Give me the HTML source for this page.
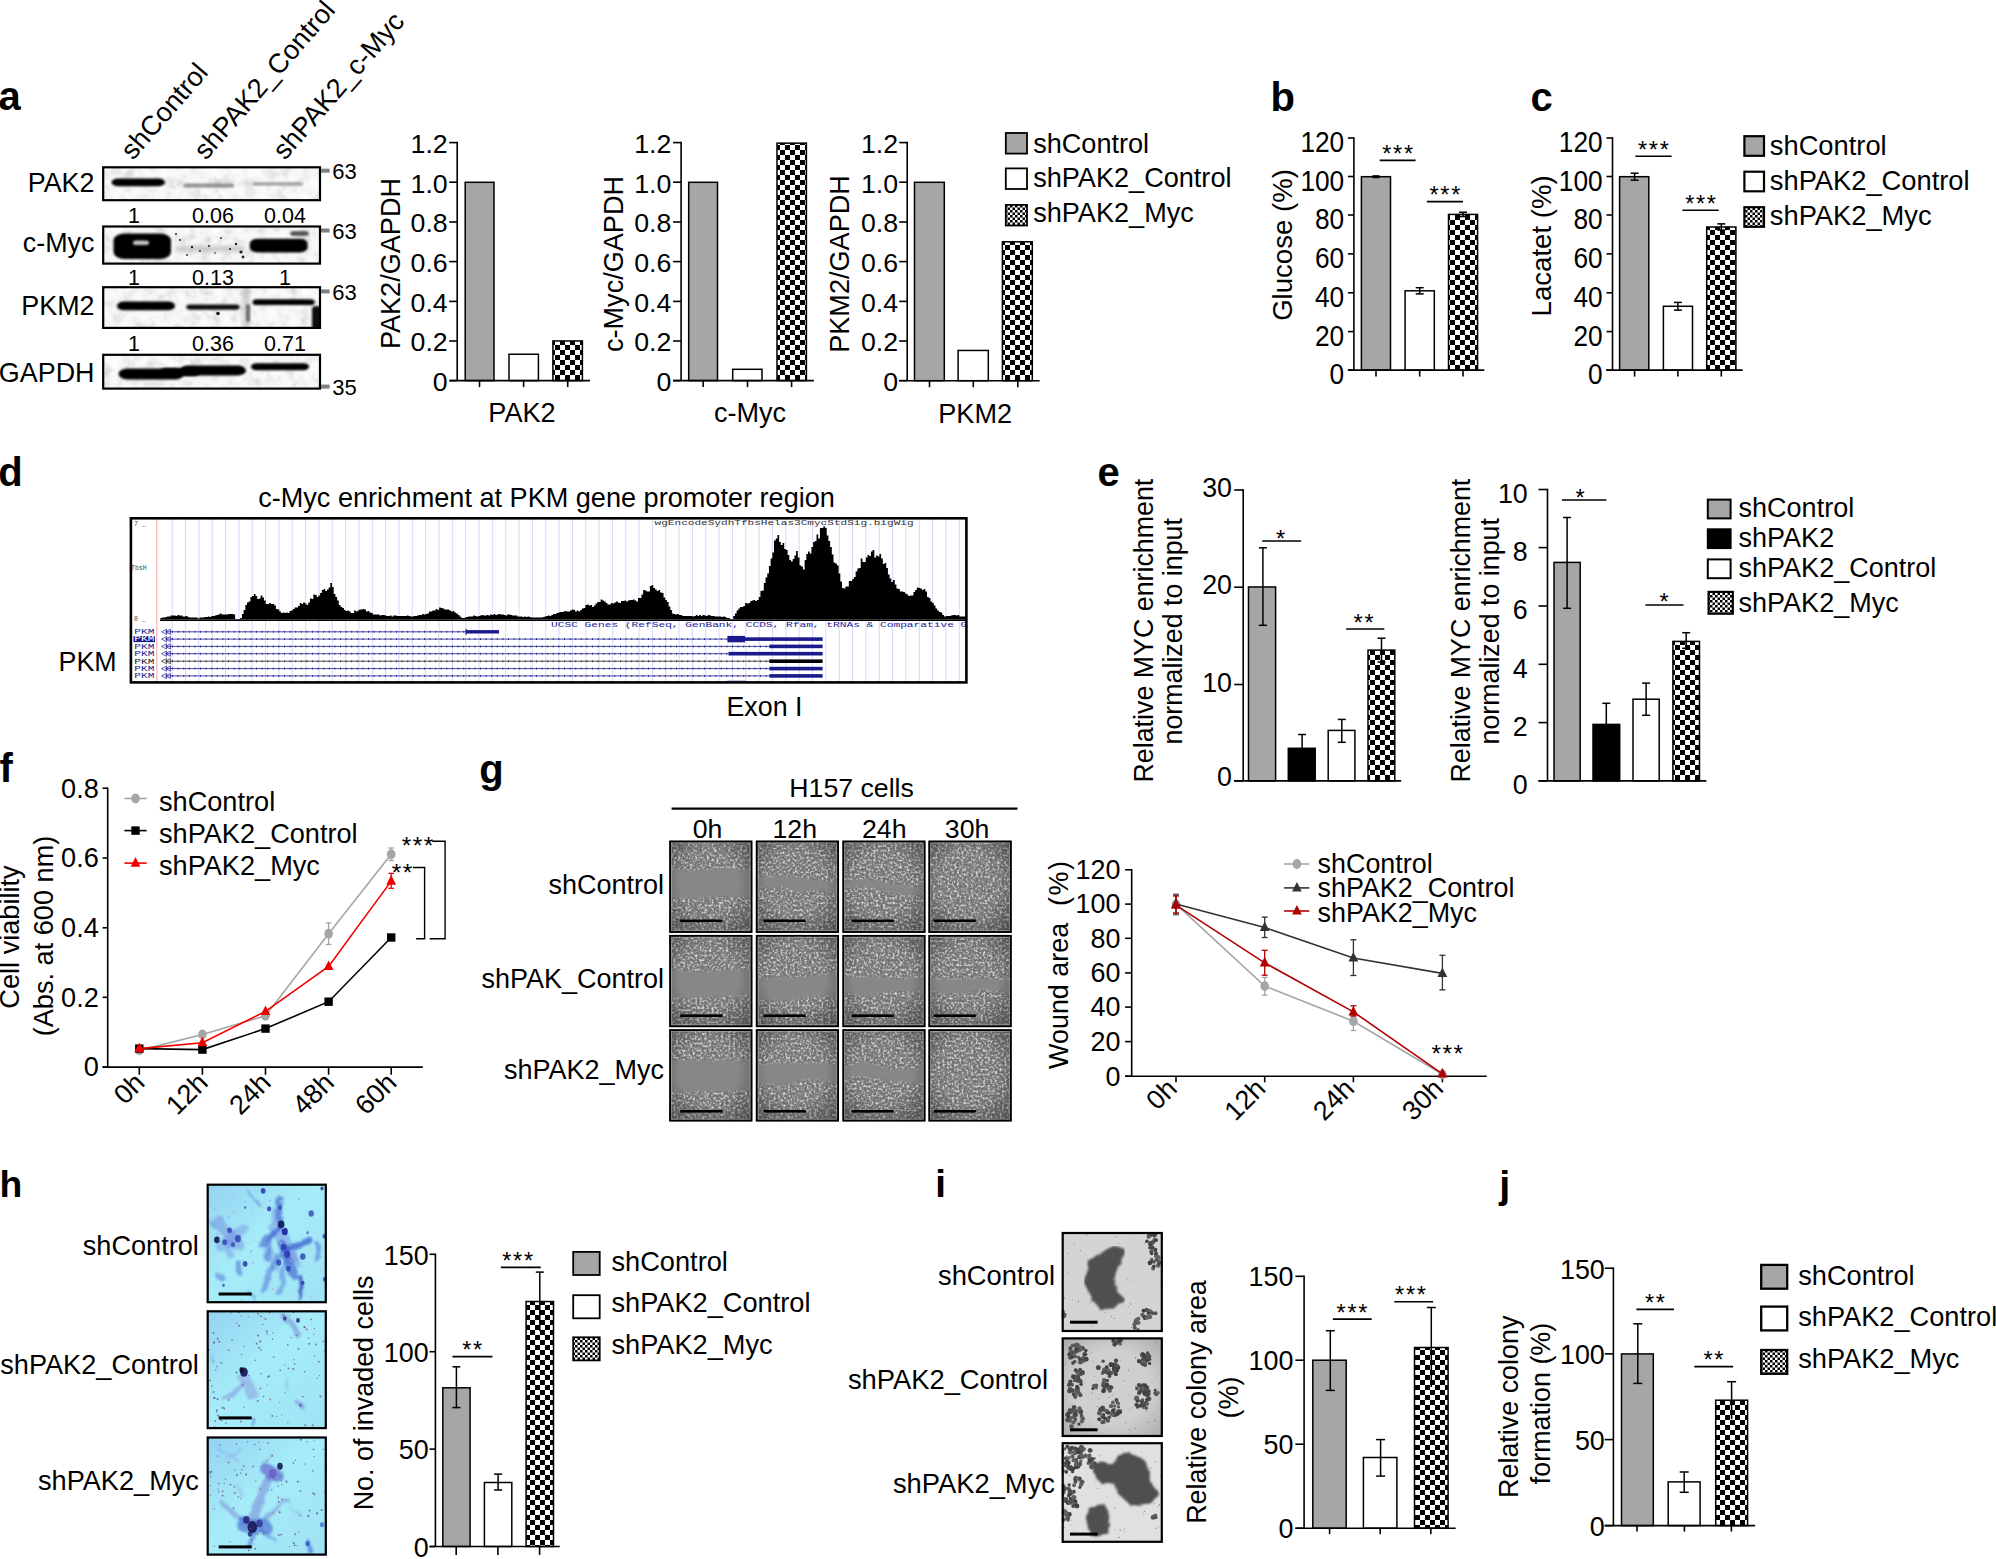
<!DOCTYPE html>
<html><head><meta charset="utf-8"><title>Figure</title>
<style>html,body{margin:0;padding:0;background:#fff}svg{display:block}text{font-family:"Liberation Sans",sans-serif}</style>
</head><body>
<svg width="1996" height="1559" viewBox="0 0 1996 1559">
<defs>
<pattern id="chk" width="10" height="10" patternUnits="userSpaceOnUse"><rect width="10" height="10" fill="#fff"/><rect width="5" height="5" fill="#000"/><rect x="5" y="5" width="5" height="5" fill="#000"/></pattern>
<pattern id="chks" width="5" height="5" patternUnits="userSpaceOnUse"><rect width="5" height="5" fill="#fff"/><rect width="2.5" height="2.5" fill="#000"/><rect x="2.5" y="2.5" width="2.5" height="2.5" fill="#000"/></pattern>
<filter id="blur1" x="-20%" y="-50%" width="140%" height="200%"><feGaussianBlur stdDeviation="1.1"/></filter>
<filter id="blur2" x="-20%" y="-50%" width="140%" height="200%"><feGaussianBlur stdDeviation="2.2"/></filter>
<filter id="blur3" x="-30%" y="-30%" width="160%" height="160%"><feGaussianBlur stdDeviation="3.5"/></filter>

<filter id="cells0" x="0" y="0" width="100%" height="100%" color-interpolation-filters="sRGB"><feTurbulence type="fractalNoise" baseFrequency="0.42" numOctaves="2" seed="3" result="n"/><feColorMatrix in="n" type="matrix" values="1 0 0 0 0  1 0 0 0 0  1 0 0 0 0  0 0 0 0 1"/><feComponentTransfer><feFuncR type="table" tableValues=".41 .43 .51 .82 .94"/><feFuncG type="table" tableValues=".41 .43 .51 .82 .94"/><feFuncB type="table" tableValues=".41 .43 .51 .82 .94"/></feComponentTransfer><feComposite in2="SourceGraphic" operator="in"/></filter>
<filter id="cells1" x="0" y="0" width="100%" height="100%" color-interpolation-filters="sRGB"><feTurbulence type="fractalNoise" baseFrequency="0.42" numOctaves="2" seed="11" result="n"/><feColorMatrix in="n" type="matrix" values="1 0 0 0 0  1 0 0 0 0  1 0 0 0 0  0 0 0 0 1"/><feComponentTransfer><feFuncR type="table" tableValues=".41 .43 .51 .82 .94"/><feFuncG type="table" tableValues=".41 .43 .51 .82 .94"/><feFuncB type="table" tableValues=".41 .43 .51 .82 .94"/></feComponentTransfer><feComposite in2="SourceGraphic" operator="in"/></filter>
<filter id="cells2" x="0" y="0" width="100%" height="100%" color-interpolation-filters="sRGB"><feTurbulence type="fractalNoise" baseFrequency="0.42" numOctaves="2" seed="23" result="n"/><feColorMatrix in="n" type="matrix" values="1 0 0 0 0  1 0 0 0 0  1 0 0 0 0  0 0 0 0 1"/><feComponentTransfer><feFuncR type="table" tableValues=".41 .43 .51 .82 .94"/><feFuncG type="table" tableValues=".41 .43 .51 .82 .94"/><feFuncB type="table" tableValues=".41 .43 .51 .82 .94"/></feComponentTransfer><feComposite in2="SourceGraphic" operator="in"/></filter>
<radialGradient id="vig" cx="48%" cy="46%" r="78%"><stop offset="0.45" stop-color="#000" stop-opacity="0"/><stop offset="1" stop-color="#000" stop-opacity=".45"/></radialGradient>

<linearGradient id="hbg" x1="0" y1="0" x2="1" y2="1"><stop offset="0" stop-color="#93d2f2"/><stop offset=".45" stop-color="#a6ecf8"/><stop offset="1" stop-color="#9fe2f6"/></linearGradient>
<radialGradient id="vig2" cx="50%" cy="50%" r="75%"><stop offset="0.5" stop-color="#000" stop-opacity="0"/><stop offset="1" stop-color="#000" stop-opacity=".3"/></radialGradient>
<filter id="blur05" x="-10%" y="-10%" width="120%" height="120%"><feGaussianBlur stdDeviation="0.6"/></filter>
<filter id="wob" x="-5%" y="-5%" width="110%" height="110%"><feTurbulence type="fractalNoise" baseFrequency="0.09" numOctaves="2" seed="5" result="t"/><feDisplacementMap in="SourceGraphic" in2="t" scale="7" xChannelSelector="R" yChannelSelector="G"/><feGaussianBlur stdDeviation="1.0"/></filter>
<filter id="blotn" x="0" y="0" width="100%" height="100%" color-interpolation-filters="sRGB"><feTurbulence type="fractalNoise" baseFrequency="0.09" numOctaves="3" seed="8" result="n"/><feColorMatrix in="n" type="matrix" values="1 0 0 0 0  1 0 0 0 0  1 0 0 0 0  0 0 0 0 1"/><feComponentTransfer><feFuncR type="table" tableValues=".80 .90 .965 .99 1"/><feFuncG type="table" tableValues=".80 .90 .965 .99 1"/><feFuncB type="table" tableValues=".80 .90 .965 .99 1"/></feComponentTransfer><feComposite in2="SourceGraphic" operator="in"/></filter>
</defs>
<rect width="1996" height="1559" fill="#fff"/>
<text x="-1.5" y="110.3" font-size="40" font-weight="bold">a</text>
<text transform="translate(133 161) rotate(-49)" font-size="27.2">shControl</text>
<text transform="translate(206 161) rotate(-49)" font-size="27.2">shPAK2_Control</text>
<text transform="translate(285 161) rotate(-49)" font-size="27.2">shPAK2_c-Myc</text>
<text x="134" y="222.9" font-size="21.5" text-anchor="middle">1</text>
<text x="213" y="222.9" font-size="21.5" text-anchor="middle">0.06</text>
<text x="285" y="222.9" font-size="21.5" text-anchor="middle">0.04</text>
<text x="134" y="284.6" font-size="21.5" text-anchor="middle">1</text>
<text x="213" y="284.6" font-size="21.5" text-anchor="middle">0.13</text>
<text x="285" y="284.6" font-size="21.5" text-anchor="middle">1</text>
<text x="134" y="351.3" font-size="21.5" text-anchor="middle">1</text>
<text x="213" y="351.3" font-size="21.5" text-anchor="middle">0.36</text>
<text x="285" y="351.3" font-size="21.5" text-anchor="middle">0.71</text>
<g filter="url(#blur1)">
<clipPath id="bc0"><rect x="102.4" y="166.5" width="218.4" height="34.5"/></clipPath>
<clipPath id="bc1"><rect x="102.4" y="225.7" width="218.4" height="38.69999999999999"/></clipPath>
<clipPath id="bc2"><rect x="102.4" y="286.4" width="218.4" height="42.30000000000001"/></clipPath>
<clipPath id="bc3"><rect x="102.4" y="354" width="218.4" height="35.39999999999998"/></clipPath>
</g>
<rect x="102.4" y="166.5" width="218.4" height="34.5" fill="#f4f4f4" filter="url(#blotn)"/>
<rect x="102.4" y="225.7" width="218.4" height="38.7" fill="#f4f4f4" filter="url(#blotn)"/>
<rect x="102.4" y="286.4" width="218.4" height="42.3" fill="#f4f4f4" filter="url(#blotn)"/>
<rect x="102.4" y="354" width="218.4" height="35.4" fill="#f4f4f4" filter="url(#blotn)"/>
<rect clip-path="url(#bc0)" x="111.5" y="178.5" width="53.5" height="7.7" rx="6.16" ry="3.85" fill="#000" opacity="1" filter="url(#blur1)"/>
<rect clip-path="url(#bc0)" x="183.4" y="183.6" width="50.8" height="3.8" rx="3.04" ry="1.9" fill="#777" opacity="0.8" filter="url(#blur1)"/>
<rect clip-path="url(#bc0)" x="252.5" y="182.2" width="50.8" height="3.2" rx="2.56" ry="1.6" fill="#888" opacity="0.8" filter="url(#blur1)"/>
<rect clip-path="url(#bc1)" x="113.5" y="233.5" width="57.5" height="25.5" rx="11.2" ry="7" fill="#000" opacity="1" filter="url(#blur1)"/>
<rect clip-path="url(#bc1)" x="249.7" y="238.8" width="57.9" height="13.7" rx="8" ry="5" fill="#000" opacity="1" filter="url(#blur1)"/>
<rect clip-path="url(#bc1)" x="133" y="240.5" width="16" height="4.5" rx="3.2" ry="2" fill="#ddd" opacity="0.9" filter="url(#blur1)"/>
<rect clip-path="url(#bc1)" x="290" y="231" width="19" height="5" rx="4" ry="2.5" fill="#333" opacity="0.8" filter="url(#blur1)"/>
<rect clip-path="url(#bc1)" x="175" y="246" width="70" height="6" rx="4.8" ry="3" fill="#999" opacity="0.5" filter="url(#blur2)"/>
<circle cx="180" cy="240" r="1" fill="#222"/>
<circle cx="192" cy="247" r="1.2" fill="#222"/>
<circle cx="200" cy="251" r="0.9" fill="#222"/>
<circle cx="209" cy="246" r="1" fill="#222"/>
<circle cx="221" cy="238" r="0.9" fill="#222"/>
<circle cx="230" cy="249" r="1.1" fill="#222"/>
<circle cx="236" cy="244" r="1.2" fill="#222"/>
<circle cx="241" cy="252" r="1.6" fill="#222"/>
<circle cx="243" cy="257" r="1.4" fill="#222"/>
<circle cx="187" cy="255" r="0.9" fill="#222"/>
<circle cx="215" cy="253" r="0.8" fill="#222"/>
<circle cx="176" cy="234" r="1" fill="#222"/>
<rect clip-path="url(#bc2)" x="117" y="301.6" width="58" height="8.6" rx="6.88" ry="4.3" fill="#000" opacity="1" filter="url(#blur1)"/>
<rect clip-path="url(#bc2)" x="186.2" y="304.4" width="53.6" height="5.4" rx="4.32" ry="2.7" fill="#111" opacity="1" filter="url(#blur1)"/>
<rect clip-path="url(#bc2)" x="252.5" y="299.3" width="62.1" height="5.8" rx="4.64" ry="2.9" fill="#000" opacity="1" filter="url(#blur1)"/>
<rect clip-path="url(#bc2)" x="312" y="306" width="10" height="24" rx="4.8" ry="3" fill="#111" opacity="1" filter="url(#blur1)"/>
<rect clip-path="url(#bc2)" x="242" y="286" width="8" height="44" rx="4" ry="3" fill="#aaa" opacity="0.5" filter="url(#blur2)"/>
<rect clip-path="url(#bc2)" x="246" y="304" width="4" height="18" rx="2" ry="2" fill="#444" opacity="0.7" filter="url(#blur1)"/>
<circle cx="218" cy="313.5" r="1.8" fill="#111"/>
<rect clip-path="url(#bc3)" x="118.5" y="368.4" width="65.5" height="11.1" rx="8.88" ry="5.55" fill="#000" opacity="1" filter="url(#blur1)"/>
<rect clip-path="url(#bc3)" x="180" y="365.4" width="66" height="10.1" rx="8.08" ry="5.05" fill="#000" opacity="1" filter="url(#blur1)"/>
<rect clip-path="url(#bc3)" x="251" y="363.3" width="58" height="6.9" rx="5.52" ry="3.45" fill="#000" opacity="1" filter="url(#blur1)"/>
<rect clip-path="url(#bc3)" x="160" y="368" width="40" height="8" rx="6.4" ry="4" fill="#000" opacity="1" filter="url(#blur1)"/>
<rect x="103.2" y="167.3" width="216.8" height="32.9" fill="none" stroke="#000" stroke-width="2.2"/>
<rect x="103.2" y="226.5" width="216.8" height="37.1" fill="none" stroke="#000" stroke-width="2.2"/>
<rect x="103.2" y="287.2" width="216.8" height="40.7" fill="none" stroke="#000" stroke-width="2.2"/>
<rect x="103.2" y="354.8" width="216.8" height="33.8" fill="none" stroke="#000" stroke-width="2.2"/>
<rect x="321" y="168.7" width="8.6" height="4" fill="#7f7f7f"/>
<text x="332.3" y="178.6" font-size="22">63</text>
<rect x="321" y="228.5" width="8.6" height="4" fill="#7f7f7f"/>
<text x="332.3" y="238.7" font-size="22">63</text>
<rect x="321" y="289.4" width="8.6" height="4" fill="#7f7f7f"/>
<text x="332.3" y="300" font-size="22">63</text>
<rect x="321" y="384.6" width="8.6" height="4" fill="#7f7f7f"/>
<text x="332.3" y="394.8" font-size="22">35</text>
<text x="94.5" y="192" font-size="26.9" text-anchor="end">PAK2</text>
<text x="94.5" y="251.5" font-size="26.9" text-anchor="end">c-Myc</text>
<text x="94.5" y="314.8" font-size="26.9" text-anchor="end">PKM2</text>
<text x="94.5" y="382.4" font-size="26.9" text-anchor="end">GAPDH</text>
<rect x="465.2" y="182.3" width="28.8" height="198.3" fill="#a6a6a6" stroke="#000" stroke-width="1.5"/>
<rect x="509" y="354.23" width="29.4" height="26.37" fill="#fff" stroke="#000" stroke-width="1.5"/>
<rect x="552.9" y="340.94" width="29.5" height="39.66" fill="url(#chk)" stroke="#000" stroke-width="1.5"/>
<line x1="457.2" y1="141.8" x2="457.2" y2="380.6" stroke="#000" stroke-width="1.6"/>
<line x1="449.7" y1="380.6" x2="590" y2="380.6" stroke="#000" stroke-width="1.6"/>
<line x1="449.2" y1="142.6" x2="457.2" y2="142.6" stroke="#000" stroke-width="1.6"/>
<text x="447.7" y="152.9" font-size="26.7" text-anchor="end">1.2</text>
<line x1="449.2" y1="182.2" x2="457.2" y2="182.2" stroke="#000" stroke-width="1.6"/>
<text x="447.7" y="192.5" font-size="26.7" text-anchor="end">1.0</text>
<line x1="449.2" y1="222" x2="457.2" y2="222" stroke="#000" stroke-width="1.6"/>
<text x="447.7" y="232.3" font-size="26.7" text-anchor="end">0.8</text>
<line x1="449.2" y1="261.6" x2="457.2" y2="261.6" stroke="#000" stroke-width="1.6"/>
<text x="447.7" y="271.9" font-size="26.7" text-anchor="end">0.6</text>
<line x1="449.2" y1="301.4" x2="457.2" y2="301.4" stroke="#000" stroke-width="1.6"/>
<text x="447.7" y="311.7" font-size="26.7" text-anchor="end">0.4</text>
<line x1="449.2" y1="341" x2="457.2" y2="341" stroke="#000" stroke-width="1.6"/>
<text x="447.7" y="351.3" font-size="26.7" text-anchor="end">0.2</text>
<line x1="449.2" y1="380.6" x2="457.2" y2="380.6" stroke="#000" stroke-width="1.6"/>
<text x="447.7" y="390.9" font-size="26.7" text-anchor="end">0</text>
<line x1="479.5" y1="380.6" x2="479.5" y2="387.1" stroke="#000" stroke-width="1.6"/>
<line x1="523.6" y1="380.6" x2="523.6" y2="387.1" stroke="#000" stroke-width="1.6"/>
<line x1="567.7" y1="380.6" x2="567.7" y2="387.1" stroke="#000" stroke-width="1.6"/>
<text transform="translate(400 263.5) rotate(-90)" font-size="27.1" text-anchor="middle">PAK2/GAPDH</text>
<text x="522" y="421.9" font-size="27.1" text-anchor="middle">PAK2</text>
<rect x="688.7" y="182.3" width="28.8" height="198.3" fill="#a6a6a6" stroke="#000" stroke-width="1.5"/>
<rect x="732.7" y="369.3" width="29.3" height="11.3" fill="#fff" stroke="#000" stroke-width="1.5"/>
<rect x="777" y="143.14" width="29.4" height="237.46" fill="url(#chk)" stroke="#000" stroke-width="1.5"/>
<line x1="681.1" y1="141.8" x2="681.1" y2="380.6" stroke="#000" stroke-width="1.6"/>
<line x1="673" y1="380.6" x2="813.9" y2="380.6" stroke="#000" stroke-width="1.6"/>
<line x1="673.1" y1="142.6" x2="681.1" y2="142.6" stroke="#000" stroke-width="1.6"/>
<text x="671.4" y="152.9" font-size="26.7" text-anchor="end">1.2</text>
<line x1="673.1" y1="182.2" x2="681.1" y2="182.2" stroke="#000" stroke-width="1.6"/>
<text x="671.4" y="192.5" font-size="26.7" text-anchor="end">1.0</text>
<line x1="673.1" y1="222" x2="681.1" y2="222" stroke="#000" stroke-width="1.6"/>
<text x="671.4" y="232.3" font-size="26.7" text-anchor="end">0.8</text>
<line x1="673.1" y1="261.6" x2="681.1" y2="261.6" stroke="#000" stroke-width="1.6"/>
<text x="671.4" y="271.9" font-size="26.7" text-anchor="end">0.6</text>
<line x1="673.1" y1="301.4" x2="681.1" y2="301.4" stroke="#000" stroke-width="1.6"/>
<text x="671.4" y="311.7" font-size="26.7" text-anchor="end">0.4</text>
<line x1="673.1" y1="341" x2="681.1" y2="341" stroke="#000" stroke-width="1.6"/>
<text x="671.4" y="351.3" font-size="26.7" text-anchor="end">0.2</text>
<line x1="673.1" y1="380.6" x2="681.1" y2="380.6" stroke="#000" stroke-width="1.6"/>
<text x="671.4" y="390.9" font-size="26.7" text-anchor="end">0</text>
<line x1="703.2" y1="380.6" x2="703.2" y2="387.1" stroke="#000" stroke-width="1.6"/>
<line x1="747.5" y1="380.6" x2="747.5" y2="387.1" stroke="#000" stroke-width="1.6"/>
<line x1="791.6" y1="380.6" x2="791.6" y2="387.1" stroke="#000" stroke-width="1.6"/>
<text transform="translate(623 264) rotate(-90)" font-size="27.1" text-anchor="middle">c-Myc/GAPDH</text>
<text x="750" y="421.9" font-size="27.1" text-anchor="middle">c-Myc</text>
<rect x="914.5" y="182.3" width="29.8" height="198.4" fill="#a6a6a6" stroke="#000" stroke-width="1.5"/>
<rect x="958.1" y="350.46" width="30.2" height="30.24" fill="#fff" stroke="#000" stroke-width="1.5"/>
<rect x="1002.4" y="241.79" width="29.9" height="138.91" fill="url(#chk)" stroke="#000" stroke-width="1.5"/>
<line x1="907.2" y1="141.8" x2="907.2" y2="380.7" stroke="#000" stroke-width="1.6"/>
<line x1="899.1" y1="380.7" x2="1039.7" y2="380.7" stroke="#000" stroke-width="1.6"/>
<line x1="899.2" y1="142.6" x2="907.2" y2="142.6" stroke="#000" stroke-width="1.6"/>
<text x="898" y="152.9" font-size="26.7" text-anchor="end">1.2</text>
<line x1="899.2" y1="182.2" x2="907.2" y2="182.2" stroke="#000" stroke-width="1.6"/>
<text x="898" y="192.5" font-size="26.7" text-anchor="end">1.0</text>
<line x1="899.2" y1="222" x2="907.2" y2="222" stroke="#000" stroke-width="1.6"/>
<text x="898" y="232.3" font-size="26.7" text-anchor="end">0.8</text>
<line x1="899.2" y1="261.6" x2="907.2" y2="261.6" stroke="#000" stroke-width="1.6"/>
<text x="898" y="271.9" font-size="26.7" text-anchor="end">0.6</text>
<line x1="899.2" y1="301.4" x2="907.2" y2="301.4" stroke="#000" stroke-width="1.6"/>
<text x="898" y="311.7" font-size="26.7" text-anchor="end">0.4</text>
<line x1="899.2" y1="341" x2="907.2" y2="341" stroke="#000" stroke-width="1.6"/>
<text x="898" y="351.3" font-size="26.7" text-anchor="end">0.2</text>
<line x1="899.2" y1="380.6" x2="907.2" y2="380.6" stroke="#000" stroke-width="1.6"/>
<text x="898" y="390.9" font-size="26.7" text-anchor="end">0</text>
<line x1="929.5" y1="380.7" x2="929.5" y2="387.2" stroke="#000" stroke-width="1.6"/>
<line x1="973.3" y1="380.7" x2="973.3" y2="387.2" stroke="#000" stroke-width="1.6"/>
<line x1="1017.8" y1="380.7" x2="1017.8" y2="387.2" stroke="#000" stroke-width="1.6"/>
<text transform="translate(848.9 264) rotate(-90)" font-size="27.1" text-anchor="middle">PKM2/GAPDH</text>
<text x="975.2" y="422.6" font-size="27.1" text-anchor="middle">PKM2</text>
<rect x="1005.8" y="133" width="21.2" height="20.6" fill="#a6a6a6" stroke="#000" stroke-width="1.8"/>
<rect x="1005.8" y="168.4" width="21.2" height="20.6" fill="#fff" stroke="#000" stroke-width="1.8"/>
<rect x="1005.8" y="204.9" width="21.2" height="20.6" fill="url(#chks)" stroke="#000" stroke-width="1.8"/>
<text x="1033.2" y="153" font-size="27.1">shControl</text>
<text x="1033.2" y="187.1" font-size="27.1">shPAK2_Control</text>
<text x="1033.2" y="221.5" font-size="27.1">shPAK2_Myc</text>
<text x="1270.6" y="110.6" font-size="40" font-weight="bold">b</text>
<text x="1530.5" y="110.6" font-size="40" font-weight="bold">c</text>
<rect x="1361.4" y="176.68" width="29.1" height="193.42" fill="#a6a6a6" stroke="#000" stroke-width="1.5"/>
<rect x="1405.1" y="290.8" width="29.2" height="79.3" fill="#fff" stroke="#000" stroke-width="1.5"/>
<rect x="1448.5" y="214.4" width="29.1" height="155.7" fill="url(#chk)" stroke="#000" stroke-width="1.5"/>
<line x1="1353.9" y1="137.2" x2="1353.9" y2="370.1" stroke="#000" stroke-width="1.6"/>
<line x1="1347.9" y1="370.1" x2="1484.3" y2="370.1" stroke="#000" stroke-width="1.6"/>
<line x1="1347.9" y1="138" x2="1353.9" y2="138" stroke="#000" stroke-width="1.6"/>
<text transform="translate(1344.2 152.2) scale(0.915 1)" font-size="28.7" text-anchor="end">120</text>
<line x1="1347.9" y1="176.5" x2="1353.9" y2="176.5" stroke="#000" stroke-width="1.6"/>
<text transform="translate(1344.2 190.7) scale(0.915 1)" font-size="28.7" text-anchor="end">100</text>
<line x1="1347.9" y1="215" x2="1353.9" y2="215" stroke="#000" stroke-width="1.6"/>
<text transform="translate(1344.2 229.2) scale(0.915 1)" font-size="28.7" text-anchor="end">80</text>
<line x1="1347.9" y1="253.9" x2="1353.9" y2="253.9" stroke="#000" stroke-width="1.6"/>
<text transform="translate(1344.2 268.1) scale(0.915 1)" font-size="28.7" text-anchor="end">60</text>
<line x1="1347.9" y1="292.8" x2="1353.9" y2="292.8" stroke="#000" stroke-width="1.6"/>
<text transform="translate(1344.2 307) scale(0.915 1)" font-size="28.7" text-anchor="end">40</text>
<line x1="1347.9" y1="331.6" x2="1353.9" y2="331.6" stroke="#000" stroke-width="1.6"/>
<text transform="translate(1344.2 345.8) scale(0.915 1)" font-size="28.7" text-anchor="end">20</text>
<line x1="1347.9" y1="370.1" x2="1353.9" y2="370.1" stroke="#000" stroke-width="1.6"/>
<text transform="translate(1344.2 384.3) scale(0.915 1)" font-size="28.7" text-anchor="end">0</text>
<line x1="1376" y1="370.1" x2="1376" y2="376.6" stroke="#000" stroke-width="1.6"/>
<line x1="1419.7" y1="370.1" x2="1419.7" y2="376.6" stroke="#000" stroke-width="1.6"/>
<line x1="1463" y1="370.1" x2="1463" y2="376.6" stroke="#000" stroke-width="1.6"/>
<line x1="1376" y1="175.91" x2="1376" y2="177.45" stroke="#000" stroke-width="1.5"/>
<line x1="1372.5" y1="175.91" x2="1379.5" y2="175.91" stroke="#000" stroke-width="1.5"/>
<line x1="1372.5" y1="177.45" x2="1379.5" y2="177.45" stroke="#000" stroke-width="1.5"/>
<line x1="1419.7" y1="287.7" x2="1419.7" y2="293.89" stroke="#000" stroke-width="1.5"/>
<line x1="1415.7" y1="287.7" x2="1423.7" y2="287.7" stroke="#000" stroke-width="1.5"/>
<line x1="1415.7" y1="293.89" x2="1423.7" y2="293.89" stroke="#000" stroke-width="1.5"/>
<line x1="1463" y1="212.27" x2="1463" y2="216.52" stroke="#000" stroke-width="1.5"/>
<line x1="1459" y1="212.27" x2="1467" y2="212.27" stroke="#000" stroke-width="1.5"/>
<line x1="1459" y1="216.52" x2="1467" y2="216.52" stroke="#000" stroke-width="1.5"/>
<line x1="1379.7" y1="160.4" x2="1415.6" y2="160.4" stroke="#000" stroke-width="1.6"/>
<text x="1398.5" y="162" font-size="23.5" text-anchor="middle" letter-spacing="1.7">***</text>
<line x1="1426.8" y1="201.6" x2="1463" y2="201.6" stroke="#000" stroke-width="1.6"/>
<text x="1445.75" y="203.2" font-size="23.5" text-anchor="middle" letter-spacing="1.7">***</text>
<text transform="translate(1292.3 245) rotate(-90) scale(0.985 1)" font-size="28" text-anchor="middle">Glucose (%)</text>
<rect x="1619.6" y="176.68" width="29.2" height="193.42" fill="#a6a6a6" stroke="#000" stroke-width="1.5"/>
<rect x="1663.4" y="306.27" width="29.1" height="63.83" fill="#fff" stroke="#000" stroke-width="1.5"/>
<rect x="1706.7" y="226.97" width="29.2" height="143.13" fill="url(#chk)" stroke="#000" stroke-width="1.5"/>
<line x1="1612.5" y1="137.2" x2="1612.5" y2="370.1" stroke="#000" stroke-width="1.6"/>
<line x1="1606.2" y1="370.1" x2="1742.6" y2="370.1" stroke="#000" stroke-width="1.6"/>
<line x1="1606.5" y1="138" x2="1612.5" y2="138" stroke="#000" stroke-width="1.6"/>
<text transform="translate(1602.6 152.2) scale(0.915 1)" font-size="28.7" text-anchor="end">120</text>
<line x1="1606.5" y1="176.5" x2="1612.5" y2="176.5" stroke="#000" stroke-width="1.6"/>
<text transform="translate(1602.6 190.7) scale(0.915 1)" font-size="28.7" text-anchor="end">100</text>
<line x1="1606.5" y1="215" x2="1612.5" y2="215" stroke="#000" stroke-width="1.6"/>
<text transform="translate(1602.6 229.2) scale(0.915 1)" font-size="28.7" text-anchor="end">80</text>
<line x1="1606.5" y1="253.9" x2="1612.5" y2="253.9" stroke="#000" stroke-width="1.6"/>
<text transform="translate(1602.6 268.1) scale(0.915 1)" font-size="28.7" text-anchor="end">60</text>
<line x1="1606.5" y1="292.8" x2="1612.5" y2="292.8" stroke="#000" stroke-width="1.6"/>
<text transform="translate(1602.6 307) scale(0.915 1)" font-size="28.7" text-anchor="end">40</text>
<line x1="1606.5" y1="331.6" x2="1612.5" y2="331.6" stroke="#000" stroke-width="1.6"/>
<text transform="translate(1602.6 345.8) scale(0.915 1)" font-size="28.7" text-anchor="end">20</text>
<line x1="1606.5" y1="370.1" x2="1612.5" y2="370.1" stroke="#000" stroke-width="1.6"/>
<text transform="translate(1602.6 384.3) scale(0.915 1)" font-size="28.7" text-anchor="end">0</text>
<line x1="1634.6" y1="370.1" x2="1634.6" y2="376.6" stroke="#000" stroke-width="1.6"/>
<line x1="1677.9" y1="370.1" x2="1677.9" y2="376.6" stroke="#000" stroke-width="1.6"/>
<line x1="1721.3" y1="370.1" x2="1721.3" y2="376.6" stroke="#000" stroke-width="1.6"/>
<line x1="1634.6" y1="173.2" x2="1634.6" y2="180.16" stroke="#000" stroke-width="1.5"/>
<line x1="1630.6" y1="173.2" x2="1638.6" y2="173.2" stroke="#000" stroke-width="1.5"/>
<line x1="1630.6" y1="180.16" x2="1638.6" y2="180.16" stroke="#000" stroke-width="1.5"/>
<line x1="1677.9" y1="302.4" x2="1677.9" y2="310.14" stroke="#000" stroke-width="1.5"/>
<line x1="1673.9" y1="302.4" x2="1681.9" y2="302.4" stroke="#000" stroke-width="1.5"/>
<line x1="1673.9" y1="310.14" x2="1681.9" y2="310.14" stroke="#000" stroke-width="1.5"/>
<line x1="1721.3" y1="223.87" x2="1721.3" y2="230.06" stroke="#000" stroke-width="1.5"/>
<line x1="1717.3" y1="223.87" x2="1725.3" y2="223.87" stroke="#000" stroke-width="1.5"/>
<line x1="1717.3" y1="230.06" x2="1725.3" y2="230.06" stroke="#000" stroke-width="1.5"/>
<line x1="1635.3" y1="156.3" x2="1671.6" y2="156.3" stroke="#000" stroke-width="1.6"/>
<text x="1654.3" y="157.9" font-size="23.5" text-anchor="middle" letter-spacing="1.7">***</text>
<line x1="1682.4" y1="210.2" x2="1718.7" y2="210.2" stroke="#000" stroke-width="1.6"/>
<text x="1701.4" y="211.8" font-size="23.5" text-anchor="middle" letter-spacing="1.7">***</text>
<text transform="translate(1550.5 245.9) rotate(-90) scale(0.985 1)" font-size="28" text-anchor="middle">Lacatet (%)</text>
<rect x="1744.4" y="136.2" width="19.6" height="19.6" fill="#a6a6a6" stroke="#000" stroke-width="2.2"/>
<rect x="1744.4" y="171.7" width="19.6" height="19.6" fill="#fff" stroke="#000" stroke-width="2.2"/>
<rect x="1744.4" y="207.2" width="19.6" height="19.6" fill="url(#chks)" stroke="#000" stroke-width="2.2"/>
<text x="1769.8" y="155.2" font-size="27.3">shControl</text>
<text x="1769.8" y="190.3" font-size="27.3">shPAK2_Control</text>
<text x="1769.8" y="225.1" font-size="27.3">shPAK2_Myc</text>
<text x="-1.8" y="486.3" font-size="40" font-weight="bold">d</text>
<text x="546.5" y="506.6" font-size="27.1" text-anchor="middle">c-Myc enrichment at PKM gene promoter region</text>
<text x="58.6" y="670.5" font-size="26.8">PKM</text>
<text x="726.5" y="715.5" font-size="26.8">Exon I</text>
<clipPath id="dclip"><rect x="130.3" y="517.7" width="836.7" height="165.29999999999995"/></clipPath>
<g clip-path="url(#dclip)">
<rect x="130.3" y="517.7" width="836.7" height="165.3" fill="#fff"/>
<line x1="172.2" y1="517.7" x2="172.2" y2="683" stroke="#d9d9ff" stroke-width="1.1"/>
<line x1="185.54" y1="517.7" x2="185.54" y2="683" stroke="#d9d9ff" stroke-width="1.1"/>
<line x1="198.88" y1="517.7" x2="198.88" y2="683" stroke="#d9d9ff" stroke-width="1.1"/>
<line x1="212.22" y1="517.7" x2="212.22" y2="683" stroke="#d9d9ff" stroke-width="1.1"/>
<line x1="225.56" y1="517.7" x2="225.56" y2="683" stroke="#d9d9ff" stroke-width="1.1"/>
<line x1="238.9" y1="517.7" x2="238.9" y2="683" stroke="#d9d9ff" stroke-width="1.1"/>
<line x1="252.24" y1="517.7" x2="252.24" y2="683" stroke="#d9d9ff" stroke-width="1.1"/>
<line x1="265.58" y1="517.7" x2="265.58" y2="683" stroke="#d9d9ff" stroke-width="1.1"/>
<line x1="278.92" y1="517.7" x2="278.92" y2="683" stroke="#d9d9ff" stroke-width="1.1"/>
<line x1="292.26" y1="517.7" x2="292.26" y2="683" stroke="#d9d9ff" stroke-width="1.1"/>
<line x1="305.6" y1="517.7" x2="305.6" y2="683" stroke="#d9d9ff" stroke-width="1.1"/>
<line x1="318.94" y1="517.7" x2="318.94" y2="683" stroke="#d9d9ff" stroke-width="1.1"/>
<line x1="332.28" y1="517.7" x2="332.28" y2="683" stroke="#d9d9ff" stroke-width="1.1"/>
<line x1="345.62" y1="517.7" x2="345.62" y2="683" stroke="#d9d9ff" stroke-width="1.1"/>
<line x1="358.96" y1="517.7" x2="358.96" y2="683" stroke="#d9d9ff" stroke-width="1.1"/>
<line x1="372.3" y1="517.7" x2="372.3" y2="683" stroke="#d9d9ff" stroke-width="1.1"/>
<line x1="385.64" y1="517.7" x2="385.64" y2="683" stroke="#d9d9ff" stroke-width="1.1"/>
<line x1="398.98" y1="517.7" x2="398.98" y2="683" stroke="#d9d9ff" stroke-width="1.1"/>
<line x1="412.32" y1="517.7" x2="412.32" y2="683" stroke="#d9d9ff" stroke-width="1.1"/>
<line x1="425.66" y1="517.7" x2="425.66" y2="683" stroke="#d9d9ff" stroke-width="1.1"/>
<line x1="439" y1="517.7" x2="439" y2="683" stroke="#d9d9ff" stroke-width="1.1"/>
<line x1="452.34" y1="517.7" x2="452.34" y2="683" stroke="#d9d9ff" stroke-width="1.1"/>
<line x1="465.68" y1="517.7" x2="465.68" y2="683" stroke="#d9d9ff" stroke-width="1.1"/>
<line x1="479.02" y1="517.7" x2="479.02" y2="683" stroke="#d9d9ff" stroke-width="1.1"/>
<line x1="492.36" y1="517.7" x2="492.36" y2="683" stroke="#d9d9ff" stroke-width="1.1"/>
<line x1="505.7" y1="517.7" x2="505.7" y2="683" stroke="#d9d9ff" stroke-width="1.1"/>
<line x1="519.04" y1="517.7" x2="519.04" y2="683" stroke="#d9d9ff" stroke-width="1.1"/>
<line x1="532.38" y1="517.7" x2="532.38" y2="683" stroke="#d9d9ff" stroke-width="1.1"/>
<line x1="545.72" y1="517.7" x2="545.72" y2="683" stroke="#d9d9ff" stroke-width="1.1"/>
<line x1="559.06" y1="517.7" x2="559.06" y2="683" stroke="#d9d9ff" stroke-width="1.1"/>
<line x1="572.4" y1="517.7" x2="572.4" y2="683" stroke="#d9d9ff" stroke-width="1.1"/>
<line x1="585.74" y1="517.7" x2="585.74" y2="683" stroke="#d9d9ff" stroke-width="1.1"/>
<line x1="599.08" y1="517.7" x2="599.08" y2="683" stroke="#d9d9ff" stroke-width="1.1"/>
<line x1="612.42" y1="517.7" x2="612.42" y2="683" stroke="#d9d9ff" stroke-width="1.1"/>
<line x1="625.76" y1="517.7" x2="625.76" y2="683" stroke="#d9d9ff" stroke-width="1.1"/>
<line x1="639.1" y1="517.7" x2="639.1" y2="683" stroke="#d9d9ff" stroke-width="1.1"/>
<line x1="652.44" y1="517.7" x2="652.44" y2="683" stroke="#d9d9ff" stroke-width="1.1"/>
<line x1="665.78" y1="517.7" x2="665.78" y2="683" stroke="#d9d9ff" stroke-width="1.1"/>
<line x1="679.12" y1="517.7" x2="679.12" y2="683" stroke="#d9d9ff" stroke-width="1.1"/>
<line x1="692.46" y1="517.7" x2="692.46" y2="683" stroke="#d9d9ff" stroke-width="1.1"/>
<line x1="705.8" y1="517.7" x2="705.8" y2="683" stroke="#d9d9ff" stroke-width="1.1"/>
<line x1="719.14" y1="517.7" x2="719.14" y2="683" stroke="#d9d9ff" stroke-width="1.1"/>
<line x1="732.48" y1="517.7" x2="732.48" y2="683" stroke="#d9d9ff" stroke-width="1.1"/>
<line x1="745.82" y1="517.7" x2="745.82" y2="683" stroke="#d9d9ff" stroke-width="1.1"/>
<line x1="759.16" y1="517.7" x2="759.16" y2="683" stroke="#d9d9ff" stroke-width="1.1"/>
<line x1="772.5" y1="517.7" x2="772.5" y2="683" stroke="#d9d9ff" stroke-width="1.1"/>
<line x1="785.84" y1="517.7" x2="785.84" y2="683" stroke="#d9d9ff" stroke-width="1.1"/>
<line x1="799.18" y1="517.7" x2="799.18" y2="683" stroke="#d9d9ff" stroke-width="1.1"/>
<line x1="812.52" y1="517.7" x2="812.52" y2="683" stroke="#d9d9ff" stroke-width="1.1"/>
<line x1="825.86" y1="517.7" x2="825.86" y2="683" stroke="#d9d9ff" stroke-width="1.1"/>
<line x1="839.2" y1="517.7" x2="839.2" y2="683" stroke="#d9d9ff" stroke-width="1.1"/>
<line x1="852.54" y1="517.7" x2="852.54" y2="683" stroke="#d9d9ff" stroke-width="1.1"/>
<line x1="865.88" y1="517.7" x2="865.88" y2="683" stroke="#d9d9ff" stroke-width="1.1"/>
<line x1="879.22" y1="517.7" x2="879.22" y2="683" stroke="#d9d9ff" stroke-width="1.1"/>
<line x1="892.56" y1="517.7" x2="892.56" y2="683" stroke="#d9d9ff" stroke-width="1.1"/>
<line x1="905.9" y1="517.7" x2="905.9" y2="683" stroke="#d9d9ff" stroke-width="1.1"/>
<line x1="919.24" y1="517.7" x2="919.24" y2="683" stroke="#d9d9ff" stroke-width="1.1"/>
<line x1="932.58" y1="517.7" x2="932.58" y2="683" stroke="#d9d9ff" stroke-width="1.1"/>
<line x1="945.92" y1="517.7" x2="945.92" y2="683" stroke="#d9d9ff" stroke-width="1.1"/>
<line x1="959.26" y1="517.7" x2="959.26" y2="683" stroke="#d9d9ff" stroke-width="1.1"/>
<line x1="156.8" y1="517.7" x2="156.8" y2="683" stroke="#ffa8a8" stroke-width="1.1"/>
<path d="M160.32 619.6 H160.32 V618 H162.02 V617.5 H163.72 V617.5 H165.42 V617 H167.12 V616.5 H168.82 V616.5 H170.52 V615.5 H172.22 V615.5 H173.92 V615.5 H175.62 V616 H177.32 V615 H179.02 V615.5 H180.72 V615.5 H182.42 V616.5 H184.12 V616.5 H185.82 V616 H187.52 V617 H189.22 V617.5 H190.92 V617.5 H192.62 V617.5 H194.32 V617.5 H196.02 V617.5 H197.72 V618.5 H199.42 V617.5 H201.12 V617.5 H202.82 V617.5 H204.52 V617 H206.22 V617 H207.92 V616.5 H209.62 V617 H211.32 V616 H213.02 V616 H214.72 V615.5 H216.42 V615 H218.12 V614.5 H219.82 V613.5 H221.52 V614.5 H223.22 V614.5 H224.92 V614.5 H226.62 V614.5 H228.32 V614 H230.02 V614 H231.72 V614 H233.42 V614.5 H235.12 V619 H236.82 V619 H238.52 V619 H240.22 V618 H241.92 V614 H243.62 V610 H245.32 V605 H247.02 V602.5 H248.72 V601.5 H250.42 V597 H252.12 V596 H253.82 V594 H255.52 V596 H257.22 V599 H258.92 V598.5 H260.62 V595.5 H262.32 V597.5 H264.02 V600.5 H265.72 V604 H267.42 V604 H269.12 V603 H270.82 V604 H272.52 V604 H274.22 V605.5 H275.92 V609 H277.62 V609.5 H279.32 V611.5 H281.02 V613 H282.72 V612.5 H284.42 V613 H286.12 V612.5 H287.82 V613 H289.52 V611 H291.22 V610.5 H292.92 V609 H294.62 V607.5 H296.32 V607.5 H298.02 V606 H299.72 V603 H301.42 V604 H303.12 V602.5 H304.82 V603.5 H306.52 V605 H308.22 V602.5 H309.92 V598.5 H311.62 V599 H313.32 V594.5 H315.02 V595 H316.72 V597 H318.42 V595.5 H320.12 V593 H321.82 V590 H323.52 V589 H325.22 V591 H326.92 V589.5 H328.62 V587.5 H330.32 V583 H332.02 V587 H333.72 V594 H335.42 V597 H337.12 V600.5 H338.82 V605 H340.52 V607 H342.22 V608 H343.92 V610 H345.62 V611 H347.32 V610.5 H349.02 V611.5 H350.72 V613 H352.42 V613 H354.12 V610.5 H355.82 V611.5 H357.52 V610.5 H359.22 V609.5 H360.92 V609.5 H362.62 V609 H364.32 V609.5 H366.02 V611.5 H367.72 V611 H369.42 V612.5 H371.12 V613 H372.82 V614.5 H374.52 V614.5 H376.22 V614.5 H377.92 V614.5 H379.62 V615.5 H381.32 V615 H383.02 V615 H384.72 V615.5 H386.42 V616 H388.12 V616 H389.82 V615.5 H391.52 V616.5 H393.22 V615.5 H394.92 V615.5 H396.62 V616 H398.32 V616 H400.02 V616 H401.72 V616 H403.42 V616 H405.12 V616 H406.82 V615.5 H408.52 V616 H410.22 V616.5 H411.92 V616.5 H413.62 V616 H415.32 V616 H417.02 V615.5 H418.72 V615 H420.42 V615 H422.12 V614 H423.82 V614.5 H425.52 V614 H427.22 V613.5 H428.92 V611.5 H430.62 V611.5 H432.32 V610.5 H434.02 V610.5 H435.72 V609 H437.42 V610 H439.12 V607.5 H440.82 V608 H442.52 V608.5 H444.22 V609.5 H445.92 V609.5 H447.62 V609.5 H449.32 V610.5 H451.02 V611.5 H452.72 V611 H454.42 V612.5 H456.12 V613.5 H457.82 V615 H459.52 V616.5 H461.22 V618 H462.92 V618 H464.62 V617.5 H466.32 V617 H468.02 V616.5 H469.72 V616.5 H471.42 V616.5 H473.12 V615.5 H474.82 V616 H476.52 V616.5 H478.22 V616 H479.92 V615.5 H481.62 V615 H483.32 V615.5 H485.02 V615.5 H486.72 V615 H488.42 V615.5 H490.12 V614.5 H491.82 V615 H493.52 V614 H495.22 V615 H496.92 V614.5 H498.62 V614 H500.32 V614.5 H502.02 V614.5 H503.72 V615 H505.42 V615.5 H507.12 V614.5 H508.82 V614.5 H510.52 V615 H512.22 V615.5 H513.92 V615.5 H515.62 V615.5 H517.32 V616.5 H519.02 V616.5 H520.72 V616.5 H522.42 V617 H524.12 V616.5 H525.82 V617 H527.52 V616.5 H529.22 V617 H530.92 V617.5 H532.62 V617.5 H534.32 V617.5 H536.02 V617.5 H537.72 V617.5 H539.42 V617.5 H541.12 V617.5 H542.82 V617 H544.52 V616.5 H546.22 V616 H547.92 V615.5 H549.62 V616 H551.32 V615 H553.02 V614 H554.72 V614 H556.42 V613 H558.12 V612.5 H559.82 V612 H561.52 V612 H563.22 V611.5 H564.92 V611 H566.62 V611.5 H568.32 V611.5 H570.02 V610.5 H571.72 V609.5 H573.42 V610 H575.12 V611.5 H576.82 V610.5 H578.52 V611.5 H580.22 V610 H581.92 V608.5 H583.62 V608 H585.32 V605 H587.02 V604.5 H588.72 V605.5 H590.42 V605 H592.12 V607 H593.82 V605.5 H595.52 V603.5 H597.22 V602 H598.92 V602 H600.62 V599.5 H602.32 V600.5 H604.02 V601.5 H605.72 V603 H607.42 V604.5 H609.12 V604.5 H610.82 V603 H612.52 V603.5 H614.22 V602.5 H615.92 V601.5 H617.62 V602.5 H619.32 V603 H621.02 V601 H622.72 V601 H624.42 V600.5 H626.12 V601.5 H627.82 V600.5 H629.52 V600 H631.22 V600 H632.92 V599.5 H634.62 V600.5 H636.32 V601.5 H638.02 V598 H639.72 V598 H641.42 V594.5 H643.12 V590 H644.82 V590.5 H646.52 V591.5 H648.22 V591.5 H649.92 V586 H651.62 V585 H653.32 V588 H655.02 V589.5 H656.72 V591 H658.42 V590 H660.12 V592.5 H661.82 V593 H663.52 V597.5 H665.22 V600 H666.92 V602 H668.62 V606.5 H670.32 V610 H672.02 V613.5 H673.72 V614 H675.42 V614.5 H677.12 V614 H678.82 V615 H680.52 V615 H682.22 V616 H683.92 V616 H685.62 V616 H687.32 V616 H689.02 V616 H690.72 V616 H692.42 V616.5 H694.12 V616 H695.82 V615 H697.52 V616 H699.22 V615 H700.92 V616 H702.62 V615 H704.32 V615.5 H706.02 V616 H707.72 V615 H709.42 V615.5 H711.12 V616 H712.82 V616 H714.52 V616.5 H716.22 V616.5 H717.92 V616.5 H719.62 V616.5 H721.32 V617 H723.02 V616.5 H724.72 V617 H726.42 V618 H728.12 V618 H729.82 V619 H731.52 V619 H733.22 V616 H734.92 V613.5 H736.62 V610.5 H738.32 V608.5 H740.02 V607 H741.72 V607 H743.42 V606 H745.12 V603 H746.82 V603.5 H748.52 V603 H750.22 V601 H751.92 V600.5 H753.62 V600 H755.32 V601 H757.02 V600 H758.72 V597 H760.42 V591 H762.12 V590.5 H763.82 V583 H765.52 V577.5 H767.22 V573.5 H768.92 V566 H770.62 V558.5 H772.32 V552.5 H774.02 V540.5 H775.72 V538.5 H777.42 V535 H779.12 V542 H780.82 V545 H782.52 V543 H784.22 V549 H785.92 V550 H787.62 V555 H789.32 V560 H791.02 V561.5 H792.72 V559 H794.42 V555.5 H796.12 V551 H797.82 V557.5 H799.52 V565.5 H801.22 V566.5 H802.92 V569.5 H804.62 V560 H806.32 V554 H808.02 V551.5 H809.72 V553.5 H811.42 V547 H813.12 V542 H814.82 V541 H816.52 V534.5 H818.22 V538.5 H819.92 V528 H821.62 V528 H823.32 V526.5 H825.02 V528 H826.72 V535.5 H828.42 V541 H830.12 V547 H831.82 V554.5 H833.52 V562.5 H835.22 V563.5 H836.92 V565.5 H838.62 V573.5 H840.32 V581.5 H842.02 V588 H843.72 V588.5 H845.42 V586.5 H847.12 V586.5 H848.82 V581 H850.52 V581 H852.22 V579 H853.92 V577 H855.62 V571.5 H857.32 V568.5 H859.02 V568 H860.72 V558.5 H862.42 V562 H864.12 V562 H865.82 V557.5 H867.52 V555 H869.22 V556 H870.92 V551.5 H872.62 V550 H874.32 V557.5 H876.02 V555.5 H877.72 V556.5 H879.42 V554 H881.12 V558.5 H882.82 V564 H884.52 V563 H886.22 V568 H887.92 V574.5 H889.62 V578.5 H891.32 V582 H893.02 V580 H894.72 V584.5 H896.42 V588.5 H898.12 V589 H899.82 V591.5 H901.52 V591.5 H903.22 V592 H904.92 V593.5 H906.62 V594.5 H908.32 V596 H910.02 V595.5 H911.72 V595.5 H913.42 V592 H915.12 V590 H916.82 V587.5 H918.52 V588 H920.22 V588.5 H921.92 V590 H923.62 V589 H925.32 V591.5 H927.02 V597 H928.72 V598 H930.42 V601.5 H932.12 V603 H933.82 V605.5 H935.52 V608.5 H937.22 V610.5 H938.92 V612 H940.62 V612.5 H942.32 V615 H944.02 V616.5 H945.72 V616 H947.42 V616 H949.12 V616 H950.82 V615.5 H952.52 V615 H954.22 V615 H955.92 V615.5 H957.62 V615 H959.32 V616.5 H961.02 V616.5 H962.72 V616.5 H964.42 V616.5 H966.12 V616.5 H968 V619.6 Z" fill="#000"/>
<line x1="160" y1="620.2" x2="967" y2="620.2" stroke="#000" stroke-width="1.4"/>
<text x="134" y="525.5" font-size="6.5" fill="#444" style="font-family:Liberation Mono,monospace">7 _</text>
<text x="134" y="620.5" font-size="6.5" fill="#444" style="font-family:Liberation Mono,monospace">0 _</text>
<text x="131" y="570" font-size="6.5" fill="#444" style="font-family:Liberation Mono,monospace">TbsH</text>
<text x="654.6" y="524.8" font-size="6.6" fill="#333" style="font-family:Liberation Mono,monospace" textLength="259" lengthAdjust="spacingAndGlyphs">wgEncodeSydhTfbsHelas3CmycStdSig.bigWig</text>
<text x="551" y="627.2" font-size="6.6" fill="#1c1c9c" style="font-family:Liberation Mono,monospace" textLength="470" lengthAdjust="spacingAndGlyphs">UCSC Genes (RefSeq, GenBank, CCDS, Rfam, tRNAs &amp; Comparative Genomics)</text>
<text x="134.3" y="634.1" font-size="6.5" fill="#1a1a8c" style="font-family:Liberation Mono,monospace" textLength="20" lengthAdjust="spacingAndGlyphs">PKM</text>
<line x1="166" y1="631.8" x2="466" y2="631.8" stroke="#1a1a8c" stroke-width="0.8"/>
<path d="M166.5 629.2 L161.5 631.8 L166.5 634.4 Z M170.5 629.2 L165.5 631.8 L170.5 634.4 Z" fill="none" stroke="#1a1a8c" stroke-width=".7"/>
<line x1="172" y1="631.8" x2="466" y2="631.8" stroke="#1a1a8c" stroke-width="2" stroke-dasharray="1 4.6" opacity=".8"/>
<rect x="133.5" y="636.1" width="21.5" height="6" fill="#1a1a8c"/>
<text x="134.3" y="641.4" font-size="6.5" fill="#fff" style="font-family:Liberation Mono,monospace" textLength="20" lengthAdjust="spacingAndGlyphs">PKM</text>
<line x1="166" y1="639.1" x2="727.4" y2="639.1" stroke="#1a1a8c" stroke-width="0.8"/>
<path d="M166.5 636.5 L161.5 639.1 L166.5 641.7 Z M170.5 636.5 L165.5 639.1 L170.5 641.7 Z" fill="none" stroke="#1a1a8c" stroke-width=".7"/>
<line x1="172" y1="639.1" x2="727.4" y2="639.1" stroke="#1a1a8c" stroke-width="2" stroke-dasharray="1 4.6" opacity=".8"/>
<text x="134.3" y="648.7" font-size="6.5" fill="#1a1a8c" style="font-family:Liberation Mono,monospace" textLength="20" lengthAdjust="spacingAndGlyphs">PKM</text>
<line x1="166" y1="646.4" x2="769.3" y2="646.4" stroke="#1a1a8c" stroke-width="0.8"/>
<path d="M166.5 643.8 L161.5 646.4 L166.5 649 Z M170.5 643.8 L165.5 646.4 L170.5 649 Z" fill="none" stroke="#1a1a8c" stroke-width=".7"/>
<line x1="172" y1="646.4" x2="769.3" y2="646.4" stroke="#1a1a8c" stroke-width="2" stroke-dasharray="1 4.6" opacity=".8"/>
<text x="134.3" y="656" font-size="6.5" fill="#1a1a8c" style="font-family:Liberation Mono,monospace" textLength="20" lengthAdjust="spacingAndGlyphs">PKM</text>
<line x1="166" y1="653.7" x2="728.5" y2="653.7" stroke="#1a1a8c" stroke-width="0.8"/>
<path d="M166.5 651.1 L161.5 653.7 L166.5 656.3 Z M170.5 651.1 L165.5 653.7 L170.5 656.3 Z" fill="none" stroke="#1a1a8c" stroke-width=".7"/>
<line x1="172" y1="653.7" x2="728.5" y2="653.7" stroke="#1a1a8c" stroke-width="2" stroke-dasharray="1 4.6" opacity=".8"/>
<text x="134.3" y="663.5" font-size="6.5" fill="#222" style="font-family:Liberation Mono,monospace" textLength="20" lengthAdjust="spacingAndGlyphs">PKM</text>
<line x1="166" y1="661.2" x2="769.3" y2="661.2" stroke="#222" stroke-width="0.8"/>
<path d="M166.5 658.6 L161.5 661.2 L166.5 663.8 Z M170.5 658.6 L165.5 661.2 L170.5 663.8 Z" fill="none" stroke="#222" stroke-width=".7"/>
<line x1="172" y1="661.2" x2="769.3" y2="661.2" stroke="#222" stroke-width="2" stroke-dasharray="1 4.6" opacity=".8"/>
<text x="134.3" y="670.9" font-size="6.5" fill="#1a1a8c" style="font-family:Liberation Mono,monospace" textLength="20" lengthAdjust="spacingAndGlyphs">PKM</text>
<line x1="166" y1="668.6" x2="769.3" y2="668.6" stroke="#1a1a8c" stroke-width="0.8"/>
<path d="M166.5 666 L161.5 668.6 L166.5 671.2 Z M170.5 666 L165.5 668.6 L170.5 671.2 Z" fill="none" stroke="#1a1a8c" stroke-width=".7"/>
<line x1="172" y1="668.6" x2="769.3" y2="668.6" stroke="#1a1a8c" stroke-width="2" stroke-dasharray="1 4.6" opacity=".8"/>
<text x="134.3" y="678.2" font-size="6.5" fill="#1a1a8c" style="font-family:Liberation Mono,monospace" textLength="20" lengthAdjust="spacingAndGlyphs">PKM</text>
<line x1="166" y1="675.9" x2="769.3" y2="675.9" stroke="#1a1a8c" stroke-width="0.8"/>
<path d="M166.5 673.3 L161.5 675.9 L166.5 678.5 Z M170.5 673.3 L165.5 675.9 L170.5 678.5 Z" fill="none" stroke="#1a1a8c" stroke-width=".7"/>
<line x1="172" y1="675.9" x2="769.3" y2="675.9" stroke="#1a1a8c" stroke-width="2" stroke-dasharray="1 4.6" opacity=".8"/>
<rect x="466" y="630.1" width="33" height="3.4" fill="#1a1a8c"/>
<rect x="465.5" y="628.8" width="1.2" height="6" fill="#1a1a8c"/>
<rect x="727.4" y="635.9" width="17.6" height="6.4" fill="#1a1a8c"/>
<rect x="745" y="637.3" width="77.6" height="3.6" fill="#1a1a8c"/>
<rect x="769.3" y="644.6" width="53.3" height="3.6" fill="#1a1a8c"/>
<rect x="728.5" y="651.9" width="94.1" height="3.6" fill="#1a1a8c"/>
<rect x="769.3" y="659.4" width="53.3" height="3.6" fill="#000"/>
<rect x="769.3" y="666.8" width="53.3" height="3.6" fill="#1a1a8c"/>
<rect x="769.3" y="674.1" width="53.3" height="3.6" fill="#1a1a8c"/>
<rect x="727.4" y="680.5" width="18" height="1" fill="#8a8acc"/>
</g>
<rect x="130.9" y="518.3" width="835.5" height="164.1" fill="none" stroke="#000" stroke-width="2.6"/>
<text x="1097.4" y="486.3" font-size="40" font-weight="bold">e</text>
<rect x="1248.5" y="586.96" width="27.1" height="193.94" fill="#a6a6a6" stroke="#000" stroke-width="1.5"/>
<rect x="1288.3" y="748.3" width="26.9" height="32.6" fill="#000" stroke="#000" stroke-width="1.5"/>
<rect x="1328.2" y="730.4" width="26.7" height="50.5" fill="#fff" stroke="#000" stroke-width="1.5"/>
<rect x="1368" y="650.1" width="26.8" height="130.8" fill="url(#chk)" stroke="#000" stroke-width="1.5"/>
<line x1="1243.2" y1="489.2" x2="1243.2" y2="780.9" stroke="#000" stroke-width="1.6"/>
<line x1="1234.2" y1="780.9" x2="1401.2" y2="780.9" stroke="#000" stroke-width="1.6"/>
<line x1="1234.2" y1="490" x2="1243.2" y2="490" stroke="#000" stroke-width="1.6"/>
<text x="1232" y="497.2" font-size="26.8" text-anchor="end">30</text>
<line x1="1234.2" y1="587.2" x2="1243.2" y2="587.2" stroke="#000" stroke-width="1.6"/>
<text x="1232" y="594.4" font-size="26.8" text-anchor="end">20</text>
<line x1="1234.2" y1="684.5" x2="1243.2" y2="684.5" stroke="#000" stroke-width="1.6"/>
<text x="1232" y="691.7" font-size="26.8" text-anchor="end">10</text>
<line x1="1234.2" y1="780.9" x2="1243.2" y2="780.9" stroke="#000" stroke-width="1.6"/>
<text x="1232" y="785.9" font-size="26.8" text-anchor="end">0</text>
<line x1="1262.9" y1="547.8" x2="1262.9" y2="625.3" stroke="#000" stroke-width="1.5"/>
<line x1="1258.9" y1="547.8" x2="1266.9" y2="547.8" stroke="#000" stroke-width="1.5"/>
<line x1="1258.9" y1="625.3" x2="1266.9" y2="625.3" stroke="#000" stroke-width="1.5"/>
<line x1="1302.1" y1="734.5" x2="1302.1" y2="748.3" stroke="#000" stroke-width="1.5"/>
<line x1="1298.1" y1="734.5" x2="1306.1" y2="734.5" stroke="#000" stroke-width="1.5"/>
<line x1="1341.8" y1="719.4" x2="1341.8" y2="742.3" stroke="#000" stroke-width="1.5"/>
<line x1="1337.8" y1="719.4" x2="1345.8" y2="719.4" stroke="#000" stroke-width="1.5"/>
<line x1="1337.8" y1="742.3" x2="1345.8" y2="742.3" stroke="#000" stroke-width="1.5"/>
<line x1="1381.5" y1="638.2" x2="1381.5" y2="662" stroke="#000" stroke-width="1.5"/>
<line x1="1377.5" y1="638.2" x2="1385.5" y2="638.2" stroke="#000" stroke-width="1.5"/>
<line x1="1377.5" y1="662" x2="1385.5" y2="662" stroke="#000" stroke-width="1.5"/>
<line x1="1262.2" y1="541" x2="1301.2" y2="541" stroke="#000" stroke-width="1.6"/>
<text x="1281.35" y="546.5" font-size="23.5" text-anchor="middle" letter-spacing="1.7">*</text>
<line x1="1346.2" y1="629" x2="1384.3" y2="629" stroke="#000" stroke-width="1.6"/>
<text x="1364.45" y="630.6" font-size="23.5" text-anchor="middle" letter-spacing="1.7">**</text>
<text transform="translate(1153.4 630.6) rotate(-90)" font-size="26.8" text-anchor="middle">Relative MYC enrichment</text>
<text transform="translate(1181.9 631.3) rotate(-90)" font-size="26.8" text-anchor="middle">normalized to input</text>
<rect x="1554" y="562.4" width="26.2" height="218.5" fill="#a6a6a6" stroke="#000" stroke-width="1.5"/>
<rect x="1593" y="724.4" width="26.7" height="56.5" fill="#000" stroke="#000" stroke-width="1.5"/>
<rect x="1633" y="699.2" width="26.2" height="81.7" fill="#fff" stroke="#000" stroke-width="1.5"/>
<rect x="1672.9" y="641.4" width="26.6" height="139.5" fill="url(#chk)" stroke="#000" stroke-width="1.5"/>
<line x1="1547.5" y1="488.7" x2="1547.5" y2="780.9" stroke="#000" stroke-width="1.6"/>
<line x1="1538.5" y1="780.9" x2="1706.4" y2="780.9" stroke="#000" stroke-width="1.6"/>
<line x1="1538.5" y1="489.5" x2="1547.5" y2="489.5" stroke="#000" stroke-width="1.6"/>
<text x="1527.7" y="502.7" font-size="26.8" text-anchor="end">10</text>
<line x1="1538.5" y1="547.6" x2="1547.5" y2="547.6" stroke="#000" stroke-width="1.6"/>
<text x="1527.7" y="560.8" font-size="26.8" text-anchor="end">8</text>
<line x1="1538.5" y1="606" x2="1547.5" y2="606" stroke="#000" stroke-width="1.6"/>
<text x="1527.7" y="619.2" font-size="26.8" text-anchor="end">6</text>
<line x1="1538.5" y1="664.3" x2="1547.5" y2="664.3" stroke="#000" stroke-width="1.6"/>
<text x="1527.7" y="677.5" font-size="26.8" text-anchor="end">4</text>
<line x1="1538.5" y1="722.6" x2="1547.5" y2="722.6" stroke="#000" stroke-width="1.6"/>
<text x="1527.7" y="735.8" font-size="26.8" text-anchor="end">2</text>
<line x1="1538.5" y1="780.9" x2="1547.5" y2="780.9" stroke="#000" stroke-width="1.6"/>
<text x="1527.7" y="794.1" font-size="26.8" text-anchor="end">0</text>
<line x1="1567.1" y1="517.5" x2="1567.1" y2="608.3" stroke="#000" stroke-width="1.5"/>
<line x1="1563.1" y1="517.5" x2="1571.1" y2="517.5" stroke="#000" stroke-width="1.5"/>
<line x1="1563.1" y1="608.3" x2="1571.1" y2="608.3" stroke="#000" stroke-width="1.5"/>
<line x1="1606.3" y1="703.3" x2="1606.3" y2="724.4" stroke="#000" stroke-width="1.5"/>
<line x1="1602.3" y1="703.3" x2="1610.3" y2="703.3" stroke="#000" stroke-width="1.5"/>
<line x1="1646.1" y1="683.1" x2="1646.1" y2="715.3" stroke="#000" stroke-width="1.5"/>
<line x1="1642.1" y1="683.1" x2="1650.1" y2="683.1" stroke="#000" stroke-width="1.5"/>
<line x1="1642.1" y1="715.3" x2="1650.1" y2="715.3" stroke="#000" stroke-width="1.5"/>
<line x1="1686.2" y1="632.7" x2="1686.2" y2="648.3" stroke="#000" stroke-width="1.5"/>
<line x1="1682.2" y1="632.7" x2="1690.2" y2="632.7" stroke="#000" stroke-width="1.5"/>
<line x1="1682.2" y1="648.3" x2="1690.2" y2="648.3" stroke="#000" stroke-width="1.5"/>
<line x1="1561.9" y1="500" x2="1606.4" y2="500" stroke="#000" stroke-width="1.6"/>
<text x="1581.05" y="505.8" font-size="23.5" text-anchor="middle" letter-spacing="1.7">*</text>
<line x1="1645.4" y1="605" x2="1683.5" y2="605" stroke="#000" stroke-width="1.6"/>
<text x="1665.05" y="610" font-size="23.5" text-anchor="middle" letter-spacing="1.7">*</text>
<text transform="translate(1470 630.6) rotate(-90)" font-size="26.8" text-anchor="middle">Relative MYC enrichment</text>
<text transform="translate(1498.5 631.3) rotate(-90)" font-size="26.8" text-anchor="middle">normalized to input</text>
<rect x="1707.8" y="499.6" width="22.8" height="18.8" fill="#a6a6a6" stroke="#000" stroke-width="2"/>
<rect x="1707.8" y="529.3" width="22.8" height="18.8" fill="#000" stroke="#000" stroke-width="2"/>
<rect x="1707.8" y="559.4" width="22.8" height="18.8" fill="#fff" stroke="#000" stroke-width="2"/>
<rect x="1708.6" y="591.9" width="24.2" height="21.8" fill="url(#chks)" stroke="#000" stroke-width="2.2"/>
<text x="1738.6" y="516.5" font-size="27">shControl</text>
<text x="1738.6" y="547.3" font-size="27">shPAK2</text>
<text x="1738.6" y="576.7" font-size="27">shPAK2_Control</text>
<text x="1738.6" y="611.5" font-size="27">shPAK2_Myc</text>
<text x="-0.5" y="782" font-size="40" font-weight="bold">f</text>
<line x1="107.7" y1="787.4" x2="107.7" y2="1067.1" stroke="#000" stroke-width="1.6"/>
<line x1="102.6" y1="1067.1" x2="422.8" y2="1067.1" stroke="#000" stroke-width="1.6"/>
<line x1="102.6" y1="788.2" x2="107.7" y2="788.2" stroke="#000" stroke-width="1.6"/>
<text x="98.8" y="797.5" font-size="27.15" text-anchor="end">0.8</text>
<line x1="102.6" y1="858" x2="107.7" y2="858" stroke="#000" stroke-width="1.6"/>
<text x="98.8" y="867.3" font-size="27.15" text-anchor="end">0.6</text>
<line x1="102.6" y1="927.8" x2="107.7" y2="927.8" stroke="#000" stroke-width="1.6"/>
<text x="98.8" y="937.1" font-size="27.15" text-anchor="end">0.4</text>
<line x1="102.6" y1="997.3" x2="107.7" y2="997.3" stroke="#000" stroke-width="1.6"/>
<text x="98.8" y="1006.6" font-size="27.15" text-anchor="end">0.2</text>
<line x1="102.6" y1="1067.1" x2="107.7" y2="1067.1" stroke="#000" stroke-width="1.6"/>
<text x="98.8" y="1076.4" font-size="27.15" text-anchor="end">0</text>
<line x1="139.3" y1="1067.1" x2="139.3" y2="1074.8" stroke="#000" stroke-width="1.6"/>
<line x1="202.4" y1="1067.1" x2="202.4" y2="1074.8" stroke="#000" stroke-width="1.6"/>
<line x1="265.5" y1="1067.1" x2="265.5" y2="1074.8" stroke="#000" stroke-width="1.6"/>
<line x1="328.6" y1="1067.1" x2="328.6" y2="1074.8" stroke="#000" stroke-width="1.6"/>
<line x1="391.2" y1="1067.1" x2="391.2" y2="1074.8" stroke="#000" stroke-width="1.6"/>
<text transform="translate(146.3 1084.3) rotate(-45)" font-size="27.15" text-anchor="end">0h</text>
<text transform="translate(209.4 1084.3) rotate(-45)" font-size="27.15" text-anchor="end">12h</text>
<text transform="translate(272.5 1084.3) rotate(-45)" font-size="27.15" text-anchor="end">24h</text>
<text transform="translate(335.6 1084.3) rotate(-45)" font-size="27.15" text-anchor="end">48h</text>
<text transform="translate(398.2 1084.3) rotate(-45)" font-size="27.15" text-anchor="end">60h</text>
<text transform="translate(19.2 937) rotate(-90)" font-size="27.15" text-anchor="middle">Cell viability</text>
<text transform="translate(52.6 936) rotate(-90)" font-size="27.15" text-anchor="middle">(Abs. at 600 nm)</text>
<path d="M139.3 1050.4 L202.4 1034.5 L265.5 1015.8 L328.6 933.7 L391.2 854.2" fill="none" stroke="#a6a6a6" stroke-width="1.6"/>
<line x1="328.6" y1="922.9" x2="328.6" y2="944.5" stroke="#a6a6a6" stroke-width="1.3"/>
<line x1="325.8" y1="922.9" x2="331.4" y2="922.9" stroke="#a6a6a6" stroke-width="1.3"/>
<line x1="325.8" y1="944.5" x2="331.4" y2="944.5" stroke="#a6a6a6" stroke-width="1.3"/>
<line x1="391.2" y1="848" x2="391.2" y2="860.5" stroke="#a6a6a6" stroke-width="1.3"/>
<line x1="388.4" y1="848" x2="394" y2="848" stroke="#a6a6a6" stroke-width="1.3"/>
<line x1="388.4" y1="860.5" x2="394" y2="860.5" stroke="#a6a6a6" stroke-width="1.3"/>
<ellipse cx="139.3" cy="1050.4" rx="4.3" ry="4.9" fill="#a6a6a6"/>
<ellipse cx="202.4" cy="1034.5" rx="4.3" ry="4.9" fill="#a6a6a6"/>
<ellipse cx="265.5" cy="1015.8" rx="4.3" ry="4.9" fill="#a6a6a6"/>
<ellipse cx="328.6" cy="933.7" rx="4.3" ry="4.9" fill="#a6a6a6"/>
<ellipse cx="391.2" cy="854.2" rx="4.3" ry="4.9" fill="#a6a6a6"/>
<path d="M139.3 1048.6 L202.4 1049.6 L265.5 1028.6 L328.6 1001.7 L391.2 937.5" fill="none" stroke="#000" stroke-width="1.6"/>
<rect x="135.1" y="1044.4" width="8.4" height="8.4" fill="#000"/>
<rect x="198.2" y="1045.4" width="8.4" height="8.4" fill="#000"/>
<rect x="261.3" y="1024.4" width="8.4" height="8.4" fill="#000"/>
<rect x="324.4" y="997.5" width="8.4" height="8.4" fill="#000"/>
<rect x="387" y="933.3" width="8.4" height="8.4" fill="#000"/>
<path d="M139.3 1048.6 L202.4 1042.7 L265.5 1011.4 L328.6 966.5 L391.2 881.1" fill="none" stroke="#f00000" stroke-width="1.6"/>
<line x1="391.2" y1="873.4" x2="391.2" y2="888.3" stroke="#f00000" stroke-width="1.3"/>
<line x1="388.4" y1="873.4" x2="394" y2="873.4" stroke="#f00000" stroke-width="1.3"/>
<line x1="388.4" y1="888.3" x2="394" y2="888.3" stroke="#f00000" stroke-width="1.3"/>
<path d="M139.3 1042.6 L144.2 1052.2 L134.4 1052.2 Z" fill="#f00000"/>
<path d="M202.4 1036.7 L207.3 1046.3 L197.5 1046.3 Z" fill="#f00000"/>
<path d="M265.5 1005.4 L270.4 1015 L260.6 1015 Z" fill="#f00000"/>
<path d="M328.6 960.5 L333.5 970.1 L323.7 970.1 Z" fill="#f00000"/>
<path d="M391.2 875.1 L396.1 884.7 L386.3 884.7 Z" fill="#f00000"/>
<line x1="124.4" y1="798.5" x2="146.7" y2="798.5" stroke="#a6a6a6" stroke-width="1.6"/>
<ellipse cx="135.5" cy="798.5" rx="4.3" ry="4.9" fill="#a6a6a6"/>
<line x1="124.4" y1="830.6" x2="146.7" y2="830.6" stroke="#000" stroke-width="1.6"/>
<rect x="131.3" y="826.4" width="8.4" height="8.4" fill="#000"/>
<line x1="124.4" y1="863.1" x2="146.7" y2="863.1" stroke="#f00000" stroke-width="1.6"/>
<path d="M135.5 857.1 L140.4 866.7 L130.6 866.7 Z" fill="#f00000"/>
<text x="159" y="810.5" font-size="27.15">shControl</text>
<text x="159" y="842.6" font-size="27.15">shPAK2_Control</text>
<text x="159" y="874.7" font-size="27.15">shPAK2_Myc</text>
<text x="418.2" y="853.5" font-size="24.5" text-anchor="middle" letter-spacing="1.4">***</text>
<text x="402.7" y="880.5" font-size="24.5" text-anchor="middle" letter-spacing="1.4">**</text>
<path d="M432.3 841.3 H445.1 V938.8 H429.7" fill="none" stroke="#000" stroke-width="1.4"/>
<path d="M413 867.5 H424.6 V938.8 H416.1" fill="none" stroke="#000" stroke-width="1.4"/>
<line x1="1131.7" y1="869" x2="1131.7" y2="1076.2" stroke="#000" stroke-width="1.6"/>
<line x1="1125.1" y1="1076.2" x2="1486.7" y2="1076.2" stroke="#000" stroke-width="1.6"/>
<line x1="1125.1" y1="869.8" x2="1131.7" y2="869.8" stroke="#000" stroke-width="1.6"/>
<text x="1120.4" y="879.1" font-size="26.9" text-anchor="end">120</text>
<line x1="1125.1" y1="904.1" x2="1131.7" y2="904.1" stroke="#000" stroke-width="1.6"/>
<text x="1120.4" y="913.4" font-size="26.9" text-anchor="end">100</text>
<line x1="1125.1" y1="938.3" x2="1131.7" y2="938.3" stroke="#000" stroke-width="1.6"/>
<text x="1120.4" y="947.6" font-size="26.9" text-anchor="end">80</text>
<line x1="1125.1" y1="972.9" x2="1131.7" y2="972.9" stroke="#000" stroke-width="1.6"/>
<text x="1120.4" y="982.2" font-size="26.9" text-anchor="end">60</text>
<line x1="1125.1" y1="1007.1" x2="1131.7" y2="1007.1" stroke="#000" stroke-width="1.6"/>
<text x="1120.4" y="1016.4" font-size="26.9" text-anchor="end">40</text>
<line x1="1125.1" y1="1041.6" x2="1131.7" y2="1041.6" stroke="#000" stroke-width="1.6"/>
<text x="1120.4" y="1050.9" font-size="26.9" text-anchor="end">20</text>
<line x1="1125.1" y1="1076.2" x2="1131.7" y2="1076.2" stroke="#000" stroke-width="1.6"/>
<text x="1120.4" y="1085.5" font-size="26.9" text-anchor="end">0</text>
<line x1="1176" y1="1076.2" x2="1176" y2="1082.3" stroke="#000" stroke-width="1.6"/>
<line x1="1264.7" y1="1076.2" x2="1264.7" y2="1082.3" stroke="#000" stroke-width="1.6"/>
<line x1="1353.4" y1="1076.2" x2="1353.4" y2="1082.3" stroke="#000" stroke-width="1.6"/>
<line x1="1442.4" y1="1076.2" x2="1442.4" y2="1082.3" stroke="#000" stroke-width="1.6"/>
<text transform="translate(1178.5 1090.2) rotate(-45)" font-size="26.9" text-anchor="end">0h</text>
<text transform="translate(1267.2 1090.2) rotate(-45)" font-size="26.9" text-anchor="end">12h</text>
<text transform="translate(1355.9 1090.2) rotate(-45)" font-size="26.9" text-anchor="end">24h</text>
<text transform="translate(1444.9 1090.2) rotate(-45)" font-size="26.9" text-anchor="end">30h</text>
<text transform="translate(1067.7 1068.9) rotate(-90)" font-size="26.9">Wound area</text>
<text transform="translate(1067.7 906) rotate(-90)" font-size="26.9" letter-spacing="1.6">(%)</text>
<path d="M1176 904.1 L1264.7 986.1 L1353.4 1021.2 L1442.4 1074.3" fill="none" stroke="#a6a6a6" stroke-width="1.6"/>
<line x1="1176" y1="893.7" x2="1176" y2="915" stroke="#a6a6a6" stroke-width="1.3"/>
<line x1="1173.2" y1="893.7" x2="1178.8" y2="893.7" stroke="#a6a6a6" stroke-width="1.3"/>
<line x1="1173.2" y1="915" x2="1178.8" y2="915" stroke="#a6a6a6" stroke-width="1.3"/>
<line x1="1264.7" y1="977.4" x2="1264.7" y2="995.2" stroke="#a6a6a6" stroke-width="1.3"/>
<line x1="1261.9" y1="977.4" x2="1267.5" y2="977.4" stroke="#a6a6a6" stroke-width="1.3"/>
<line x1="1261.9" y1="995.2" x2="1267.5" y2="995.2" stroke="#a6a6a6" stroke-width="1.3"/>
<line x1="1353.4" y1="1015.9" x2="1353.4" y2="1030.5" stroke="#a6a6a6" stroke-width="1.3"/>
<line x1="1350.6" y1="1015.9" x2="1356.2" y2="1015.9" stroke="#a6a6a6" stroke-width="1.3"/>
<line x1="1350.6" y1="1030.5" x2="1356.2" y2="1030.5" stroke="#a6a6a6" stroke-width="1.3"/>
<ellipse cx="1176" cy="904.1" rx="4.3" ry="4.9" fill="#a6a6a6"/>
<ellipse cx="1264.7" cy="986.1" rx="4.3" ry="4.9" fill="#a6a6a6"/>
<ellipse cx="1353.4" cy="1021.2" rx="4.3" ry="4.9" fill="#a6a6a6"/>
<ellipse cx="1442.4" cy="1074.3" rx="4.3" ry="4.9" fill="#a6a6a6"/>
<path d="M1176 904.1 L1264.7 927.5 L1353.4 958 L1442.4 973.4" fill="none" stroke="#333" stroke-width="1.6"/>
<line x1="1176" y1="895" x2="1176" y2="914" stroke="#333" stroke-width="1.3"/>
<line x1="1173" y1="895" x2="1179" y2="895" stroke="#333" stroke-width="1.3"/>
<line x1="1173" y1="914" x2="1179" y2="914" stroke="#333" stroke-width="1.3"/>
<line x1="1264.7" y1="917.1" x2="1264.7" y2="937.5" stroke="#333" stroke-width="1.3"/>
<line x1="1261.7" y1="917.1" x2="1267.7" y2="917.1" stroke="#333" stroke-width="1.3"/>
<line x1="1261.7" y1="937.5" x2="1267.7" y2="937.5" stroke="#333" stroke-width="1.3"/>
<line x1="1353.4" y1="939.7" x2="1353.4" y2="975.5" stroke="#333" stroke-width="1.3"/>
<line x1="1350.4" y1="939.7" x2="1356.4" y2="939.7" stroke="#333" stroke-width="1.3"/>
<line x1="1350.4" y1="975.5" x2="1356.4" y2="975.5" stroke="#333" stroke-width="1.3"/>
<line x1="1442.4" y1="955.3" x2="1442.4" y2="989.9" stroke="#333" stroke-width="1.3"/>
<line x1="1439.4" y1="955.3" x2="1445.4" y2="955.3" stroke="#333" stroke-width="1.3"/>
<line x1="1439.4" y1="989.9" x2="1445.4" y2="989.9" stroke="#333" stroke-width="1.3"/>
<path d="M1176 898.1 L1180.9 907.7 L1171.1 907.7 Z" fill="#333"/>
<path d="M1264.7 921.5 L1269.6 931.1 L1259.8 931.1 Z" fill="#333"/>
<path d="M1353.4 952 L1358.3 961.6 L1348.5 961.6 Z" fill="#333"/>
<path d="M1442.4 967.4 L1447.3 977 L1437.5 977 Z" fill="#333"/>
<path d="M1176 905.1 L1264.7 962.8 L1353.4 1011.9 L1442.4 1073.8" fill="none" stroke="#b00000" stroke-width="1.6"/>
<line x1="1176" y1="896" x2="1176" y2="913" stroke="#b00000" stroke-width="1.3"/>
<line x1="1173" y1="896" x2="1179" y2="896" stroke="#b00000" stroke-width="1.3"/>
<line x1="1173" y1="913" x2="1179" y2="913" stroke="#b00000" stroke-width="1.3"/>
<line x1="1264.7" y1="950.3" x2="1264.7" y2="975.2" stroke="#b00000" stroke-width="1.3"/>
<line x1="1261.7" y1="950.3" x2="1267.7" y2="950.3" stroke="#b00000" stroke-width="1.3"/>
<line x1="1261.7" y1="975.2" x2="1267.7" y2="975.2" stroke="#b00000" stroke-width="1.3"/>
<line x1="1353.4" y1="1005.8" x2="1353.4" y2="1016" stroke="#b00000" stroke-width="1.3"/>
<line x1="1350.4" y1="1005.8" x2="1356.4" y2="1005.8" stroke="#b00000" stroke-width="1.3"/>
<line x1="1350.4" y1="1016" x2="1356.4" y2="1016" stroke="#b00000" stroke-width="1.3"/>
<path d="M1176 899.1 L1180.9 908.7 L1171.1 908.7 Z" fill="#b00000"/>
<path d="M1264.7 956.8 L1269.6 966.4 L1259.8 966.4 Z" fill="#b00000"/>
<path d="M1353.4 1005.9 L1358.3 1015.5 L1348.5 1015.5 Z" fill="#b00000"/>
<path d="M1442.4 1067.8 L1447.3 1077.4 L1437.5 1077.4 Z" fill="#b00000"/>
<line x1="1284.1" y1="864" x2="1309.3" y2="864" stroke="#a6a6a6" stroke-width="1.6"/>
<ellipse cx="1296.9" cy="864" rx="4.3" ry="4.9" fill="#a6a6a6"/>
<line x1="1284.1" y1="887.9" x2="1309.3" y2="887.9" stroke="#333" stroke-width="1.6"/>
<path d="M1296.9 881.9 L1301.8 891.5 L1292 891.5 Z" fill="#333"/>
<line x1="1284.1" y1="911" x2="1309.3" y2="911" stroke="#b00000" stroke-width="1.6"/>
<path d="M1296.9 905 L1301.8 914.6 L1292 914.6 Z" fill="#b00000"/>
<text x="1317.6" y="873.3" font-size="26.9">shControl</text>
<text x="1317.6" y="896.9" font-size="26.9">shPAK2_Control</text>
<text x="1317.6" y="921.6" font-size="26.9">shPAK2_Myc</text>
<text x="1448" y="1061.5" font-size="24.5" text-anchor="middle" letter-spacing="1.4">***</text>
<text x="479.3" y="782.8" font-size="40" font-weight="bold">g</text>
<text x="851.6" y="796.5" font-size="26.7" text-anchor="middle">H157 cells</text>
<line x1="671.6" y1="808.7" x2="1017.4" y2="808.7" stroke="#000" stroke-width="2.3"/>
<text x="707.6" y="837.8" font-size="26.7" text-anchor="middle">0h</text>
<text x="794.8" y="837.8" font-size="26.7" text-anchor="middle">12h</text>
<text x="884.3" y="837.8" font-size="26.7" text-anchor="middle">24h</text>
<text x="967.1" y="837.8" font-size="26.7" text-anchor="middle">30h</text>
<text x="664" y="894.4" font-size="27" text-anchor="end">shControl</text>
<text x="664" y="988.3" font-size="27" text-anchor="end">shPAK_Control</text>
<text x="664" y="1079" font-size="27" text-anchor="end">shPAK2_Myc</text>
<clipPath id="gc00"><rect x="669.2" y="840.6" width="83.2" height="92.3"/></clipPath>
<g clip-path="url(#gc00)">
<rect x="669.2" y="840.6" width="83.2" height="92.3" fill="#8a8a8a"/>
<rect x="669.2" y="840.6" width="83.2" height="92.3" filter="url(#cells0)" fill="#fff"/>
<path d="M669.2 869.21 L694.16 871.06 L719.12 868.29 L752.4 870.14 L752.4 897.83 L719.12 895.98 L694.16 898.75 L669.2 897.83 Z" fill="#878787" filter="url(#blur1)"/>
<rect x="669.2" y="840.6" width="83.2" height="92.3" fill="url(#vig)"/>
</g>
<rect x="670.1" y="841.5" width="81.4" height="90.5" fill="none" stroke="#000" stroke-width="1.8"/>
<rect x="671.6" y="843" width="78.4" height="87.5" fill="none" stroke="#b0b0b0" stroke-width="0.5"/>
<clipPath id="gc01"><rect x="755.8" y="840.6" width="83.2" height="92.3"/></clipPath>
<g clip-path="url(#gc01)">
<rect x="755.8" y="840.6" width="83.2" height="92.3" fill="#8a8a8a"/>
<rect x="755.8" y="840.6" width="83.2" height="92.3" filter="url(#cells1)" fill="#fff"/>
<path d="M755.8 877.52 L780.76 875.67 L801.56 877.52 L822.36 881.21 L839 883.06 L839 895.98 L822.36 888.6 L801.56 892.29 L780.76 886.75 L755.8 888.6 Z" fill="#878787" filter="url(#blur1)"/>
<rect x="755.8" y="840.6" width="83.2" height="92.3" fill="url(#vig)"/>
</g>
<rect x="756.7" y="841.5" width="81.4" height="90.5" fill="none" stroke="#000" stroke-width="1.8"/>
<rect x="758.2" y="843" width="78.4" height="87.5" fill="none" stroke="#b0b0b0" stroke-width="0.5"/>
<clipPath id="gc02"><rect x="842.4" y="840.6" width="83.1" height="92.3"/></clipPath>
<g clip-path="url(#gc02)">
<rect x="842.4" y="840.6" width="83.1" height="92.3" fill="#8a8a8a"/>
<rect x="842.4" y="840.6" width="83.1" height="92.3" filter="url(#cells2)" fill="#fff"/>
<path d="M842.4 881.21 L867.33 879.37 L892.26 883.98 L913.03 886.75 L925.5 888.6 L925.5 892.29 L913.03 895.98 L892.26 893.21 L867.33 886.75 L842.4 886.75 Z" fill="#878787" filter="url(#blur1)"/>
<rect x="842.4" y="840.6" width="83.1" height="92.3" fill="url(#vig)"/>
</g>
<rect x="843.3" y="841.5" width="81.3" height="90.5" fill="none" stroke="#000" stroke-width="1.8"/>
<rect x="844.8" y="843" width="78.3" height="87.5" fill="none" stroke="#b0b0b0" stroke-width="0.5"/>
<clipPath id="gc03"><rect x="928.4" y="840.6" width="83.3" height="92.3"/></clipPath>
<g clip-path="url(#gc03)">
<rect x="928.4" y="840.6" width="83.3" height="92.3" fill="#8a8a8a"/>
<rect x="928.4" y="840.6" width="83.3" height="92.3" filter="url(#cells0)" fill="#fff"/>
<rect x="928.4" y="840.6" width="83.3" height="92.3" fill="url(#vig)"/>
</g>
<rect x="929.3" y="841.5" width="81.5" height="90.5" fill="none" stroke="#000" stroke-width="1.8"/>
<rect x="930.8" y="843" width="78.5" height="87.5" fill="none" stroke="#b0b0b0" stroke-width="0.5"/>
<clipPath id="gc10"><rect x="669.2" y="934.9" width="83.2" height="92.3"/></clipPath>
<g clip-path="url(#gc10)">
<rect x="669.2" y="934.9" width="83.2" height="92.3" fill="#8a8a8a"/>
<rect x="669.2" y="934.9" width="83.2" height="92.3" filter="url(#cells1)" fill="#fff"/>
<path d="M669.2 969.97 L702.48 971.82 L735.76 969.97 L752.4 969.05 L752.4 992.13 L735.76 995.82 L702.48 997.66 L669.2 997.66 Z" fill="#878787" filter="url(#blur1)"/>
<rect x="669.2" y="934.9" width="83.2" height="92.3" fill="url(#vig)"/>
</g>
<rect x="670.1" y="935.8" width="81.4" height="90.5" fill="none" stroke="#000" stroke-width="1.8"/>
<rect x="671.6" y="937.3" width="78.4" height="87.5" fill="none" stroke="#b0b0b0" stroke-width="0.5"/>
<clipPath id="gc11"><rect x="755.8" y="934.9" width="83.2" height="92.3"/></clipPath>
<g clip-path="url(#gc11)">
<rect x="755.8" y="934.9" width="83.2" height="92.3" fill="#8a8a8a"/>
<rect x="755.8" y="934.9" width="83.2" height="92.3" filter="url(#cells2)" fill="#fff"/>
<path d="M755.8 978.28 L789.08 977.36 L814.04 976.44 L839 971.82 L839 997.66 L814.04 995.82 L789.08 1001.36 L755.8 999.51 Z" fill="#878787" filter="url(#blur1)"/>
<rect x="755.8" y="934.9" width="83.2" height="92.3" fill="url(#vig)"/>
</g>
<rect x="756.7" y="935.8" width="81.4" height="90.5" fill="none" stroke="#000" stroke-width="1.8"/>
<rect x="758.2" y="937.3" width="78.4" height="87.5" fill="none" stroke="#b0b0b0" stroke-width="0.5"/>
<clipPath id="gc12"><rect x="842.4" y="934.9" width="83.1" height="92.3"/></clipPath>
<g clip-path="url(#gc12)">
<rect x="842.4" y="934.9" width="83.1" height="92.3" fill="#8a8a8a"/>
<rect x="842.4" y="934.9" width="83.1" height="92.3" filter="url(#cells0)" fill="#fff"/>
<path d="M842.4 977.36 L867.33 976.44 L892.26 978.28 L925.5 979.2 L925.5 992.13 L892.26 990.28 L867.33 995.82 L842.4 992.13 Z" fill="#878787" filter="url(#blur1)"/>
<rect x="842.4" y="934.9" width="83.1" height="92.3" fill="url(#vig)"/>
</g>
<rect x="843.3" y="935.8" width="81.3" height="90.5" fill="none" stroke="#000" stroke-width="1.8"/>
<rect x="844.8" y="937.3" width="78.3" height="87.5" fill="none" stroke="#b0b0b0" stroke-width="0.5"/>
<clipPath id="gc13"><rect x="928.4" y="934.9" width="83.3" height="92.3"/></clipPath>
<g clip-path="url(#gc13)">
<rect x="928.4" y="934.9" width="83.3" height="92.3" fill="#8a8a8a"/>
<rect x="928.4" y="934.9" width="83.3" height="92.3" filter="url(#cells1)" fill="#fff"/>
<path d="M928.4 978.28 L961.72 979.2 L986.71 978.28 L1011.7 980.13 L1011.7 993.97 L986.71 988.43 L961.72 993.97 L928.4 992.13 Z" fill="#878787" filter="url(#blur1)"/>
<rect x="928.4" y="934.9" width="83.3" height="92.3" fill="url(#vig)"/>
</g>
<rect x="929.3" y="935.8" width="81.5" height="90.5" fill="none" stroke="#000" stroke-width="1.8"/>
<rect x="930.8" y="937.3" width="78.5" height="87.5" fill="none" stroke="#b0b0b0" stroke-width="0.5"/>
<clipPath id="gc20"><rect x="669.2" y="1029.2" width="83.2" height="92.3"/></clipPath>
<g clip-path="url(#gc20)">
<rect x="669.2" y="1029.2" width="83.2" height="92.3" fill="#8a8a8a"/>
<rect x="669.2" y="1029.2" width="83.2" height="92.3" filter="url(#cells2)" fill="#fff"/>
<path d="M669.2 1059.66 L710.8 1060.58 L752.4 1059.66 L752.4 1090.12 L710.8 1091.96 L669.2 1091.04 Z" fill="#878787" filter="url(#blur1)"/>
<rect x="669.2" y="1029.2" width="83.2" height="92.3" fill="url(#vig)"/>
</g>
<rect x="670.1" y="1030.1" width="81.4" height="90.5" fill="none" stroke="#000" stroke-width="1.8"/>
<rect x="671.6" y="1031.6" width="78.4" height="87.5" fill="none" stroke="#b0b0b0" stroke-width="0.5"/>
<clipPath id="gc21"><rect x="755.8" y="1029.2" width="83.2" height="92.3"/></clipPath>
<g clip-path="url(#gc21)">
<rect x="755.8" y="1029.2" width="83.2" height="92.3" fill="#8a8a8a"/>
<rect x="755.8" y="1029.2" width="83.2" height="92.3" filter="url(#cells0)" fill="#fff"/>
<path d="M755.8 1064.27 L780.76 1063.35 L805.72 1062.43 L839 1064.27 L839 1082.73 L805.72 1079.04 L780.76 1086.43 L755.8 1082.73 Z" fill="#878787" filter="url(#blur1)"/>
<rect x="755.8" y="1029.2" width="83.2" height="92.3" fill="url(#vig)"/>
</g>
<rect x="756.7" y="1030.1" width="81.4" height="90.5" fill="none" stroke="#000" stroke-width="1.8"/>
<rect x="758.2" y="1031.6" width="78.4" height="87.5" fill="none" stroke="#b0b0b0" stroke-width="0.5"/>
<clipPath id="gc22"><rect x="842.4" y="1029.2" width="83.1" height="92.3"/></clipPath>
<g clip-path="url(#gc22)">
<rect x="842.4" y="1029.2" width="83.1" height="92.3" fill="#8a8a8a"/>
<rect x="842.4" y="1029.2" width="83.1" height="92.3" filter="url(#cells1)" fill="#fff"/>
<path d="M842.4 1067.97 L863.17 1060.58 L892.26 1069.81 L925.5 1067.97 L925.5 1084.58 L892.26 1080.89 L863.17 1077.2 L842.4 1075.35 Z" fill="#878787" filter="url(#blur1)"/>
<rect x="842.4" y="1029.2" width="83.1" height="92.3" fill="url(#vig)"/>
</g>
<rect x="843.3" y="1030.1" width="81.3" height="90.5" fill="none" stroke="#000" stroke-width="1.8"/>
<rect x="844.8" y="1031.6" width="78.3" height="87.5" fill="none" stroke="#b0b0b0" stroke-width="0.5"/>
<clipPath id="gc23"><rect x="928.4" y="1029.2" width="83.3" height="92.3"/></clipPath>
<g clip-path="url(#gc23)">
<rect x="928.4" y="1029.2" width="83.3" height="92.3" fill="#8a8a8a"/>
<rect x="928.4" y="1029.2" width="83.3" height="92.3" filter="url(#cells2)" fill="#fff"/>
<rect x="928.4" y="1029.2" width="83.3" height="92.3" fill="url(#vig)"/>
</g>
<rect x="929.3" y="1030.1" width="81.5" height="90.5" fill="none" stroke="#000" stroke-width="1.8"/>
<rect x="930.8" y="1031.6" width="78.5" height="87.5" fill="none" stroke="#b0b0b0" stroke-width="0.5"/>
<rect x="680.2" y="919.5" width="42.3" height="2.6" fill="#000"/>
<rect x="763.5" y="919.5" width="42.3" height="2.6" fill="#000"/>
<rect x="851.5" y="919.5" width="42.3" height="2.6" fill="#000"/>
<rect x="933.6" y="919.5" width="42.3" height="2.6" fill="#000"/>
<rect x="680.2" y="1014.4" width="42.3" height="2.6" fill="#000"/>
<rect x="763.5" y="1014.4" width="42.3" height="2.6" fill="#000"/>
<rect x="851.5" y="1014.4" width="42.3" height="2.6" fill="#000"/>
<rect x="933.6" y="1014.4" width="42.3" height="2.6" fill="#000"/>
<rect x="680.2" y="1110" width="42.3" height="2.6" fill="#000"/>
<rect x="763.5" y="1110" width="42.3" height="2.6" fill="#000"/>
<rect x="851.5" y="1110" width="42.3" height="2.6" fill="#000"/>
<rect x="933.6" y="1110" width="42.3" height="2.6" fill="#000"/>
<text x="-0.5" y="1196.5" font-size="37.3" font-weight="bold">h</text>
<text x="198.9" y="1255.2" font-size="27.15" text-anchor="end">shControl</text>
<text x="198.9" y="1374.4" font-size="27.15" text-anchor="end">shPAK2_Control</text>
<text x="198.9" y="1490" font-size="27.15" text-anchor="end">shPAK2_Myc</text>
<clipPath id="hc0"><rect x="206.7" y="1183.7" width="120.1" height="119.5"/></clipPath>
<g clip-path="url(#hc0)">
<rect x="206.7" y="1183.7" width="120.1" height="119.5" fill="url(#hbg)"/>
<g filter="url(#wob)">
<path d="M278.76 1199.24 L279.96 1213.58 L279.96 1226.72" fill="none" stroke="#3f5fd0" stroke-width="7.21" stroke-linecap="round" stroke-linejoin="round" opacity="0.65"/>
<path d="M273.96 1226.72 L285.97 1241.06 L290.77 1257.79" fill="none" stroke="#6f86dc" stroke-width="12.01" stroke-linecap="round" stroke-linejoin="round" opacity="0.45"/>
<path d="M266.75 1249.42 L276.36 1267.35" fill="none" stroke="#6f86dc" stroke-width="9.61" stroke-linecap="round" stroke-linejoin="round" opacity="0.35"/>
<path d="M281.16 1225.53 L269.15 1237.48 L261.95 1245.84" fill="none" stroke="#3f5fd0" stroke-width="6.61" stroke-linecap="round" stroke-linejoin="round" opacity="0.6"/>
<path d="M272.75 1231.5 L269.15 1245.84 L266.75 1257.79" fill="none" stroke="#3f5fd0" stroke-width="4.8" stroke-linecap="round" stroke-linejoin="round" opacity="0.45"/>
<path d="M283.56 1249.42 L297.98 1245.84 L309.99 1239.87" fill="none" stroke="#3f5fd0" stroke-width="6.61" stroke-linecap="round" stroke-linejoin="round" opacity="0.75"/>
<path d="M281.16 1243.45 L285.97 1255.4 L290.77 1267.35 L294.37 1276.91" fill="none" stroke="#3f5fd0" stroke-width="7.81" stroke-linecap="round" stroke-linejoin="round" opacity="0.65"/>
<path d="M278.76 1255.4 L269.15 1272.13 L264.35 1288.86" fill="none" stroke="#3f5fd0" stroke-width="6.01" stroke-linecap="round" stroke-linejoin="round" opacity="0.45"/>
<path d="M284.76 1262.57 L282.36 1279.3 L279.96 1293.64" fill="none" stroke="#3f5fd0" stroke-width="4.8" stroke-linecap="round" stroke-linejoin="round" opacity="0.4"/>
<path d="M300.38 1276.91 L301.58 1286.47 L300.38 1298.42" fill="none" stroke="#2b3fb4" stroke-width="3.6" stroke-linecap="round" stroke-linejoin="round" opacity="0.8"/>
<path d="M317.19 1241.06 L318.39 1250.62 L315.99 1260.18" fill="none" stroke="#3f5fd0" stroke-width="4.2" stroke-linecap="round" stroke-linejoin="round" opacity="0.5"/>
<path d="M218.71 1223.13 L228.32 1233.89 L237.93 1243.45" fill="none" stroke="#6f86dc" stroke-width="12.01" stroke-linecap="round" stroke-linejoin="round" opacity="0.45"/>
<path d="M221.11 1245.84 L230.72 1238.67 L242.73 1229.11" fill="none" stroke="#6f86dc" stroke-width="10.81" stroke-linecap="round" stroke-linejoin="round" opacity="0.4"/>
<path d="M228.32 1243.45 L230.72 1255.4" fill="none" stroke="#6f86dc" stroke-width="7.21" stroke-linecap="round" stroke-linejoin="round" opacity="0.4"/>
<path d="M248.73 1192.07 L254.74 1199.24 L259.54 1204.02" fill="none" stroke="#3f5fd0" stroke-width="1.44" stroke-linecap="round" stroke-linejoin="round" opacity="0.6"/>
<path d="M209.1 1219.55 L215.11 1229.11" fill="none" stroke="#3f5fd0" stroke-width="1.44" stroke-linecap="round" stroke-linejoin="round" opacity="0.5"/>
<path d="M237.93 1264.96 L240.33 1272.13" fill="none" stroke="#3f5fd0" stroke-width="6.01" stroke-linecap="round" stroke-linejoin="round" opacity="0.5"/>
<path d="M217.51 1274.52 L223.51 1278.11" fill="none" stroke="#3f5fd0" stroke-width="4.8" stroke-linecap="round" stroke-linejoin="round" opacity="0.45"/>
<path d="M276.36 1209.99 L273.96 1219.55" fill="none" stroke="#6f86dc" stroke-width="6.01" stroke-linecap="round" stroke-linejoin="round" opacity="0.4"/>
<path d="M293.17 1255.4 L297.98 1264.96" fill="none" stroke="#6f86dc" stroke-width="6.01" stroke-linecap="round" stroke-linejoin="round" opacity="0.4"/>
<path d="M254.74 1298.42 L247.53 1291.25" fill="none" stroke="#3f5fd0" stroke-width="2.4" stroke-linecap="round" stroke-linejoin="round" opacity="0.4"/>
</g><g filter="url(#blur05)">
<ellipse cx="263.15" cy="1190.87" rx="2.38" ry="2.89" fill="#2b3fb4" opacity="0.9"/>
<ellipse cx="269.15" cy="1208.8" rx="2.16" ry="2.63" fill="#2b3fb4" opacity="0.85"/>
<ellipse cx="311.19" cy="1213.58" rx="2.7" ry="3.29" fill="#2b3fb4" opacity="0.75"/>
<ellipse cx="302.78" cy="1256.6" rx="2.7" ry="3.29" fill="#2b3fb4" opacity="0.8"/>
<ellipse cx="245.13" cy="1263.77" rx="2.38" ry="2.89" fill="#2b3fb4" opacity="0.9"/>
<ellipse cx="325" cy="1279.3" rx="2.16" ry="2.63" fill="#2b3fb4" opacity="0.8"/>
<ellipse cx="324.4" cy="1236.28" rx="1.95" ry="2.37" fill="#2b3fb4" opacity="0.8"/>
<ellipse cx="245.13" cy="1207.6" rx="1.08" ry="1.31" fill="#2b3fb4" opacity="0.7"/>
<ellipse cx="281.16" cy="1224.33" rx="3.24" ry="3.94" fill="#141a58" opacity="0.95"/>
<ellipse cx="284.76" cy="1231.5" rx="3.03" ry="3.68" fill="#1c28a0" opacity="0.95"/>
<ellipse cx="216.91" cy="1239.87" rx="2.81" ry="3.42" fill="#141a58" opacity="0.95"/>
<ellipse cx="229.52" cy="1230.31" rx="2.38" ry="2.89" fill="#2b3fb4" opacity="0.8"/>
<ellipse cx="224.72" cy="1242.26" rx="2.38" ry="2.89" fill="#2b3fb4" opacity="0.8"/>
<ellipse cx="237.93" cy="1238.67" rx="3.03" ry="3.68" fill="#2b3fb4" opacity="0.8"/>
<ellipse cx="233.12" cy="1244.64" rx="2.16" ry="2.63" fill="#2b3fb4" opacity="0.7"/>
<ellipse cx="283.56" cy="1247.04" rx="2.7" ry="3.29" fill="#2b3fb4" opacity="0.85"/>
<ellipse cx="287.17" cy="1254.2" rx="3.03" ry="3.68" fill="#2b3fb4" opacity="0.9"/>
<ellipse cx="278.76" cy="1262.57" rx="2.59" ry="3.15" fill="#2b3fb4" opacity="0.8"/>
<ellipse cx="288.37" cy="1268.55" rx="2.38" ry="2.89" fill="#2b3fb4" opacity="0.8"/>
<ellipse cx="279.96" cy="1207.6" rx="1.95" ry="2.37" fill="#2b3fb4" opacity="0.7"/>
<ellipse cx="223.51" cy="1285.28" rx="1.3" ry="1.58" fill="#2b3fb4" opacity="0.8"/>
<ellipse cx="322" cy="1188.48" rx="1.62" ry="1.97" fill="#141a58" opacity="0.7"/>
<ellipse cx="307.58" cy="1232.69" rx="1.3" ry="1.58" fill="#2b3fb4" opacity="0.6"/>
<ellipse cx="302.78" cy="1282.88" rx="1.73" ry="2.1" fill="#2b3fb4" opacity="0.85"/>
</g>
<circle cx="245.59" cy="1201.73" r="0.65" fill="#8fb8ea" opacity="0.7"/>
<circle cx="271.06" cy="1227.4" r="1.24" fill="#8fb8ea" opacity="0.7"/>
<circle cx="232.49" cy="1193.97" r="0.65" fill="#c8a8c0" opacity="0.7"/>
<circle cx="217.59" cy="1234.43" r="1.26" fill="#8fb8ea" opacity="0.7"/>
<circle cx="282.44" cy="1253.37" r="1" fill="#8fb8ea" opacity="0.7"/>
<circle cx="254.34" cy="1300.36" r="0.99" fill="#8fb8ea" opacity="0.7"/>
<circle cx="222.69" cy="1233.79" r="1" fill="#8fb8ea" opacity="0.7"/>
<circle cx="273.99" cy="1265.2" r="1.01" fill="#8fb8ea" opacity="0.7"/>
<circle cx="283.43" cy="1228.2" r="1" fill="#8fb8ea" opacity="0.7"/>
<circle cx="281.04" cy="1243.02" r="1.14" fill="#c8a8c0" opacity="0.7"/>
<circle cx="262.62" cy="1294.05" r="0.81" fill="#9ac8f0" opacity="0.7"/>
<circle cx="302.1" cy="1267.23" r="0.66" fill="#7fa0e0" opacity="0.7"/>
<circle cx="242.76" cy="1242.87" r="1.11" fill="#9ac8f0" opacity="0.7"/>
<circle cx="241.28" cy="1300.83" r="0.96" fill="#8fb8ea" opacity="0.7"/>
<circle cx="226.51" cy="1224.58" r="0.9" fill="#c8a8c0" opacity="0.7"/>
<circle cx="322.24" cy="1192.98" r="0.84" fill="#9ac8f0" opacity="0.7"/>
<circle cx="248.76" cy="1243.05" r="0.65" fill="#c8a8c0" opacity="0.7"/>
<circle cx="217.94" cy="1215.96" r="0.64" fill="#8fb8ea" opacity="0.7"/>
<circle cx="290.95" cy="1261.03" r="0.8" fill="#c8a8c0" opacity="0.7"/>
<circle cx="253.03" cy="1263.6" r="1.26" fill="#8fb8ea" opacity="0.7"/>
<circle cx="249.39" cy="1256.7" r="0.64" fill="#c8a8c0" opacity="0.7"/>
<circle cx="298.96" cy="1199.16" r="0.88" fill="#7fa0e0" opacity="0.7"/>
<circle cx="316.81" cy="1243.03" r="0.91" fill="#7fa0e0" opacity="0.7"/>
<circle cx="272.69" cy="1289.26" r="1.2" fill="#c8a8c0" opacity="0.7"/>
<circle cx="240.14" cy="1233.33" r="1.08" fill="#9ac8f0" opacity="0.7"/>
<circle cx="252.39" cy="1211.27" r="0.72" fill="#8fb8ea" opacity="0.7"/>
<circle cx="234.56" cy="1211.58" r="1.18" fill="#c8a8c0" opacity="0.7"/>
<circle cx="228.6" cy="1217.39" r="0.89" fill="#7fa0e0" opacity="0.7"/>
<circle cx="251.05" cy="1251.38" r="1.08" fill="#7fa0e0" opacity="0.7"/>
<circle cx="268.61" cy="1257.5" r="0.92" fill="#8fb8ea" opacity="0.7"/>
<circle cx="311.3" cy="1297.45" r="0.88" fill="#c8a8c0" opacity="0.7"/>
<circle cx="254.03" cy="1241.24" r="0.64" fill="#c8a8c0" opacity="0.7"/>
<circle cx="214.79" cy="1208.65" r="0.68" fill="#7fa0e0" opacity="0.7"/>
<circle cx="278.85" cy="1195.93" r="0.98" fill="#7fa0e0" opacity="0.7"/>
<circle cx="320.67" cy="1257.04" r="1.21" fill="#8fb8ea" opacity="0.7"/>
<circle cx="280.45" cy="1201.45" r="1.27" fill="#9ac8f0" opacity="0.7"/>
<circle cx="279.03" cy="1240.36" r="1.19" fill="#8fb8ea" opacity="0.7"/>
<circle cx="325.97" cy="1239.39" r="0.82" fill="#c8a8c0" opacity="0.7"/>
<circle cx="224.01" cy="1273.29" r="0.94" fill="#9ac8f0" opacity="0.7"/>
<circle cx="289.82" cy="1245.4" r="1.27" fill="#7fa0e0" opacity="0.7"/>
<circle cx="270.14" cy="1201.22" r="1.13" fill="#8fb8ea" opacity="0.7"/>
<circle cx="242.5" cy="1260.53" r="1.09" fill="#8fb8ea" opacity="0.7"/>
<circle cx="238.06" cy="1227.52" r="0.85" fill="#7fa0e0" opacity="0.7"/>
<circle cx="233.46" cy="1248.42" r="1.05" fill="#9ac8f0" opacity="0.7"/>
<circle cx="280.35" cy="1277.91" r="1.16" fill="#7fa0e0" opacity="0.7"/>
<circle cx="304.98" cy="1272.11" r="0.74" fill="#7fa0e0" opacity="0.7"/>
<circle cx="265.88" cy="1271.05" r="1.15" fill="#8fb8ea" opacity="0.7"/>
<circle cx="263.42" cy="1206.84" r="0.91" fill="#9ac8f0" opacity="0.7"/>
<circle cx="319.24" cy="1301.77" r="0.66" fill="#9ac8f0" opacity="0.7"/>
<circle cx="218.97" cy="1239.87" r="0.74" fill="#9ac8f0" opacity="0.7"/>
<circle cx="281.65" cy="1291.29" r="0.94" fill="#8fb8ea" opacity="0.7"/>
<circle cx="285.12" cy="1279.26" r="1.18" fill="#8fb8ea" opacity="0.7"/>
<circle cx="221.1" cy="1230.13" r="0.93" fill="#7fa0e0" opacity="0.7"/>
<circle cx="228.14" cy="1278" r="0.66" fill="#9ac8f0" opacity="0.7"/>
<circle cx="320.33" cy="1269.96" r="0.88" fill="#c8a8c0" opacity="0.7"/>
</g>
<rect x="207.7" y="1184.7" width="118.1" height="117.5" fill="none" stroke="#000" stroke-width="2.2"/>
<clipPath id="hc1"><rect x="206.7" y="1310.3" width="120.1" height="118.8"/></clipPath>
<g clip-path="url(#hc1)">
<rect x="206.7" y="1310.3" width="120.1" height="118.8" fill="url(#hbg)"/>
<g filter="url(#wob)">
<path d="M242.73 1376.83 L248.73 1385.14 L252.34 1393.46" fill="none" stroke="#8c96dc" stroke-width="10.81" stroke-linecap="round" stroke-linejoin="round" opacity="0.5"/>
<path d="M242.73 1383.96 L233.12 1393.46 L223.51 1398.21" fill="none" stroke="#8090d8" stroke-width="4.8" stroke-linecap="round" stroke-linejoin="round" opacity="0.55"/>
<path d="M283.56 1317.43 L293.17 1324.56 L297.98 1335.25" fill="none" stroke="#6f80d0" stroke-width="6.01" stroke-linecap="round" stroke-linejoin="round" opacity="0.5"/>
<path d="M285.97 1381.58 L287.17 1388.71" fill="none" stroke="#8aa0e0" stroke-width="3.6" stroke-linecap="round" stroke-linejoin="round" opacity="0.45"/>
<path d="M254.74 1419.6 L252.34 1426.72" fill="none" stroke="#3f5fd0" stroke-width="1.8" stroke-linecap="round" stroke-linejoin="round" opacity="0.5"/>
<path d="M212.7 1355.44 L212.1 1360.2 L213.91 1362.57" fill="none" stroke="#3f5fd0" stroke-width="1.44" stroke-linecap="round" stroke-linejoin="round" opacity="0.5"/>
<path d="M297.98 1402.96 L302.78 1406.53" fill="none" stroke="#7a80d0" stroke-width="4.8" stroke-linecap="round" stroke-linejoin="round" opacity="0.6"/>
</g><g filter="url(#blur05)">
<ellipse cx="243.93" cy="1372.08" rx="3.89" ry="4.7" fill="#141a58" opacity="0.95"/>
<ellipse cx="241.53" cy="1369.7" rx="2.16" ry="2.61" fill="#101030" opacity="0.9"/>
<ellipse cx="284.76" cy="1318.62" rx="1.73" ry="2.09" fill="#20287a" opacity="0.85"/>
<ellipse cx="297.98" cy="1320.4" rx="1.95" ry="2.35" fill="#20287a" opacity="0.85"/>
<ellipse cx="300.38" cy="1405.34" rx="1.3" ry="1.57" fill="#4a50b0" opacity="0.7"/>
</g>
<circle cx="320.41" cy="1396.41" r="1.05" fill="#7a6aa0" opacity="0.85"/>
<circle cx="210.01" cy="1380.49" r="0.96" fill="#8a6a80" opacity="0.85"/>
<circle cx="224.26" cy="1408.49" r="0.9" fill="#8a6a80" opacity="0.85"/>
<circle cx="248.78" cy="1375.48" r="0.61" fill="#7a6aa0" opacity="0.85"/>
<circle cx="302.7" cy="1396.59" r="0.84" fill="#6a5888" opacity="0.85"/>
<circle cx="318.83" cy="1361.84" r="0.97" fill="#7a6aa0" opacity="0.85"/>
<circle cx="232.05" cy="1340.22" r="0.83" fill="#5a5a98" opacity="0.85"/>
<circle cx="298.42" cy="1349.03" r="0.98" fill="#8a6a80" opacity="0.85"/>
<circle cx="214.01" cy="1398.2" r="0.9" fill="#8a6a80" opacity="0.85"/>
<circle cx="304.59" cy="1371.69" r="0.84" fill="#7a6aa0" opacity="0.85"/>
<circle cx="269.57" cy="1312.52" r="0.95" fill="#8a6a80" opacity="0.85"/>
<circle cx="279.79" cy="1402.49" r="0.68" fill="#7a6aa0" opacity="0.85"/>
<circle cx="263.57" cy="1396.45" r="0.75" fill="#6a5888" opacity="0.85"/>
<circle cx="268.95" cy="1376.29" r="1" fill="#6a5888" opacity="0.85"/>
<circle cx="213.52" cy="1333.03" r="0.95" fill="#6a5888" opacity="0.85"/>
<circle cx="267.68" cy="1377.03" r="0.8" fill="#6a5888" opacity="0.85"/>
<circle cx="280.26" cy="1370.36" r="0.91" fill="#7a6aa0" opacity="0.85"/>
<circle cx="261.03" cy="1373.65" r="0.83" fill="#8a6a80" opacity="0.85"/>
<circle cx="236.44" cy="1372.46" r="1.02" fill="#5a5a98" opacity="0.85"/>
<circle cx="313.92" cy="1334.37" r="0.66" fill="#8a6a80" opacity="0.85"/>
<circle cx="221.31" cy="1362.82" r="0.9" fill="#6a5888" opacity="0.85"/>
<circle cx="258.14" cy="1335.57" r="0.95" fill="#5a5a98" opacity="0.85"/>
<circle cx="314.43" cy="1328.65" r="0.66" fill="#5a5a98" opacity="0.85"/>
<circle cx="312.73" cy="1425.24" r="0.94" fill="#7a6aa0" opacity="0.85"/>
<circle cx="218" cy="1415.43" r="1.05" fill="#7a6aa0" opacity="0.85"/>
<circle cx="306.68" cy="1329.48" r="1.05" fill="#8a6a80" opacity="0.85"/>
<circle cx="255.2" cy="1360.35" r="0.74" fill="#5a5a98" opacity="0.85"/>
<circle cx="293.43" cy="1312.61" r="0.8" fill="#8a6a80" opacity="0.85"/>
<circle cx="208.87" cy="1349.68" r="0.83" fill="#5a5a98" opacity="0.85"/>
<circle cx="214.42" cy="1427.33" r="1.04" fill="#7a6aa0" opacity="0.85"/>
<circle cx="219.28" cy="1341.85" r="1.01" fill="#6a5888" opacity="0.85"/>
<circle cx="228.5" cy="1400.09" r="0.98" fill="#8a6a80" opacity="0.85"/>
<circle cx="287.88" cy="1422.68" r="0.67" fill="#8a6a80" opacity="0.85"/>
<circle cx="317.09" cy="1378.09" r="0.64" fill="#5a5a98" opacity="0.85"/>
<circle cx="213.61" cy="1392.06" r="1" fill="#8a6a80" opacity="0.85"/>
<circle cx="239" cy="1312.3" r="0.96" fill="#6a5888" opacity="0.85"/>
<circle cx="216.76" cy="1412.02" r="0.72" fill="#6a5888" opacity="0.85"/>
<circle cx="221.31" cy="1311.67" r="1.02" fill="#8a6a80" opacity="0.85"/>
<circle cx="238.87" cy="1325.65" r="1.02" fill="#7a6aa0" opacity="0.85"/>
<circle cx="323.1" cy="1341.41" r="0.69" fill="#7a6aa0" opacity="0.85"/>
<circle cx="244.17" cy="1346.53" r="0.73" fill="#7a6aa0" opacity="0.85"/>
<circle cx="266.76" cy="1331.43" r="0.96" fill="#5a5a98" opacity="0.85"/>
<circle cx="326.14" cy="1314.69" r="0.93" fill="#6a5888" opacity="0.85"/>
<circle cx="272.88" cy="1332.81" r="0.71" fill="#8a6a80" opacity="0.85"/>
<circle cx="260.39" cy="1388.51" r="0.9" fill="#8a6a80" opacity="0.85"/>
<circle cx="272.26" cy="1415.88" r="0.91" fill="#5a5a98" opacity="0.85"/>
<circle cx="324.69" cy="1351.01" r="0.78" fill="#7a6aa0" opacity="0.85"/>
<circle cx="248.44" cy="1316.76" r="0.61" fill="#7a6aa0" opacity="0.85"/>
<circle cx="281.82" cy="1414.83" r="0.67" fill="#8a6a80" opacity="0.85"/>
<circle cx="216.85" cy="1410.24" r="0.87" fill="#5a5a98" opacity="0.85"/>
<circle cx="289.89" cy="1315.67" r="0.67" fill="#7a6aa0" opacity="0.85"/>
<circle cx="260.24" cy="1341.57" r="1.04" fill="#5a5a98" opacity="0.85"/>
<circle cx="272.4" cy="1339.34" r="0.7" fill="#5a5a98" opacity="0.85"/>
<circle cx="228.67" cy="1350.14" r="0.81" fill="#6a5888" opacity="0.85"/>
<circle cx="267.08" cy="1334.18" r="0.64" fill="#6a5888" opacity="0.85"/>
<circle cx="304.83" cy="1327.39" r="0.78" fill="#6a5888" opacity="0.85"/>
<circle cx="242.69" cy="1385.1" r="0.86" fill="#6a5888" opacity="0.85"/>
<circle cx="270.26" cy="1399.46" r="0.94" fill="#8a6a80" opacity="0.85"/>
<circle cx="293.25" cy="1369.01" r="0.93" fill="#5a5a98" opacity="0.85"/>
<circle cx="283.95" cy="1315.5" r="0.93" fill="#8a6a80" opacity="0.85"/>
<circle cx="304.25" cy="1326.85" r="0.97" fill="#6a5888" opacity="0.85"/>
<circle cx="276.85" cy="1416.37" r="0.64" fill="#7a6aa0" opacity="0.85"/>
<circle cx="211.73" cy="1385.99" r="0.77" fill="#6a5888" opacity="0.85"/>
<circle cx="260.91" cy="1316.33" r="0.88" fill="#6a5888" opacity="0.85"/>
<circle cx="288.45" cy="1368.43" r="0.81" fill="#6a5888" opacity="0.85"/>
<circle cx="215.12" cy="1421.08" r="0.9" fill="#6a5888" opacity="0.85"/>
<circle cx="214.63" cy="1397.83" r="0.96" fill="#5a5a98" opacity="0.85"/>
<circle cx="308.32" cy="1338.19" r="0.7" fill="#7a6aa0" opacity="0.85"/>
<circle cx="284.76" cy="1364.99" r="0.63" fill="#8a6a80" opacity="0.85"/>
<circle cx="316.05" cy="1344.43" r="0.88" fill="#6a5888" opacity="0.85"/>
<circle cx="283.9" cy="1319.5" r="0.75" fill="#7a6aa0" opacity="0.85"/>
<circle cx="284.95" cy="1392.61" r="0.61" fill="#7a6aa0" opacity="0.85"/>
<circle cx="213.99" cy="1342.23" r="0.91" fill="#6a5888" opacity="0.85"/>
<circle cx="287.85" cy="1344.85" r="0.81" fill="#5a5a98" opacity="0.85"/>
<circle cx="262.71" cy="1324.38" r="0.74" fill="#7a6aa0" opacity="0.85"/>
<circle cx="217.01" cy="1366.49" r="0.81" fill="#5a5a98" opacity="0.85"/>
<circle cx="305.17" cy="1425.31" r="1.05" fill="#8a6a80" opacity="0.85"/>
<circle cx="253.16" cy="1419.19" r="0.63" fill="#7a6aa0" opacity="0.85"/>
<circle cx="217.55" cy="1399.1" r="1.03" fill="#5a5a98" opacity="0.85"/>
<circle cx="222.63" cy="1407.74" r="1" fill="#5a5a98" opacity="0.85"/>
<circle cx="291.17" cy="1337.79" r="0.78" fill="#8a6a80" opacity="0.85"/>
<circle cx="225.8" cy="1423.16" r="0.78" fill="#8a6a80" opacity="0.85"/>
<circle cx="294.03" cy="1359.74" r="0.74" fill="#8a6a80" opacity="0.85"/>
<circle cx="307.61" cy="1310.51" r="0.98" fill="#5a5a98" opacity="0.85"/>
<circle cx="221.12" cy="1420.36" r="1.01" fill="#6a5888" opacity="0.85"/>
<circle cx="241.51" cy="1354.52" r="0.78" fill="#8a6a80" opacity="0.85"/>
<circle cx="311.18" cy="1319.38" r="0.94" fill="#8a6a80" opacity="0.85"/>
<circle cx="309.3" cy="1343.64" r="0.98" fill="#6a5888" opacity="0.85"/>
<circle cx="241" cy="1421.45" r="1.04" fill="#7a6aa0" opacity="0.85"/>
<circle cx="259.09" cy="1347.79" r="0.95" fill="#5a5a98" opacity="0.85"/>
<circle cx="258.07" cy="1313.75" r="1.01" fill="#8a6a80" opacity="0.85"/>
<circle cx="319.68" cy="1375.55" r="0.62" fill="#6a5888" opacity="0.85"/>
<circle cx="294.66" cy="1363.86" r="0.89" fill="#7a6aa0" opacity="0.85"/>
<circle cx="241.07" cy="1316.12" r="0.68" fill="#7a6aa0" opacity="0.85"/>
<circle cx="256.53" cy="1343.77" r="0.93" fill="#5a5a98" opacity="0.85"/>
<circle cx="323.95" cy="1341.21" r="0.74" fill="#7a6aa0" opacity="0.85"/>
<circle cx="273.63" cy="1357.15" r="0.89" fill="#7a6aa0" opacity="0.85"/>
<circle cx="215.73" cy="1369.77" r="0.85" fill="#8a6a80" opacity="0.85"/>
<circle cx="261.1" cy="1349.84" r="0.79" fill="#8a6a80" opacity="0.85"/>
<circle cx="272.49" cy="1339.3" r="0.75" fill="#7a6aa0" opacity="0.85"/>
<circle cx="217.64" cy="1338.71" r="0.96" fill="#5a5a98" opacity="0.85"/>
<circle cx="230.98" cy="1312.69" r="0.77" fill="#8a6a80" opacity="0.85"/>
<circle cx="296.28" cy="1335.25" r="0.75" fill="#5a5a98" opacity="0.85"/>
<circle cx="214.15" cy="1343.27" r="0.66" fill="#5a5a98" opacity="0.85"/>
<circle cx="267.16" cy="1385.1" r="0.64" fill="#7a6aa0" opacity="0.85"/>
<circle cx="314.4" cy="1355.99" r="0.79" fill="#8a6a80" opacity="0.85"/>
<circle cx="244.17" cy="1407.04" r="0.66" fill="#6a5888" opacity="0.85"/>
<circle cx="257.77" cy="1401.03" r="1.04" fill="#8a6a80" opacity="0.85"/>
<circle cx="265.53" cy="1318.99" r="1.04" fill="#8a6a80" opacity="0.85"/>
<circle cx="236.54" cy="1323.25" r="0.67" fill="#7a6aa0" opacity="0.85"/>
</g>
<rect x="207.7" y="1311.3" width="118.1" height="116.8" fill="none" stroke="#000" stroke-width="2.2"/>
<clipPath id="hc2"><rect x="206.7" y="1436.5" width="120.1" height="119.1"/></clipPath>
<g clip-path="url(#hc2)">
<rect x="206.7" y="1436.5" width="120.1" height="119.1" fill="url(#hbg)"/>
<g filter="url(#wob)">
<path d="M252.34 1522.25 L257.14 1505.58 L261.95 1492.48 L269.15 1479.38" fill="none" stroke="#7a86d8" stroke-width="8.41" stroke-linecap="round" stroke-linejoin="round" opacity="0.55"/>
<path d="M242.73 1522.25 L230.72 1510.34 L221.11 1502" fill="none" stroke="#7a86d8" stroke-width="4.8" stroke-linecap="round" stroke-linejoin="round" opacity="0.5"/>
<path d="M264.35 1519.87 L276.36 1507.96 L288.37 1500.81" fill="none" stroke="#7a86d8" stroke-width="4.2" stroke-linecap="round" stroke-linejoin="round" opacity="0.5"/>
<path d="M254.74 1531.78 L249.94 1546.07" fill="none" stroke="#3f5fd0" stroke-width="4.8" stroke-linecap="round" stroke-linejoin="round" opacity="0.5"/>
<path d="M261.95 1531.78 L272.75 1541.31" fill="none" stroke="#3f5fd0" stroke-width="3.6" stroke-linecap="round" stroke-linejoin="round" opacity="0.45"/>
<path d="M242.73 1524.63 L266.75 1527.02" fill="none" stroke="#3f5fd0" stroke-width="14.41" stroke-linecap="round" stroke-linejoin="round" opacity="0.6"/>
<path d="M266.75 1469.85 L276.36 1475.8" fill="none" stroke="#5a5ccc" stroke-width="13.21" stroke-linecap="round" stroke-linejoin="round" opacity="0.65"/>
<path d="M218.71 1448.41 L236.72 1460.32" fill="none" stroke="#8aa0e0" stroke-width="2.4" stroke-linecap="round" stroke-linejoin="round" opacity="0.45"/>
<path d="M224.72 1460.32 L242.73 1448.41" fill="none" stroke="#8aa0e0" stroke-width="2.4" stroke-linecap="round" stroke-linejoin="round" opacity="0.4"/>
<path d="M264.35 1462.7 L271.55 1455.56" fill="none" stroke="#8aa0e0" stroke-width="2.4" stroke-linecap="round" stroke-linejoin="round" opacity="0.5"/>
<path d="M307.58 1542.5 L309.99 1550.84" fill="none" stroke="#3f5fd0" stroke-width="4.8" stroke-linecap="round" stroke-linejoin="round" opacity="0.55"/>
<path d="M235.52 1484.14 L242.73 1496.05" fill="none" stroke="#8aa0e0" stroke-width="2.4" stroke-linecap="round" stroke-linejoin="round" opacity="0.4"/>
<path d="M290.77 1507.96 L302.78 1515.11" fill="none" stroke="#8aa0e0" stroke-width="1.8" stroke-linecap="round" stroke-linejoin="round" opacity="0.4"/>
</g><g filter="url(#blur05)">
<ellipse cx="252.34" cy="1527.02" rx="4.86" ry="5.9" fill="#141a58" opacity="0.9"/>
<ellipse cx="246.33" cy="1519.87" rx="3.24" ry="3.93" fill="#1c2270" opacity="0.85"/>
<ellipse cx="259.54" cy="1523.44" rx="3.24" ry="3.93" fill="#2a3090" opacity="0.8"/>
<ellipse cx="279.96" cy="1466.28" rx="2.81" ry="3.41" fill="#141a58" opacity="0.9"/>
<ellipse cx="272.75" cy="1473.42" rx="3.78" ry="4.59" fill="#6a48c0" opacity="0.6"/>
<ellipse cx="322" cy="1524.63" rx="2.16" ry="2.62" fill="#3f5fd0" opacity="0.7"/>
<ellipse cx="307.58" cy="1543.69" rx="2.16" ry="2.62" fill="#2b3fb4" opacity="0.7"/>
<ellipse cx="210.3" cy="1472.23" rx="1.3" ry="1.57" fill="#3f5fd0" opacity="0.6"/>
<ellipse cx="249.94" cy="1534.16" rx="2.16" ry="2.62" fill="#1c2270" opacity="0.8"/>
</g>
<circle cx="323.42" cy="1449.47" r="0.64" fill="#8a6a80" opacity="0.85"/>
<circle cx="300" cy="1436.66" r="0.7" fill="#7a6aa0" opacity="0.85"/>
<circle cx="317.18" cy="1513.38" r="1.03" fill="#5a5a98" opacity="0.85"/>
<circle cx="281.94" cy="1499.41" r="0.91" fill="#8a6a80" opacity="0.85"/>
<circle cx="220.17" cy="1444.88" r="0.77" fill="#7a6aa0" opacity="0.85"/>
<circle cx="233.55" cy="1508.09" r="0.84" fill="#6a5888" opacity="0.85"/>
<circle cx="326.36" cy="1469.68" r="0.89" fill="#5a5a98" opacity="0.85"/>
<circle cx="312.84" cy="1493.11" r="0.85" fill="#7a6aa0" opacity="0.85"/>
<circle cx="210.22" cy="1485.55" r="0.62" fill="#5a5a98" opacity="0.85"/>
<circle cx="230.01" cy="1541.89" r="0.64" fill="#8a6a80" opacity="0.85"/>
<circle cx="234.06" cy="1487.04" r="0.7" fill="#5a5a98" opacity="0.85"/>
<circle cx="210.8" cy="1476.76" r="0.76" fill="#8a6a80" opacity="0.85"/>
<circle cx="254.3" cy="1437.3" r="0.93" fill="#5a5a98" opacity="0.85"/>
<circle cx="267.34" cy="1460.94" r="0.74" fill="#7a6aa0" opacity="0.85"/>
<circle cx="305.18" cy="1463.99" r="0.72" fill="#7a6aa0" opacity="0.85"/>
<circle cx="313.51" cy="1449.48" r="0.87" fill="#8a6a80" opacity="0.85"/>
<circle cx="314.37" cy="1494.27" r="1.03" fill="#6a5888" opacity="0.85"/>
<circle cx="224.28" cy="1483.36" r="0.61" fill="#7a6aa0" opacity="0.85"/>
<circle cx="278.29" cy="1485.97" r="0.68" fill="#6a5888" opacity="0.85"/>
<circle cx="260.7" cy="1521.3" r="0.93" fill="#5a5a98" opacity="0.85"/>
<circle cx="326.5" cy="1547.45" r="0.69" fill="#5a5a98" opacity="0.85"/>
<circle cx="285.06" cy="1499" r="0.61" fill="#8a6a80" opacity="0.85"/>
<circle cx="286.5" cy="1481.59" r="1.04" fill="#5a5a98" opacity="0.85"/>
<circle cx="259.84" cy="1449.48" r="0.73" fill="#6a5888" opacity="0.85"/>
<circle cx="248.91" cy="1550.3" r="0.85" fill="#6a5888" opacity="0.85"/>
<circle cx="297.83" cy="1481.77" r="0.97" fill="#5a5a98" opacity="0.85"/>
<circle cx="258.64" cy="1442.37" r="0.69" fill="#8a6a80" opacity="0.85"/>
<circle cx="271.74" cy="1489.66" r="0.76" fill="#5a5a98" opacity="0.85"/>
<circle cx="314.43" cy="1440.11" r="0.71" fill="#8a6a80" opacity="0.85"/>
<circle cx="281.81" cy="1484.71" r="0.62" fill="#8a6a80" opacity="0.85"/>
<circle cx="214.22" cy="1546.08" r="0.69" fill="#5a5a98" opacity="0.85"/>
<circle cx="214.25" cy="1508.63" r="0.72" fill="#5a5a98" opacity="0.85"/>
<circle cx="321.72" cy="1509.98" r="0.94" fill="#5a5a98" opacity="0.85"/>
<circle cx="289.52" cy="1546.58" r="0.6" fill="#5a5a98" opacity="0.85"/>
<circle cx="297.45" cy="1545.65" r="0.61" fill="#6a5888" opacity="0.85"/>
<circle cx="234.79" cy="1493.1" r="1.03" fill="#8a6a80" opacity="0.85"/>
<circle cx="253.12" cy="1466.4" r="0.97" fill="#8a6a80" opacity="0.85"/>
<circle cx="222.64" cy="1495.64" r="0.96" fill="#6a5888" opacity="0.85"/>
<circle cx="295.39" cy="1534.49" r="0.87" fill="#7a6aa0" opacity="0.85"/>
<circle cx="246.07" cy="1474.56" r="0.95" fill="#5a5a98" opacity="0.85"/>
<circle cx="278.25" cy="1497.47" r="0.94" fill="#8a6a80" opacity="0.85"/>
<circle cx="236.4" cy="1444.21" r="0.82" fill="#6a5888" opacity="0.85"/>
<circle cx="272.11" cy="1455.64" r="1" fill="#8a6a80" opacity="0.85"/>
<circle cx="325.34" cy="1468.05" r="0.69" fill="#6a5888" opacity="0.85"/>
<circle cx="257.27" cy="1554.22" r="0.68" fill="#8a6a80" opacity="0.85"/>
<circle cx="222.67" cy="1491.4" r="0.94" fill="#7a6aa0" opacity="0.85"/>
<circle cx="308.42" cy="1515.63" r="0.95" fill="#6a5888" opacity="0.85"/>
<circle cx="242" cy="1469.78" r="0.77" fill="#5a5a98" opacity="0.85"/>
<circle cx="295.34" cy="1460.22" r="0.68" fill="#7a6aa0" opacity="0.85"/>
<circle cx="234.98" cy="1470.01" r="0.75" fill="#7a6aa0" opacity="0.85"/>
<circle cx="254.27" cy="1554.7" r="0.89" fill="#7a6aa0" opacity="0.85"/>
<circle cx="218.78" cy="1491.75" r="0.65" fill="#6a5888" opacity="0.85"/>
<circle cx="263.72" cy="1534.06" r="1.01" fill="#8a6a80" opacity="0.85"/>
<circle cx="211.55" cy="1471.48" r="0.62" fill="#6a5888" opacity="0.85"/>
<circle cx="278.82" cy="1535.11" r="1.02" fill="#7a6aa0" opacity="0.85"/>
<circle cx="251.41" cy="1539.66" r="0.87" fill="#8a6a80" opacity="0.85"/>
<circle cx="299.78" cy="1515.67" r="0.65" fill="#6a5888" opacity="0.85"/>
<circle cx="278.3" cy="1510.34" r="0.62" fill="#7a6aa0" opacity="0.85"/>
<circle cx="247.54" cy="1441.76" r="0.62" fill="#5a5a98" opacity="0.85"/>
<circle cx="294.64" cy="1545.35" r="0.97" fill="#6a5888" opacity="0.85"/>
<circle cx="255.82" cy="1480.78" r="0.64" fill="#5a5a98" opacity="0.85"/>
<circle cx="210.48" cy="1495.53" r="0.63" fill="#8a6a80" opacity="0.85"/>
<circle cx="218.88" cy="1483.58" r="0.89" fill="#7a6aa0" opacity="0.85"/>
<circle cx="217.65" cy="1456" r="0.78" fill="#5a5a98" opacity="0.85"/>
<circle cx="240.72" cy="1473.13" r="0.74" fill="#6a5888" opacity="0.85"/>
<circle cx="274.74" cy="1479.04" r="0.61" fill="#8a6a80" opacity="0.85"/>
<circle cx="298.78" cy="1532.04" r="0.78" fill="#7a6aa0" opacity="0.85"/>
<circle cx="255.34" cy="1548.69" r="1.01" fill="#8a6a80" opacity="0.85"/>
<circle cx="257.59" cy="1534.21" r="0.86" fill="#8a6a80" opacity="0.85"/>
<circle cx="250.5" cy="1528.57" r="0.61" fill="#7a6aa0" opacity="0.85"/>
<circle cx="272.94" cy="1512.8" r="0.64" fill="#8a6a80" opacity="0.85"/>
<circle cx="281.43" cy="1480.67" r="0.67" fill="#7a6aa0" opacity="0.85"/>
<circle cx="240.72" cy="1498.57" r="0.65" fill="#6a5888" opacity="0.85"/>
<circle cx="265.61" cy="1532.35" r="0.74" fill="#7a6aa0" opacity="0.85"/>
<circle cx="307.26" cy="1441.68" r="0.74" fill="#8a6a80" opacity="0.85"/>
<circle cx="279.68" cy="1512.29" r="1.01" fill="#6a5888" opacity="0.85"/>
<circle cx="281.2" cy="1534.7" r="0.89" fill="#7a6aa0" opacity="0.85"/>
<circle cx="309.58" cy="1510.47" r="0.97" fill="#7a6aa0" opacity="0.85"/>
<circle cx="228.67" cy="1462.48" r="1.02" fill="#8a6a80" opacity="0.85"/>
<circle cx="225.49" cy="1479.28" r="0.71" fill="#7a6aa0" opacity="0.85"/>
<circle cx="293.76" cy="1543.37" r="1" fill="#6a5888" opacity="0.85"/>
<circle cx="307.88" cy="1516.57" r="0.65" fill="#5a5a98" opacity="0.85"/>
<circle cx="278.7" cy="1502.01" r="0.89" fill="#5a5a98" opacity="0.85"/>
<circle cx="243.72" cy="1466.19" r="0.9" fill="#8a6a80" opacity="0.85"/>
<circle cx="260.36" cy="1488.71" r="0.6" fill="#6a5888" opacity="0.85"/>
<circle cx="325.14" cy="1491.91" r="0.94" fill="#8a6a80" opacity="0.85"/>
<circle cx="300.37" cy="1491.08" r="0.96" fill="#7a6aa0" opacity="0.85"/>
<circle cx="254.78" cy="1444.49" r="0.79" fill="#5a5a98" opacity="0.85"/>
<circle cx="217.71" cy="1489.14" r="0.62" fill="#6a5888" opacity="0.85"/>
<circle cx="222.35" cy="1546.33" r="0.95" fill="#5a5a98" opacity="0.85"/>
<circle cx="268.13" cy="1442.96" r="0.89" fill="#8a6a80" opacity="0.85"/>
<circle cx="300.89" cy="1439.58" r="1.05" fill="#6a5888" opacity="0.85"/>
<circle cx="294.62" cy="1533.57" r="0.66" fill="#7a6aa0" opacity="0.85"/>
<circle cx="313.07" cy="1470.79" r="0.91" fill="#7a6aa0" opacity="0.85"/>
<circle cx="293.3" cy="1462.84" r="0.87" fill="#5a5a98" opacity="0.85"/>
<circle cx="236.99" cy="1475.07" r="1.01" fill="#5a5a98" opacity="0.85"/>
<circle cx="261.51" cy="1466.77" r="0.69" fill="#8a6a80" opacity="0.85"/>
<circle cx="238.27" cy="1496.77" r="0.77" fill="#5a5a98" opacity="0.85"/>
<circle cx="230.59" cy="1484.55" r="0.91" fill="#5a5a98" opacity="0.85"/>
<circle cx="314.24" cy="1456.6" r="0.65" fill="#5a5a98" opacity="0.85"/>
</g>
<rect x="207.7" y="1437.5" width="118.1" height="117.1" fill="none" stroke="#000" stroke-width="2.2"/>
<rect x="218.7" y="1292.5" width="33" height="3" fill="#000"/>
<rect x="218.7" y="1416.4" width="33" height="3" fill="#000"/>
<rect x="218.7" y="1545.4" width="33" height="3" fill="#000"/>
<rect x="442.8" y="1387.8" width="27.3" height="158.7" fill="#a6a6a6" stroke="#000" stroke-width="1.5"/>
<rect x="484.4" y="1482.5" width="27.4" height="64" fill="#fff" stroke="#000" stroke-width="1.5"/>
<rect x="526.1" y="1301.5" width="27.4" height="245" fill="url(#chk)" stroke="#000" stroke-width="1.5"/>
<line x1="435.4" y1="1253.5" x2="435.4" y2="1546.5" stroke="#000" stroke-width="1.6"/>
<line x1="429.5" y1="1546.5" x2="559.8" y2="1546.5" stroke="#000" stroke-width="1.6"/>
<line x1="429.5" y1="1254.3" x2="435.4" y2="1254.3" stroke="#000" stroke-width="1.6"/>
<text x="428.6" y="1264.6" font-size="26.9" text-anchor="end">150</text>
<line x1="429.5" y1="1351.7" x2="435.4" y2="1351.7" stroke="#000" stroke-width="1.6"/>
<text x="428.6" y="1362" font-size="26.9" text-anchor="end">100</text>
<line x1="429.5" y1="1449.1" x2="435.4" y2="1449.1" stroke="#000" stroke-width="1.6"/>
<text x="428.6" y="1459.4" font-size="26.9" text-anchor="end">50</text>
<line x1="429.5" y1="1546.5" x2="435.4" y2="1546.5" stroke="#000" stroke-width="1.6"/>
<text x="428.6" y="1556.8" font-size="26.9" text-anchor="end">0</text>
<line x1="456.2" y1="1546.5" x2="456.2" y2="1554.9" stroke="#000" stroke-width="1.6"/>
<line x1="497.9" y1="1546.5" x2="497.9" y2="1554.9" stroke="#000" stroke-width="1.6"/>
<line x1="539.6" y1="1546.5" x2="539.6" y2="1554.9" stroke="#000" stroke-width="1.6"/>
<line x1="456.4" y1="1366.8" x2="456.4" y2="1407.6" stroke="#000" stroke-width="1.5"/>
<line x1="452.4" y1="1366.8" x2="460.4" y2="1366.8" stroke="#000" stroke-width="1.5"/>
<line x1="452.4" y1="1407.6" x2="460.4" y2="1407.6" stroke="#000" stroke-width="1.5"/>
<line x1="498.1" y1="1474.1" x2="498.1" y2="1490" stroke="#000" stroke-width="1.5"/>
<line x1="494.1" y1="1474.1" x2="502.1" y2="1474.1" stroke="#000" stroke-width="1.5"/>
<line x1="494.1" y1="1490" x2="502.1" y2="1490" stroke="#000" stroke-width="1.5"/>
<line x1="539.8" y1="1272.1" x2="539.8" y2="1331" stroke="#000" stroke-width="1.5"/>
<line x1="535.8" y1="1272.1" x2="543.8" y2="1272.1" stroke="#000" stroke-width="1.5"/>
<line x1="452.4" y1="1356.6" x2="492.4" y2="1356.6" stroke="#000" stroke-width="1.6"/>
<text x="473.05" y="1358.2" font-size="23.5" text-anchor="middle" letter-spacing="1.7">**</text>
<line x1="500.8" y1="1267.4" x2="540.8" y2="1267.4" stroke="#000" stroke-width="1.6"/>
<text x="518.55" y="1269" font-size="23.5" text-anchor="middle" letter-spacing="1.7">***</text>
<text transform="translate(372.5 1393) rotate(-90)" font-size="26.9" text-anchor="middle">No. of invaded cells</text>
<rect x="573.2" y="1251.9" width="26.5" height="23.1" fill="#a6a6a6" stroke="#000" stroke-width="1.8"/>
<rect x="573.2" y="1295.2" width="26.5" height="23.1" fill="#fff" stroke="#000" stroke-width="1.8"/>
<rect x="573.2" y="1337.3" width="26.5" height="23.1" fill="url(#chks)" stroke="#000" stroke-width="1.8"/>
<text x="611.5" y="1270.8" font-size="27.2">shControl</text>
<text x="611.5" y="1312" font-size="27.2">shPAK2_Control</text>
<text x="611.5" y="1354.1" font-size="27.2">shPAK2_Myc</text>
<text x="935.3" y="1197" font-size="38.5" font-weight="bold">i</text>
<text x="1499.2" y="1198" font-size="39.5" font-weight="bold">j</text>
<text x="1055" y="1285.2" font-size="27.35" text-anchor="end">shControl</text>
<text x="1048" y="1388.6" font-size="27.35" text-anchor="end">shPAK2_Control</text>
<text x="1055" y="1493.2" font-size="27.35" text-anchor="end">shPAK2_Myc</text>
<clipPath id="ic0"><rect x="1061.7" y="1232" width="101.1" height="100"/></clipPath>
<g clip-path="url(#ic0)">
<rect x="1061.7" y="1232" width="101.1" height="100" fill="#d4d4d4"/>
<g filter="url(#wob)">
<path d="M1091.02 1262 L1112.25 1249 L1122.36 1250 L1118.32 1264 L1112.25 1280 L1116.29 1292 L1122.36 1300 L1114.27 1304 L1102.14 1309 L1094.05 1300 L1085.96 1282 Z" fill="#505050" stroke="#505050" stroke-width="4" stroke-linejoin="round"/>
</g><g filter="url(#blur05)">
<circle cx="1148.95" cy="1235.99" r="2.24" fill="#4a4a4a"/>
<circle cx="1155.56" cy="1234.57" r="1.8" fill="#4a4a4a"/>
<circle cx="1154.35" cy="1240.04" r="1.98" fill="#555"/>
<circle cx="1151.27" cy="1244.18" r="1.8" fill="#555"/>
<circle cx="1150.52" cy="1244.33" r="2.29" fill="#404040"/>
<circle cx="1155.6" cy="1249.53" r="1.71" fill="#404040"/>
<circle cx="1152.87" cy="1242.3" r="2.3" fill="#555"/>
<circle cx="1153.57" cy="1232.31" r="1.73" fill="#555"/>
<circle cx="1151.24" cy="1251.51" r="2.03" fill="#555"/>
<circle cx="1155.18" cy="1250.95" r="1.76" fill="#404040"/>
<circle cx="1151.59" cy="1247.73" r="1.73" fill="#555"/>
<circle cx="1152.39" cy="1247.74" r="2.25" fill="#4a4a4a"/>
<circle cx="1148.49" cy="1237.23" r="1.65" fill="#606060"/>
<circle cx="1154.44" cy="1235.7" r="1.85" fill="#404040"/>
<circle cx="1150.18" cy="1242.72" r="1.8" fill="#4a4a4a"/>
<circle cx="1156.13" cy="1240.12" r="1.92" fill="#404040"/>
<circle cx="1149.61" cy="1247.67" r="1.61" fill="#4a4a4a"/>
<circle cx="1151.43" cy="1234.38" r="2.36" fill="#4a4a4a"/>
<circle cx="1152.9" cy="1232.36" r="2.35" fill="#606060"/>
<circle cx="1146.98" cy="1241.26" r="1.8" fill="#404040"/>
<circle cx="1158.12" cy="1265.43" r="2.24" fill="#606060"/>
<circle cx="1159.5" cy="1262.22" r="1.67" fill="#606060"/>
<circle cx="1151.68" cy="1259.51" r="1.72" fill="#606060"/>
<circle cx="1158.03" cy="1256.61" r="1.85" fill="#606060"/>
<circle cx="1153.15" cy="1268.39" r="2.1" fill="#606060"/>
<circle cx="1156.74" cy="1259.92" r="1.64" fill="#404040"/>
<circle cx="1158.98" cy="1261.71" r="1.88" fill="#606060"/>
<circle cx="1151.56" cy="1261.79" r="1.64" fill="#4a4a4a"/>
<circle cx="1155.64" cy="1254.52" r="1.77" fill="#555"/>
<circle cx="1151.65" cy="1253.51" r="1.69" fill="#404040"/>
<circle cx="1153.86" cy="1261.74" r="1.94" fill="#555"/>
<circle cx="1149.88" cy="1262.9" r="2.28" fill="#404040"/>
<circle cx="1158.78" cy="1257.94" r="1.85" fill="#606060"/>
<circle cx="1153.89" cy="1266.14" r="1.72" fill="#404040"/>
<circle cx="1156.32" cy="1253.44" r="1.74" fill="#404040"/>
<circle cx="1156.16" cy="1256.87" r="1.99" fill="#606060"/>
<circle cx="1158.87" cy="1263.44" r="1.88" fill="#4a4a4a"/>
<circle cx="1148.9" cy="1310.99" r="2.16" fill="#606060"/>
<circle cx="1150.5" cy="1311.79" r="2.38" fill="#606060"/>
<circle cx="1152.62" cy="1313.22" r="1.74" fill="#4a4a4a"/>
<circle cx="1142.5" cy="1314.71" r="1.86" fill="#606060"/>
<circle cx="1142.42" cy="1315.04" r="2.12" fill="#606060"/>
<circle cx="1145.37" cy="1317.28" r="2.19" fill="#404040"/>
<circle cx="1144.83" cy="1317.71" r="2.3" fill="#404040"/>
<circle cx="1155.49" cy="1313.27" r="2.01" fill="#555"/>
<circle cx="1150" cy="1316.85" r="2.28" fill="#606060"/>
<circle cx="1146.49" cy="1310.04" r="2.18" fill="#555"/>
<circle cx="1143.56" cy="1310.76" r="2.01" fill="#404040"/>
<circle cx="1146.94" cy="1317.52" r="2.29" fill="#606060"/>
<circle cx="1148.43" cy="1313.18" r="1.73" fill="#404040"/>
<circle cx="1135.6" cy="1321.91" r="2.21" fill="#555"/>
<circle cx="1136.09" cy="1322.95" r="1.98" fill="#555"/>
<circle cx="1137.96" cy="1329.71" r="1.69" fill="#555"/>
<circle cx="1134.28" cy="1324.56" r="1.93" fill="#606060"/>
<circle cx="1134.78" cy="1327.74" r="2.07" fill="#555"/>
<circle cx="1136.14" cy="1319.81" r="1.88" fill="#606060"/>
<circle cx="1138.26" cy="1318.87" r="2.15" fill="#606060"/>
<circle cx="1138.71" cy="1322.85" r="1.84" fill="#606060"/>
<circle cx="1060" cy="1315.69" r="2.06" fill="#606060"/>
<circle cx="1062.52" cy="1312.29" r="2.25" fill="#606060"/>
<circle cx="1060.52" cy="1317.64" r="1.91" fill="#404040"/>
<circle cx="1064.58" cy="1314.91" r="2.09" fill="#606060"/>
<circle cx="1062.77" cy="1311.13" r="1.91" fill="#606060"/>
<circle cx="1059.52" cy="1314.48" r="1.71" fill="#404040"/>
<circle cx="1058.99" cy="1320.4" r="1.99" fill="#404040"/>
<circle cx="1063.54" cy="1316.15" r="2.37" fill="#555"/>
<circle cx="1060.43" cy="1314.69" r="2.38" fill="#404040"/>
</g>
<circle cx="1087.08" cy="1233.97" r="0.68" fill="#555" opacity=".7"/>
<circle cx="1092.79" cy="1324.95" r="0.36" fill="#555" opacity=".7"/>
<circle cx="1064.1" cy="1298.01" r="0.68" fill="#555" opacity=".7"/>
<circle cx="1086.52" cy="1236" r="0.35" fill="#555" opacity=".7"/>
<circle cx="1101.37" cy="1280.03" r="0.52" fill="#555" opacity=".7"/>
<circle cx="1086.31" cy="1279.43" r="0.31" fill="#555" opacity=".7"/>
<circle cx="1111.25" cy="1316.39" r="0.59" fill="#555" opacity=".7"/>
<circle cx="1090.59" cy="1281.23" r="0.7" fill="#555" opacity=".7"/>
<circle cx="1114.09" cy="1318.35" r="0.65" fill="#555" opacity=".7"/>
<circle cx="1152.18" cy="1233.62" r="0.35" fill="#555" opacity=".7"/>
<circle cx="1090.25" cy="1302.8" r="0.55" fill="#555" opacity=".7"/>
<circle cx="1135.63" cy="1234.66" r="0.44" fill="#555" opacity=".7"/>
<circle cx="1130.63" cy="1313.26" r="0.35" fill="#555" opacity=".7"/>
<circle cx="1061.99" cy="1287.32" r="0.57" fill="#555" opacity=".7"/>
<circle cx="1072.58" cy="1300.74" r="0.38" fill="#555" opacity=".7"/>
<circle cx="1105.14" cy="1312.75" r="0.54" fill="#555" opacity=".7"/>
<circle cx="1131.36" cy="1327.33" r="0.56" fill="#555" opacity=".7"/>
<circle cx="1148.51" cy="1316.12" r="0.49" fill="#555" opacity=".7"/>
<circle cx="1130.68" cy="1303.96" r="0.66" fill="#555" opacity=".7"/>
<circle cx="1108.72" cy="1307.82" r="0.42" fill="#555" opacity=".7"/>
<circle cx="1062.03" cy="1309.9" r="0.53" fill="#555" opacity=".7"/>
<circle cx="1127.25" cy="1279.24" r="0.42" fill="#555" opacity=".7"/>
<circle cx="1078.43" cy="1301.52" r="0.66" fill="#555" opacity=".7"/>
<circle cx="1160.06" cy="1285.79" r="0.47" fill="#555" opacity=".7"/>
<circle cx="1116.44" cy="1236.86" r="0.59" fill="#555" opacity=".7"/>
<circle cx="1088.71" cy="1240.52" r="0.33" fill="#555" opacity=".7"/>
<circle cx="1156.95" cy="1265.31" r="0.47" fill="#555" opacity=".7"/>
<circle cx="1068.65" cy="1272.53" r="0.49" fill="#555" opacity=".7"/>
<circle cx="1074.17" cy="1244.24" r="0.55" fill="#555" opacity=".7"/>
<circle cx="1145.04" cy="1243.12" r="0.66" fill="#555" opacity=".7"/>
<circle cx="1162.2" cy="1302.58" r="0.48" fill="#555" opacity=".7"/>
<circle cx="1080.21" cy="1250.53" r="0.62" fill="#555" opacity=".7"/>
<circle cx="1068.5" cy="1253.31" r="0.52" fill="#555" opacity=".7"/>
<circle cx="1128.45" cy="1306.55" r="0.41" fill="#555" opacity=".7"/>
<circle cx="1119.44" cy="1243.84" r="0.46" fill="#555" opacity=".7"/>
<circle cx="1124.76" cy="1233" r="0.34" fill="#555" opacity=".7"/>
<circle cx="1131" cy="1280.94" r="0.44" fill="#555" opacity=".7"/>
<circle cx="1128.04" cy="1323.48" r="0.36" fill="#555" opacity=".7"/>
<circle cx="1091.5" cy="1288.86" r="0.57" fill="#555" opacity=".7"/>
<circle cx="1091.04" cy="1326.2" r="0.52" fill="#555" opacity=".7"/>
</g>
<rect x="1062.7" y="1233" width="99.1" height="98" fill="none" stroke="#000" stroke-width="2.2"/>
<clipPath id="ic1"><rect x="1061.7" y="1337.4" width="101.1" height="99.6"/></clipPath>
<g clip-path="url(#ic1)">
<rect x="1061.7" y="1337.4" width="101.1" height="99.6" fill="#cfcfcf"/>
<rect x="1061.7" y="1337.4" width="101.1" height="99.6" fill="url(#vig2)" opacity=".7"/>
<g filter="url(#wob)">
</g><g filter="url(#blur05)">
<circle cx="1078.34" cy="1357.29" r="1.79" fill="#606060"/>
<circle cx="1074.2" cy="1353.87" r="1.79" fill="#606060"/>
<circle cx="1071.84" cy="1356.49" r="1.7" fill="#4a4a4a"/>
<circle cx="1076.22" cy="1351.45" r="2.13" fill="#4a4a4a"/>
<circle cx="1082.58" cy="1347.89" r="1.96" fill="#404040"/>
<circle cx="1082.89" cy="1348.54" r="1.86" fill="#4a4a4a"/>
<circle cx="1071.82" cy="1352.39" r="2.28" fill="#404040"/>
<circle cx="1075.87" cy="1349.21" r="1.69" fill="#404040"/>
<circle cx="1079.5" cy="1350.3" r="2.1" fill="#606060"/>
<circle cx="1080.67" cy="1348.81" r="2.34" fill="#606060"/>
<circle cx="1079.65" cy="1347.29" r="2.18" fill="#606060"/>
<circle cx="1072.45" cy="1345.74" r="1.95" fill="#606060"/>
<circle cx="1070.14" cy="1353.32" r="2.06" fill="#555"/>
<circle cx="1075.38" cy="1356.6" r="1.63" fill="#555"/>
<circle cx="1080.25" cy="1362.21" r="2.35" fill="#606060"/>
<circle cx="1084.81" cy="1354.35" r="2.31" fill="#404040"/>
<circle cx="1074.82" cy="1361.61" r="1.75" fill="#555"/>
<circle cx="1086.37" cy="1359.15" r="2.3" fill="#404040"/>
<circle cx="1080.82" cy="1359.25" r="1.82" fill="#555"/>
<circle cx="1077.89" cy="1344.53" r="1.63" fill="#4a4a4a"/>
<circle cx="1072.98" cy="1362.93" r="1.85" fill="#4a4a4a"/>
<circle cx="1074.71" cy="1345.26" r="1.98" fill="#555"/>
<circle cx="1083.98" cy="1360.93" r="1.83" fill="#555"/>
<circle cx="1077.35" cy="1349.54" r="1.76" fill="#4a4a4a"/>
<circle cx="1070.57" cy="1349.95" r="2.09" fill="#606060"/>
<circle cx="1076.04" cy="1349.68" r="1.89" fill="#4a4a4a"/>
<circle cx="1076.93" cy="1344.27" r="1.73" fill="#555"/>
<circle cx="1079.96" cy="1359.21" r="1.64" fill="#404040"/>
<circle cx="1077.1" cy="1348.18" r="1.97" fill="#404040"/>
<circle cx="1079.06" cy="1346.81" r="1.64" fill="#606060"/>
<circle cx="1085.82" cy="1350.58" r="1.79" fill="#404040"/>
<circle cx="1083.69" cy="1358.81" r="2.15" fill="#4a4a4a"/>
<circle cx="1068.94" cy="1354.5" r="1.64" fill="#404040"/>
<circle cx="1070.25" cy="1357.52" r="2.3" fill="#555"/>
<circle cx="1080.97" cy="1362.03" r="1.92" fill="#555"/>
<circle cx="1082.76" cy="1357.72" r="1.69" fill="#555"/>
<circle cx="1070.25" cy="1347.93" r="1.77" fill="#4a4a4a"/>
<circle cx="1072.24" cy="1356.91" r="1.94" fill="#404040"/>
<circle cx="1074.23" cy="1353.72" r="1.61" fill="#606060"/>
<circle cx="1073.34" cy="1376.74" r="2.4" fill="#4a4a4a"/>
<circle cx="1079.02" cy="1393.56" r="2.22" fill="#606060"/>
<circle cx="1077.53" cy="1381.14" r="1.7" fill="#4a4a4a"/>
<circle cx="1070.04" cy="1388.97" r="2.24" fill="#555"/>
<circle cx="1075.05" cy="1395.48" r="1.8" fill="#555"/>
<circle cx="1077.76" cy="1376.44" r="2.31" fill="#4a4a4a"/>
<circle cx="1072.37" cy="1390.41" r="2.2" fill="#4a4a4a"/>
<circle cx="1080.4" cy="1381.33" r="2.21" fill="#4a4a4a"/>
<circle cx="1069.88" cy="1391.04" r="2.12" fill="#4a4a4a"/>
<circle cx="1075.04" cy="1377.29" r="1.81" fill="#404040"/>
<circle cx="1072.14" cy="1384.63" r="1.85" fill="#555"/>
<circle cx="1075.39" cy="1397" r="1.83" fill="#4a4a4a"/>
<circle cx="1069.98" cy="1384.5" r="1.62" fill="#4a4a4a"/>
<circle cx="1078.28" cy="1388.55" r="1.89" fill="#606060"/>
<circle cx="1081.11" cy="1384.27" r="1.78" fill="#404040"/>
<circle cx="1078.09" cy="1391" r="1.89" fill="#555"/>
<circle cx="1070.3" cy="1381.7" r="2.18" fill="#4a4a4a"/>
<circle cx="1075.23" cy="1396.44" r="2.1" fill="#555"/>
<circle cx="1069.39" cy="1391.04" r="2.24" fill="#4a4a4a"/>
<circle cx="1073.49" cy="1394.11" r="1.78" fill="#404040"/>
<circle cx="1076.59" cy="1389.52" r="2.13" fill="#555"/>
<circle cx="1069.03" cy="1384.81" r="2.08" fill="#4a4a4a"/>
<circle cx="1080.41" cy="1395.09" r="2.15" fill="#555"/>
<circle cx="1077.12" cy="1386.9" r="2.06" fill="#404040"/>
<circle cx="1074.68" cy="1380.37" r="1.97" fill="#555"/>
<circle cx="1075.32" cy="1392.48" r="2.05" fill="#606060"/>
<circle cx="1076.43" cy="1376.65" r="1.89" fill="#555"/>
<circle cx="1078.12" cy="1378.25" r="2.33" fill="#4a4a4a"/>
<circle cx="1070.6" cy="1412.39" r="1.71" fill="#555"/>
<circle cx="1073.08" cy="1417.21" r="1.74" fill="#4a4a4a"/>
<circle cx="1074.95" cy="1411.27" r="2.34" fill="#606060"/>
<circle cx="1068.67" cy="1418.16" r="2.03" fill="#4a4a4a"/>
<circle cx="1076.58" cy="1410.69" r="1.61" fill="#555"/>
<circle cx="1075.37" cy="1415.57" r="2.14" fill="#606060"/>
<circle cx="1068.42" cy="1416.42" r="2.04" fill="#404040"/>
<circle cx="1067.17" cy="1420.1" r="2.06" fill="#4a4a4a"/>
<circle cx="1066.93" cy="1414.84" r="1.89" fill="#4a4a4a"/>
<circle cx="1072.02" cy="1409.93" r="1.83" fill="#4a4a4a"/>
<circle cx="1082.73" cy="1418.73" r="2.09" fill="#404040"/>
<circle cx="1071.78" cy="1426.98" r="1.82" fill="#555"/>
<circle cx="1081.95" cy="1421.24" r="2.14" fill="#606060"/>
<circle cx="1080.87" cy="1411.61" r="2.27" fill="#555"/>
<circle cx="1072.1" cy="1417.43" r="1.7" fill="#606060"/>
<circle cx="1081.47" cy="1415.8" r="1.91" fill="#4a4a4a"/>
<circle cx="1072.18" cy="1411.15" r="2.2" fill="#555"/>
<circle cx="1080.86" cy="1412.49" r="1.91" fill="#4a4a4a"/>
<circle cx="1079.58" cy="1408.47" r="2.15" fill="#606060"/>
<circle cx="1074.86" cy="1420.55" r="1.84" fill="#606060"/>
<circle cx="1075.58" cy="1414.15" r="2.36" fill="#4a4a4a"/>
<circle cx="1069.49" cy="1409.97" r="1.78" fill="#4a4a4a"/>
<circle cx="1068.32" cy="1413.39" r="2.11" fill="#404040"/>
<circle cx="1069.7" cy="1420.65" r="2.02" fill="#555"/>
<circle cx="1073.29" cy="1422.57" r="2.08" fill="#606060"/>
<circle cx="1075.45" cy="1418.85" r="1.69" fill="#555"/>
<circle cx="1070.09" cy="1419.61" r="1.68" fill="#606060"/>
<circle cx="1074.55" cy="1414.39" r="1.99" fill="#4a4a4a"/>
<circle cx="1071.35" cy="1426.26" r="2.12" fill="#555"/>
<circle cx="1080.44" cy="1411.75" r="2.24" fill="#4a4a4a"/>
<circle cx="1082.3" cy="1417.17" r="1.69" fill="#606060"/>
<circle cx="1078.97" cy="1424.1" r="1.68" fill="#404040"/>
<circle cx="1074.13" cy="1407.22" r="2.24" fill="#4a4a4a"/>
<circle cx="1102.57" cy="1373.34" r="1.76" fill="#606060"/>
<circle cx="1103.91" cy="1371.59" r="2.14" fill="#4a4a4a"/>
<circle cx="1109.5" cy="1375.97" r="1.97" fill="#4a4a4a"/>
<circle cx="1115.57" cy="1371.94" r="1.9" fill="#4a4a4a"/>
<circle cx="1098.31" cy="1367.53" r="2.36" fill="#4a4a4a"/>
<circle cx="1098.47" cy="1367.79" r="2.17" fill="#4a4a4a"/>
<circle cx="1114.93" cy="1371.44" r="1.88" fill="#555"/>
<circle cx="1115.21" cy="1364.56" r="1.83" fill="#404040"/>
<circle cx="1103.13" cy="1361.16" r="1.67" fill="#4a4a4a"/>
<circle cx="1107.38" cy="1372.27" r="2.28" fill="#404040"/>
<circle cx="1116.07" cy="1369.09" r="1.79" fill="#4a4a4a"/>
<circle cx="1115.88" cy="1374.27" r="2.04" fill="#404040"/>
<circle cx="1117.36" cy="1366.64" r="1.91" fill="#555"/>
<circle cx="1114.78" cy="1370.2" r="2.25" fill="#4a4a4a"/>
<circle cx="1110.95" cy="1364.22" r="2.25" fill="#4a4a4a"/>
<circle cx="1109.18" cy="1373.35" r="1.91" fill="#4a4a4a"/>
<circle cx="1114.13" cy="1368.65" r="2.38" fill="#404040"/>
<circle cx="1117.21" cy="1367.77" r="2.36" fill="#404040"/>
<circle cx="1106.66" cy="1367.18" r="1.91" fill="#404040"/>
<circle cx="1116.1" cy="1360.59" r="2.13" fill="#4a4a4a"/>
<circle cx="1110.77" cy="1372.97" r="2.18" fill="#404040"/>
<circle cx="1115.11" cy="1364.48" r="2.4" fill="#555"/>
<circle cx="1112.55" cy="1365.11" r="2.22" fill="#404040"/>
<circle cx="1110.77" cy="1365.14" r="1.9" fill="#404040"/>
<circle cx="1104.12" cy="1369.49" r="1.98" fill="#606060"/>
<circle cx="1118.07" cy="1367.39" r="2.22" fill="#404040"/>
<circle cx="1117.38" cy="1370.73" r="1.63" fill="#404040"/>
<circle cx="1112.92" cy="1364.66" r="1.61" fill="#404040"/>
<circle cx="1117.56" cy="1365.59" r="1.71" fill="#555"/>
<circle cx="1115.16" cy="1369.81" r="2.1" fill="#4a4a4a"/>
<circle cx="1112.12" cy="1372.67" r="1.81" fill="#606060"/>
<circle cx="1106.62" cy="1370.87" r="1.84" fill="#4a4a4a"/>
<circle cx="1108.46" cy="1370.13" r="1.92" fill="#606060"/>
<circle cx="1103.34" cy="1391.25" r="2.07" fill="#555"/>
<circle cx="1108.4" cy="1386.55" r="1.61" fill="#4a4a4a"/>
<circle cx="1105.93" cy="1384.31" r="1.98" fill="#4a4a4a"/>
<circle cx="1111.5" cy="1387.56" r="1.94" fill="#555"/>
<circle cx="1106.57" cy="1385.38" r="2" fill="#4a4a4a"/>
<circle cx="1104.16" cy="1380.2" r="2.22" fill="#606060"/>
<circle cx="1104.38" cy="1388.15" r="1.7" fill="#606060"/>
<circle cx="1103.29" cy="1385.45" r="2.07" fill="#404040"/>
<circle cx="1109.51" cy="1386.87" r="1.73" fill="#4a4a4a"/>
<circle cx="1105.31" cy="1385.72" r="1.77" fill="#404040"/>
<circle cx="1109.72" cy="1390.51" r="2.25" fill="#606060"/>
<circle cx="1107.27" cy="1384.6" r="1.88" fill="#404040"/>
<circle cx="1110.74" cy="1387.34" r="2.05" fill="#4a4a4a"/>
<circle cx="1107.86" cy="1388.07" r="1.87" fill="#555"/>
<circle cx="1103.69" cy="1390.51" r="2.25" fill="#404040"/>
<circle cx="1107.28" cy="1380.49" r="1.81" fill="#4a4a4a"/>
<circle cx="1103.52" cy="1383.67" r="2.1" fill="#555"/>
<circle cx="1102.78" cy="1407.77" r="2.3" fill="#555"/>
<circle cx="1100.37" cy="1410.92" r="2.32" fill="#606060"/>
<circle cx="1103.61" cy="1414.72" r="1.63" fill="#404040"/>
<circle cx="1101.92" cy="1407.96" r="1.62" fill="#404040"/>
<circle cx="1107.97" cy="1420.78" r="2.09" fill="#555"/>
<circle cx="1099.23" cy="1413.2" r="2.16" fill="#4a4a4a"/>
<circle cx="1109.11" cy="1417.31" r="1.84" fill="#4a4a4a"/>
<circle cx="1108.98" cy="1412.87" r="1.82" fill="#404040"/>
<circle cx="1104.25" cy="1410.02" r="1.84" fill="#4a4a4a"/>
<circle cx="1106.66" cy="1411.18" r="2.13" fill="#404040"/>
<circle cx="1101.83" cy="1415.93" r="1.77" fill="#606060"/>
<circle cx="1102.29" cy="1422.24" r="1.97" fill="#555"/>
<circle cx="1103.14" cy="1417.33" r="1.94" fill="#404040"/>
<circle cx="1105.19" cy="1418.39" r="1.99" fill="#404040"/>
<circle cx="1107.43" cy="1412.78" r="1.61" fill="#404040"/>
<circle cx="1103.69" cy="1422.04" r="2.03" fill="#555"/>
<circle cx="1099.52" cy="1412.33" r="1.94" fill="#606060"/>
<circle cx="1105.85" cy="1410.46" r="1.69" fill="#606060"/>
<circle cx="1099.18" cy="1419.23" r="2.01" fill="#404040"/>
<circle cx="1100.82" cy="1409.3" r="2.36" fill="#4a4a4a"/>
<circle cx="1114.66" cy="1406.04" r="1.68" fill="#606060"/>
<circle cx="1117.44" cy="1402.81" r="1.64" fill="#404040"/>
<circle cx="1116.66" cy="1414.2" r="2.21" fill="#4a4a4a"/>
<circle cx="1112.85" cy="1412.22" r="1.68" fill="#4a4a4a"/>
<circle cx="1114.51" cy="1414.69" r="2.4" fill="#404040"/>
<circle cx="1117.85" cy="1411.21" r="1.74" fill="#4a4a4a"/>
<circle cx="1116.49" cy="1399.99" r="2.01" fill="#4a4a4a"/>
<circle cx="1113.97" cy="1409.75" r="1.94" fill="#606060"/>
<circle cx="1112.86" cy="1402.41" r="1.86" fill="#606060"/>
<circle cx="1118.54" cy="1406.85" r="1.68" fill="#555"/>
<circle cx="1118.07" cy="1413.93" r="1.67" fill="#404040"/>
<circle cx="1112.85" cy="1411.1" r="2.04" fill="#404040"/>
<circle cx="1119.89" cy="1411.39" r="2.39" fill="#555"/>
<circle cx="1112.32" cy="1414.48" r="2.33" fill="#606060"/>
<circle cx="1118.42" cy="1403.42" r="1.66" fill="#606060"/>
<circle cx="1119.91" cy="1412.3" r="1.97" fill="#404040"/>
<circle cx="1111.01" cy="1406.21" r="2.11" fill="#606060"/>
<circle cx="1145.14" cy="1365.19" r="1.8" fill="#404040"/>
<circle cx="1141.01" cy="1362.65" r="1.68" fill="#555"/>
<circle cx="1139.02" cy="1361.12" r="2.22" fill="#404040"/>
<circle cx="1149.58" cy="1359.27" r="1.73" fill="#4a4a4a"/>
<circle cx="1145.84" cy="1355.84" r="1.97" fill="#555"/>
<circle cx="1148.42" cy="1354.73" r="1.84" fill="#606060"/>
<circle cx="1141.93" cy="1355.12" r="2.03" fill="#4a4a4a"/>
<circle cx="1146.96" cy="1360.35" r="2.06" fill="#404040"/>
<circle cx="1142.99" cy="1355.57" r="2.3" fill="#606060"/>
<circle cx="1145.09" cy="1358.28" r="1.83" fill="#404040"/>
<circle cx="1145.27" cy="1363.39" r="2.22" fill="#606060"/>
<circle cx="1142.67" cy="1354.29" r="2.18" fill="#4a4a4a"/>
<circle cx="1143.4" cy="1359.53" r="2.37" fill="#404040"/>
<circle cx="1143.85" cy="1355.47" r="2.27" fill="#404040"/>
<circle cx="1142.92" cy="1364.35" r="2" fill="#4a4a4a"/>
<circle cx="1149.69" cy="1363.44" r="1.6" fill="#404040"/>
<circle cx="1147.62" cy="1352.99" r="1.63" fill="#4a4a4a"/>
<circle cx="1143.85" cy="1359.64" r="1.76" fill="#555"/>
<circle cx="1149" cy="1356.59" r="2.26" fill="#4a4a4a"/>
<circle cx="1136.7" cy="1404.57" r="1.78" fill="#606060"/>
<circle cx="1144.78" cy="1394.12" r="1.79" fill="#4a4a4a"/>
<circle cx="1141.33" cy="1387.27" r="1.95" fill="#606060"/>
<circle cx="1141.99" cy="1401.37" r="2.05" fill="#404040"/>
<circle cx="1143.05" cy="1385.55" r="2.31" fill="#4a4a4a"/>
<circle cx="1142.73" cy="1399.82" r="1.61" fill="#555"/>
<circle cx="1145.87" cy="1403.01" r="1.95" fill="#404040"/>
<circle cx="1135.79" cy="1398.64" r="1.62" fill="#404040"/>
<circle cx="1144.79" cy="1387.75" r="2.17" fill="#555"/>
<circle cx="1149.11" cy="1398.83" r="2.39" fill="#555"/>
<circle cx="1148.19" cy="1394.86" r="1.76" fill="#606060"/>
<circle cx="1144.12" cy="1393.4" r="1.92" fill="#4a4a4a"/>
<circle cx="1137.58" cy="1400.47" r="2.18" fill="#404040"/>
<circle cx="1136.05" cy="1404.88" r="1.69" fill="#404040"/>
<circle cx="1140.16" cy="1391.13" r="1.92" fill="#404040"/>
<circle cx="1146.34" cy="1408.08" r="1.82" fill="#555"/>
<circle cx="1138.96" cy="1385.04" r="2.15" fill="#4a4a4a"/>
<circle cx="1146.9" cy="1387.47" r="2.23" fill="#404040"/>
<circle cx="1145.01" cy="1385.34" r="2.05" fill="#404040"/>
<circle cx="1141.17" cy="1390.92" r="2.07" fill="#4a4a4a"/>
<circle cx="1143.67" cy="1406.68" r="2.27" fill="#606060"/>
<circle cx="1137.01" cy="1388.44" r="1.95" fill="#555"/>
<circle cx="1139.16" cy="1392.89" r="2.04" fill="#404040"/>
<circle cx="1148.17" cy="1393.31" r="2.16" fill="#404040"/>
<circle cx="1148.7" cy="1393.82" r="1.86" fill="#4a4a4a"/>
<circle cx="1136.68" cy="1397.81" r="2.39" fill="#606060"/>
<circle cx="1141.81" cy="1387.53" r="2.24" fill="#404040"/>
<circle cx="1145.07" cy="1391.91" r="2.38" fill="#404040"/>
<circle cx="1144.09" cy="1405.16" r="1.95" fill="#4a4a4a"/>
<circle cx="1142.13" cy="1404.67" r="2.25" fill="#4a4a4a"/>
<circle cx="1142.5" cy="1387.59" r="1.67" fill="#606060"/>
<circle cx="1147.3" cy="1403.81" r="1.93" fill="#606060"/>
<circle cx="1137.38" cy="1407.04" r="1.63" fill="#4a4a4a"/>
<circle cx="1148.41" cy="1391.33" r="2.21" fill="#4a4a4a"/>
<circle cx="1147.17" cy="1399.69" r="1.98" fill="#404040"/>
<circle cx="1139.82" cy="1405.73" r="2.09" fill="#4a4a4a"/>
<circle cx="1147.28" cy="1395.28" r="2.3" fill="#4a4a4a"/>
<circle cx="1077.97" cy="1371.68" r="1.9" fill="#404040"/>
<circle cx="1080.85" cy="1373.59" r="2.36" fill="#4a4a4a"/>
<circle cx="1082.65" cy="1371.99" r="1.88" fill="#4a4a4a"/>
<circle cx="1077.66" cy="1372.56" r="2.29" fill="#606060"/>
<circle cx="1082.76" cy="1373.12" r="2.16" fill="#4a4a4a"/>
<circle cx="1075.73" cy="1370.15" r="1.85" fill="#404040"/>
<circle cx="1080.14" cy="1369.72" r="1.88" fill="#4a4a4a"/>
<circle cx="1096.14" cy="1385.34" r="1.96" fill="#555"/>
<circle cx="1093.86" cy="1385.94" r="1.94" fill="#555"/>
<circle cx="1096.39" cy="1387.86" r="1.63" fill="#606060"/>
<circle cx="1092.91" cy="1388.58" r="1.69" fill="#4a4a4a"/>
<circle cx="1155.1" cy="1393.32" r="1.63" fill="#4a4a4a"/>
<circle cx="1155.3" cy="1390.4" r="1.64" fill="#4a4a4a"/>
<circle cx="1156.43" cy="1394.25" r="1.95" fill="#555"/>
<circle cx="1158.07" cy="1392.75" r="1.73" fill="#606060"/>
<circle cx="1113.33" cy="1340.69" r="2.05" fill="#404040"/>
<circle cx="1119.04" cy="1338.75" r="2.28" fill="#555"/>
<circle cx="1114.63" cy="1344.36" r="2.28" fill="#4a4a4a"/>
<circle cx="1120.22" cy="1343.8" r="1.9" fill="#606060"/>
<circle cx="1120.98" cy="1340.03" r="1.91" fill="#404040"/>
<circle cx="1118.76" cy="1341.36" r="2.2" fill="#404040"/>
<circle cx="1116.23" cy="1342.71" r="2.39" fill="#4a4a4a"/>
</g>
<circle cx="1155.91" cy="1377.44" r="0.4" fill="#555" opacity=".7"/>
<circle cx="1124.33" cy="1380.96" r="0.55" fill="#555" opacity=".7"/>
<circle cx="1107.65" cy="1365.92" r="0.31" fill="#555" opacity=".7"/>
<circle cx="1144.43" cy="1403.04" r="0.4" fill="#555" opacity=".7"/>
<circle cx="1112.18" cy="1395.26" r="0.5" fill="#555" opacity=".7"/>
<circle cx="1152.78" cy="1414.95" r="0.42" fill="#555" opacity=".7"/>
<circle cx="1095.95" cy="1398.33" r="0.36" fill="#555" opacity=".7"/>
<circle cx="1156.14" cy="1341.92" r="0.5" fill="#555" opacity=".7"/>
<circle cx="1089.34" cy="1389.8" r="0.32" fill="#555" opacity=".7"/>
<circle cx="1084.37" cy="1435.91" r="0.62" fill="#555" opacity=".7"/>
<circle cx="1084.05" cy="1382.82" r="0.31" fill="#555" opacity=".7"/>
<circle cx="1074.04" cy="1356.51" r="0.69" fill="#555" opacity=".7"/>
<circle cx="1093.22" cy="1362.07" r="0.33" fill="#555" opacity=".7"/>
<circle cx="1072.81" cy="1436.54" r="0.6" fill="#555" opacity=".7"/>
<circle cx="1154.75" cy="1420.63" r="0.61" fill="#555" opacity=".7"/>
<circle cx="1087.48" cy="1354.24" r="0.41" fill="#555" opacity=".7"/>
<circle cx="1068.31" cy="1354.87" r="0.59" fill="#555" opacity=".7"/>
<circle cx="1111.34" cy="1338.44" r="0.42" fill="#555" opacity=".7"/>
<circle cx="1147.59" cy="1422.15" r="0.59" fill="#555" opacity=".7"/>
<circle cx="1135.65" cy="1428.21" r="0.52" fill="#555" opacity=".7"/>
<circle cx="1100.45" cy="1394.49" r="0.41" fill="#555" opacity=".7"/>
<circle cx="1065.39" cy="1363.29" r="0.48" fill="#555" opacity=".7"/>
<circle cx="1073.85" cy="1345.43" r="0.4" fill="#555" opacity=".7"/>
<circle cx="1098.92" cy="1432.73" r="0.49" fill="#555" opacity=".7"/>
<circle cx="1146.32" cy="1411.54" r="0.54" fill="#555" opacity=".7"/>
<circle cx="1094.28" cy="1376.51" r="0.43" fill="#555" opacity=".7"/>
<circle cx="1125.83" cy="1422.56" r="0.62" fill="#555" opacity=".7"/>
<circle cx="1091.55" cy="1352.29" r="0.3" fill="#555" opacity=".7"/>
<circle cx="1120.8" cy="1360.12" r="0.3" fill="#555" opacity=".7"/>
<circle cx="1092.24" cy="1360.15" r="0.38" fill="#555" opacity=".7"/>
<circle cx="1128.87" cy="1395.6" r="0.41" fill="#555" opacity=".7"/>
<circle cx="1135.57" cy="1357.96" r="0.67" fill="#555" opacity=".7"/>
<circle cx="1073.72" cy="1396.36" r="0.58" fill="#555" opacity=".7"/>
<circle cx="1135.75" cy="1385.92" r="0.65" fill="#555" opacity=".7"/>
<circle cx="1125.31" cy="1406.21" r="0.33" fill="#555" opacity=".7"/>
<circle cx="1080.58" cy="1383.79" r="0.52" fill="#555" opacity=".7"/>
<circle cx="1071.32" cy="1411.27" r="0.44" fill="#555" opacity=".7"/>
<circle cx="1109.74" cy="1389.39" r="0.64" fill="#555" opacity=".7"/>
<circle cx="1092.24" cy="1393.15" r="0.54" fill="#555" opacity=".7"/>
<circle cx="1127.96" cy="1368.5" r="0.41" fill="#555" opacity=".7"/>
<circle cx="1109.26" cy="1397.26" r="0.56" fill="#555" opacity=".7"/>
<circle cx="1075.23" cy="1381.84" r="0.52" fill="#555" opacity=".7"/>
<circle cx="1081.39" cy="1347.58" r="0.67" fill="#555" opacity=".7"/>
<circle cx="1063.8" cy="1387.07" r="0.42" fill="#555" opacity=".7"/>
<circle cx="1064.84" cy="1364.28" r="0.36" fill="#555" opacity=".7"/>
<circle cx="1102.16" cy="1428.02" r="0.33" fill="#555" opacity=".7"/>
<circle cx="1097.25" cy="1406.62" r="0.55" fill="#555" opacity=".7"/>
<circle cx="1063.81" cy="1360.19" r="0.41" fill="#555" opacity=".7"/>
<circle cx="1152.18" cy="1381.43" r="0.4" fill="#555" opacity=".7"/>
<circle cx="1110.25" cy="1385.72" r="0.36" fill="#555" opacity=".7"/>
<circle cx="1129.14" cy="1409.2" r="0.49" fill="#555" opacity=".7"/>
<circle cx="1116.03" cy="1414.15" r="0.68" fill="#555" opacity=".7"/>
<circle cx="1123.65" cy="1341.81" r="0.5" fill="#555" opacity=".7"/>
<circle cx="1128.65" cy="1370.36" r="0.57" fill="#555" opacity=".7"/>
<circle cx="1098.88" cy="1398.8" r="0.55" fill="#555" opacity=".7"/>
<circle cx="1129.44" cy="1429.58" r="0.58" fill="#555" opacity=".7"/>
<circle cx="1133.42" cy="1407.54" r="0.39" fill="#555" opacity=".7"/>
<circle cx="1123.79" cy="1399.2" r="0.32" fill="#555" opacity=".7"/>
<circle cx="1137.96" cy="1359.99" r="0.5" fill="#555" opacity=".7"/>
<circle cx="1114.65" cy="1409.33" r="0.61" fill="#555" opacity=".7"/>
</g>
<rect x="1062.7" y="1338.4" width="99.1" height="97.6" fill="none" stroke="#000" stroke-width="2.2"/>
<clipPath id="ic2"><rect x="1061.7" y="1442.2" width="101.1" height="100.6"/></clipPath>
<g clip-path="url(#ic2)">
<rect x="1061.7" y="1442.2" width="101.1" height="100.6" fill="#e0e0e0"/>
<g filter="url(#wob)">
<path d="M1092.03 1462.32 L1104.16 1464.33 L1114.27 1466.34 L1118.32 1457.29 L1128.43 1455.28 L1140.56 1459.3 L1146.62 1470.37 L1150.67 1484.45 L1155.72 1494.51 L1150.67 1500.55 L1130.45 1502.56 L1122.36 1494.51 L1116.29 1482.44 L1104.16 1482.44 L1096.07 1476.4 Z" fill="#505050" stroke="#505050" stroke-width="4" stroke-linejoin="round"/>
<path d="M1092.03 1508.6 L1102.14 1506.58 L1108.21 1516.64 L1106.18 1530.73 L1096.07 1534.75 L1089 1526.7 L1086.97 1516.64 Z" fill="#505050" stroke="#505050" stroke-width="4" stroke-linejoin="round"/>
</g><g filter="url(#blur05)">
<circle cx="1059.22" cy="1463.02" r="1.95" fill="#555"/>
<circle cx="1076.11" cy="1459.88" r="2.17" fill="#555"/>
<circle cx="1078.24" cy="1466.59" r="2.12" fill="#4a4a4a"/>
<circle cx="1072.5" cy="1456.15" r="1.99" fill="#555"/>
<circle cx="1079.41" cy="1457.05" r="2.26" fill="#4a4a4a"/>
<circle cx="1073.83" cy="1452.48" r="1.75" fill="#4a4a4a"/>
<circle cx="1070.03" cy="1452.18" r="2.22" fill="#606060"/>
<circle cx="1067.34" cy="1446.78" r="1.99" fill="#404040"/>
<circle cx="1075.84" cy="1449.42" r="1.86" fill="#606060"/>
<circle cx="1080.83" cy="1461.09" r="1.76" fill="#606060"/>
<circle cx="1068.75" cy="1467.89" r="2.25" fill="#555"/>
<circle cx="1067.1" cy="1461.57" r="2" fill="#404040"/>
<circle cx="1070.54" cy="1469.32" r="1.77" fill="#404040"/>
<circle cx="1073.63" cy="1460.31" r="1.72" fill="#606060"/>
<circle cx="1068.55" cy="1466.95" r="2.33" fill="#555"/>
<circle cx="1073.38" cy="1460.11" r="2.05" fill="#606060"/>
<circle cx="1075.74" cy="1467.17" r="1.82" fill="#555"/>
<circle cx="1064.65" cy="1448.94" r="1.68" fill="#606060"/>
<circle cx="1070.61" cy="1449.98" r="2.3" fill="#606060"/>
<circle cx="1067.6" cy="1465.68" r="1.94" fill="#404040"/>
<circle cx="1067" cy="1463.5" r="2.27" fill="#404040"/>
<circle cx="1068.99" cy="1447.66" r="1.61" fill="#606060"/>
<circle cx="1065.94" cy="1458.37" r="2.18" fill="#555"/>
<circle cx="1062.66" cy="1470.77" r="2.29" fill="#606060"/>
<circle cx="1076.09" cy="1464.88" r="2.02" fill="#404040"/>
<circle cx="1060.31" cy="1461.83" r="2.39" fill="#4a4a4a"/>
<circle cx="1066.31" cy="1471.92" r="1.8" fill="#404040"/>
<circle cx="1076.34" cy="1467.15" r="2.11" fill="#404040"/>
<circle cx="1060.76" cy="1458.6" r="2.14" fill="#606060"/>
<circle cx="1072.58" cy="1471.64" r="1.62" fill="#404040"/>
<circle cx="1060.47" cy="1467.45" r="1.97" fill="#555"/>
<circle cx="1078.25" cy="1452.25" r="1.81" fill="#555"/>
<circle cx="1074.42" cy="1452.48" r="1.65" fill="#4a4a4a"/>
<circle cx="1061.58" cy="1451.16" r="2.04" fill="#404040"/>
<circle cx="1079.84" cy="1464.09" r="2.35" fill="#555"/>
<circle cx="1076.68" cy="1463.17" r="2.27" fill="#555"/>
<circle cx="1071.16" cy="1466.9" r="1.65" fill="#404040"/>
<circle cx="1072.89" cy="1468.85" r="2.32" fill="#404040"/>
<circle cx="1060.53" cy="1454.49" r="1.96" fill="#555"/>
<circle cx="1074.91" cy="1452.99" r="2.31" fill="#606060"/>
<circle cx="1076.59" cy="1464.49" r="2.13" fill="#606060"/>
<circle cx="1075.38" cy="1448.68" r="2.18" fill="#4a4a4a"/>
<circle cx="1060.8" cy="1459.2" r="1.9" fill="#606060"/>
<circle cx="1068.86" cy="1457.78" r="1.88" fill="#606060"/>
<circle cx="1072.06" cy="1447.65" r="1.9" fill="#404040"/>
<circle cx="1065.78" cy="1465.53" r="1.93" fill="#555"/>
<circle cx="1061.87" cy="1453.33" r="2.35" fill="#4a4a4a"/>
<circle cx="1068.51" cy="1462.8" r="2.22" fill="#404040"/>
<circle cx="1069.95" cy="1449.27" r="1.98" fill="#4a4a4a"/>
<circle cx="1065.38" cy="1463.02" r="1.78" fill="#4a4a4a"/>
<circle cx="1079.36" cy="1450.81" r="1.85" fill="#555"/>
<circle cx="1080.93" cy="1455.42" r="1.82" fill="#606060"/>
<circle cx="1080.61" cy="1452.38" r="2.31" fill="#4a4a4a"/>
<circle cx="1084.16" cy="1448.81" r="1.67" fill="#404040"/>
<circle cx="1081.16" cy="1454.82" r="1.84" fill="#606060"/>
<circle cx="1078.29" cy="1452.18" r="2.14" fill="#404040"/>
<circle cx="1085.58" cy="1455.84" r="2.39" fill="#606060"/>
<circle cx="1089.72" cy="1450.25" r="2.07" fill="#555"/>
<circle cx="1089.47" cy="1455.5" r="2.01" fill="#606060"/>
<circle cx="1081.72" cy="1447.23" r="2.28" fill="#606060"/>
<circle cx="1090.22" cy="1450.5" r="2.31" fill="#4a4a4a"/>
<circle cx="1082.79" cy="1449.57" r="2.39" fill="#555"/>
<circle cx="1081.03" cy="1446.68" r="1.85" fill="#555"/>
<circle cx="1078.69" cy="1449.02" r="1.71" fill="#404040"/>
<circle cx="1082.47" cy="1456.88" r="2.19" fill="#606060"/>
<circle cx="1083.03" cy="1448.94" r="1.63" fill="#606060"/>
<circle cx="1080.89" cy="1448.8" r="2.05" fill="#555"/>
<circle cx="1068.63" cy="1495.82" r="1.69" fill="#4a4a4a"/>
<circle cx="1063.08" cy="1485.56" r="2.1" fill="#606060"/>
<circle cx="1073.75" cy="1491.8" r="1.94" fill="#404040"/>
<circle cx="1065.55" cy="1488.42" r="2.13" fill="#606060"/>
<circle cx="1073.74" cy="1500.71" r="2.02" fill="#555"/>
<circle cx="1064.21" cy="1487.66" r="1.69" fill="#555"/>
<circle cx="1070.28" cy="1490.73" r="1.83" fill="#555"/>
<circle cx="1069.16" cy="1485.02" r="1.71" fill="#4a4a4a"/>
<circle cx="1070.02" cy="1502.14" r="2.16" fill="#606060"/>
<circle cx="1068.75" cy="1488.69" r="2.02" fill="#555"/>
<circle cx="1062.81" cy="1486.18" r="1.78" fill="#404040"/>
<circle cx="1063.79" cy="1492.29" r="1.69" fill="#555"/>
<circle cx="1063.51" cy="1489.68" r="2.33" fill="#404040"/>
<circle cx="1071.4" cy="1493.01" r="2.29" fill="#606060"/>
<circle cx="1069.64" cy="1494.14" r="2.2" fill="#404040"/>
<circle cx="1070.82" cy="1498.84" r="2.15" fill="#404040"/>
<circle cx="1062.39" cy="1493.17" r="1.86" fill="#606060"/>
<circle cx="1062" cy="1494.27" r="2.37" fill="#4a4a4a"/>
<circle cx="1069.66" cy="1491.25" r="2.03" fill="#4a4a4a"/>
<circle cx="1071" cy="1502.66" r="2.03" fill="#555"/>
<circle cx="1066.05" cy="1501.18" r="2.11" fill="#4a4a4a"/>
<circle cx="1066.43" cy="1498.88" r="1.7" fill="#4a4a4a"/>
<circle cx="1074.67" cy="1497.26" r="1.72" fill="#555"/>
<circle cx="1074.06" cy="1485.22" r="1.95" fill="#606060"/>
<circle cx="1064.73" cy="1498.8" r="1.75" fill="#555"/>
<circle cx="1073.75" cy="1497.45" r="2.38" fill="#606060"/>
<circle cx="1068.18" cy="1502.77" r="2.32" fill="#404040"/>
<circle cx="1069.81" cy="1501.76" r="2.37" fill="#555"/>
<circle cx="1081.22" cy="1482.74" r="1.76" fill="#4a4a4a"/>
<circle cx="1075.88" cy="1477.65" r="2" fill="#404040"/>
<circle cx="1081.26" cy="1484.45" r="2.14" fill="#606060"/>
<circle cx="1079.97" cy="1487.25" r="1.63" fill="#4a4a4a"/>
<circle cx="1075.42" cy="1478.98" r="2.26" fill="#4a4a4a"/>
<circle cx="1079.43" cy="1478.72" r="2.32" fill="#4a4a4a"/>
<circle cx="1075.48" cy="1481.76" r="1.97" fill="#4a4a4a"/>
<circle cx="1076.94" cy="1478.91" r="1.69" fill="#4a4a4a"/>
<circle cx="1077.01" cy="1478.43" r="1.82" fill="#606060"/>
<circle cx="1081.61" cy="1481.56" r="2.07" fill="#555"/>
<circle cx="1082.86" cy="1481.93" r="1.74" fill="#555"/>
<circle cx="1067.95" cy="1518.45" r="2.1" fill="#4a4a4a"/>
<circle cx="1064.89" cy="1511.26" r="2.08" fill="#555"/>
<circle cx="1066.3" cy="1514.72" r="2.2" fill="#555"/>
<circle cx="1068.15" cy="1519.91" r="1.81" fill="#606060"/>
<circle cx="1062.47" cy="1513.29" r="1.81" fill="#555"/>
<circle cx="1063.35" cy="1519.54" r="2.38" fill="#606060"/>
<circle cx="1066.81" cy="1518.87" r="1.73" fill="#555"/>
<circle cx="1066.07" cy="1513.09" r="2.38" fill="#606060"/>
<circle cx="1069.36" cy="1514.46" r="2.38" fill="#404040"/>
<circle cx="1067.13" cy="1514.15" r="1.7" fill="#606060"/>
<circle cx="1091.53" cy="1466.95" r="2.36" fill="#555"/>
<circle cx="1089.48" cy="1458.38" r="2.22" fill="#555"/>
<circle cx="1088.41" cy="1463.15" r="1.81" fill="#606060"/>
<circle cx="1090.58" cy="1460.58" r="2.13" fill="#4a4a4a"/>
<circle cx="1094.86" cy="1463.15" r="1.78" fill="#4a4a4a"/>
<circle cx="1091.71" cy="1462.14" r="1.97" fill="#606060"/>
<circle cx="1090.46" cy="1458.46" r="2.08" fill="#606060"/>
<circle cx="1092.89" cy="1459.02" r="2" fill="#4a4a4a"/>
<circle cx="1089.74" cy="1460.7" r="2.13" fill="#404040"/>
<circle cx="1155.35" cy="1515.4" r="1.94" fill="#606060"/>
<circle cx="1155.31" cy="1516.45" r="1.66" fill="#606060"/>
<circle cx="1153.05" cy="1517.44" r="2.4" fill="#555"/>
<circle cx="1155.94" cy="1517.54" r="1.7" fill="#555"/>
<circle cx="1076.69" cy="1504.38" r="1.66" fill="#606060"/>
<circle cx="1075.05" cy="1503.58" r="2.27" fill="#606060"/>
<circle cx="1075.46" cy="1501.17" r="1.81" fill="#404040"/>
<circle cx="1077.05" cy="1506.02" r="2.39" fill="#404040"/>
<circle cx="1073.36" cy="1505.98" r="2.1" fill="#4a4a4a"/>
</g>
<circle cx="1074.74" cy="1540.11" r="0.45" fill="#555" opacity=".7"/>
<circle cx="1146.14" cy="1492.88" r="0.41" fill="#555" opacity=".7"/>
<circle cx="1078.16" cy="1477.6" r="0.63" fill="#555" opacity=".7"/>
<circle cx="1100.58" cy="1455.79" r="0.58" fill="#555" opacity=".7"/>
<circle cx="1069.73" cy="1475.64" r="0.57" fill="#555" opacity=".7"/>
<circle cx="1144.39" cy="1511.33" r="0.55" fill="#555" opacity=".7"/>
<circle cx="1124.27" cy="1528.99" r="0.54" fill="#555" opacity=".7"/>
<circle cx="1073.2" cy="1530.93" r="0.42" fill="#555" opacity=".7"/>
<circle cx="1064.53" cy="1507.96" r="0.5" fill="#555" opacity=".7"/>
<circle cx="1063.42" cy="1492.32" r="0.33" fill="#555" opacity=".7"/>
<circle cx="1095.27" cy="1457.97" r="0.67" fill="#555" opacity=".7"/>
<circle cx="1106.32" cy="1443.14" r="0.36" fill="#555" opacity=".7"/>
<circle cx="1071.78" cy="1519.99" r="0.44" fill="#555" opacity=".7"/>
<circle cx="1124.26" cy="1531.44" r="0.36" fill="#555" opacity=".7"/>
<circle cx="1151.01" cy="1468.21" r="0.55" fill="#555" opacity=".7"/>
<circle cx="1080.11" cy="1533.47" r="0.58" fill="#555" opacity=".7"/>
<circle cx="1079.73" cy="1484.65" r="0.56" fill="#555" opacity=".7"/>
<circle cx="1134.12" cy="1540.87" r="0.47" fill="#555" opacity=".7"/>
<circle cx="1114.97" cy="1529.36" r="0.37" fill="#555" opacity=".7"/>
<circle cx="1141.38" cy="1501.61" r="0.3" fill="#555" opacity=".7"/>
<circle cx="1091.5" cy="1536.43" r="0.64" fill="#555" opacity=".7"/>
<circle cx="1159.43" cy="1504.94" r="0.69" fill="#555" opacity=".7"/>
<circle cx="1123.93" cy="1520.04" r="0.3" fill="#555" opacity=".7"/>
<circle cx="1125.92" cy="1467.81" r="0.64" fill="#555" opacity=".7"/>
<circle cx="1152.78" cy="1514.36" r="0.48" fill="#555" opacity=".7"/>
<circle cx="1095.41" cy="1458.2" r="0.52" fill="#555" opacity=".7"/>
<circle cx="1141.86" cy="1464.11" r="0.64" fill="#555" opacity=".7"/>
<circle cx="1155.25" cy="1461.57" r="0.57" fill="#555" opacity=".7"/>
<circle cx="1097.74" cy="1488.44" r="0.53" fill="#555" opacity=".7"/>
<circle cx="1134.85" cy="1470" r="0.33" fill="#555" opacity=".7"/>
<circle cx="1141.55" cy="1451.15" r="0.33" fill="#555" opacity=".7"/>
<circle cx="1088.01" cy="1529.21" r="0.39" fill="#555" opacity=".7"/>
<circle cx="1155.93" cy="1528.57" r="0.57" fill="#555" opacity=".7"/>
<circle cx="1109.67" cy="1524.33" r="0.33" fill="#555" opacity=".7"/>
<circle cx="1147.68" cy="1473.16" r="0.4" fill="#555" opacity=".7"/>
<circle cx="1062.5" cy="1542.73" r="0.61" fill="#555" opacity=".7"/>
<circle cx="1064.59" cy="1527.25" r="0.41" fill="#555" opacity=".7"/>
<circle cx="1154.68" cy="1503.31" r="0.53" fill="#555" opacity=".7"/>
<circle cx="1107.07" cy="1497.67" r="0.39" fill="#555" opacity=".7"/>
<circle cx="1070.24" cy="1498.06" r="0.54" fill="#555" opacity=".7"/>
<circle cx="1144.74" cy="1491.65" r="0.43" fill="#555" opacity=".7"/>
<circle cx="1105.72" cy="1463.73" r="0.44" fill="#555" opacity=".7"/>
<circle cx="1094.28" cy="1528.24" r="0.67" fill="#555" opacity=".7"/>
<circle cx="1082" cy="1495.5" r="0.33" fill="#555" opacity=".7"/>
<circle cx="1157.44" cy="1506.55" r="0.47" fill="#555" opacity=".7"/>
<circle cx="1146.6" cy="1456.37" r="0.41" fill="#555" opacity=".7"/>
<circle cx="1135.45" cy="1478.14" r="0.44" fill="#555" opacity=".7"/>
<circle cx="1160.65" cy="1499.24" r="0.38" fill="#555" opacity=".7"/>
<circle cx="1066.87" cy="1455.69" r="0.57" fill="#555" opacity=".7"/>
<circle cx="1120.12" cy="1530.2" r="0.65" fill="#555" opacity=".7"/>
<circle cx="1062.97" cy="1473.68" r="0.36" fill="#555" opacity=".7"/>
<circle cx="1160.31" cy="1476" r="0.61" fill="#555" opacity=".7"/>
<circle cx="1095.8" cy="1482.01" r="0.4" fill="#555" opacity=".7"/>
<circle cx="1119.08" cy="1537.41" r="0.7" fill="#555" opacity=".7"/>
<circle cx="1114.97" cy="1508.16" r="0.57" fill="#555" opacity=".7"/>
<circle cx="1143.69" cy="1513.76" r="0.5" fill="#555" opacity=".7"/>
<circle cx="1105.07" cy="1508.93" r="0.32" fill="#555" opacity=".7"/>
<circle cx="1070.78" cy="1524.72" r="0.53" fill="#555" opacity=".7"/>
<circle cx="1077.03" cy="1522.11" r="0.38" fill="#555" opacity=".7"/>
<circle cx="1145.91" cy="1443.95" r="0.49" fill="#555" opacity=".7"/>
<circle cx="1158.12" cy="1527.01" r="0.51" fill="#555" opacity=".7"/>
<circle cx="1101.22" cy="1529.87" r="0.37" fill="#555" opacity=".7"/>
<circle cx="1157.11" cy="1531.07" r="0.33" fill="#555" opacity=".7"/>
<circle cx="1064.15" cy="1500.46" r="0.33" fill="#555" opacity=".7"/>
<circle cx="1065.93" cy="1502.25" r="0.47" fill="#555" opacity=".7"/>
<circle cx="1115.96" cy="1470.32" r="0.54" fill="#555" opacity=".7"/>
<circle cx="1101.96" cy="1533.47" r="0.62" fill="#555" opacity=".7"/>
<circle cx="1089.8" cy="1530.47" r="0.37" fill="#555" opacity=".7"/>
<circle cx="1100.19" cy="1523.06" r="0.44" fill="#555" opacity=".7"/>
<circle cx="1063.64" cy="1463.21" r="0.53" fill="#555" opacity=".7"/>
</g>
<rect x="1062.7" y="1443.2" width="99.1" height="98.6" fill="none" stroke="#000" stroke-width="2.2"/>
<rect x="1070" y="1320.7" width="27.6" height="3" fill="#000"/>
<rect x="1070" y="1428.3" width="27.6" height="3" fill="#000"/>
<rect x="1070" y="1532.6" width="27.6" height="3" fill="#000"/>
<rect x="1312.8" y="1360.2" width="33.4" height="168" fill="#a6a6a6" stroke="#000" stroke-width="1.5"/>
<rect x="1363.4" y="1457.5" width="33.5" height="70.7" fill="#fff" stroke="#000" stroke-width="1.5"/>
<rect x="1414.5" y="1347.5" width="33.6" height="180.7" fill="url(#chk)" stroke="#000" stroke-width="1.5"/>
<line x1="1304.1" y1="1275.5" x2="1304.1" y2="1528.2" stroke="#000" stroke-width="1.6"/>
<line x1="1295.4" y1="1528.2" x2="1455.7" y2="1528.2" stroke="#000" stroke-width="1.6"/>
<line x1="1295.4" y1="1276.3" x2="1304.1" y2="1276.3" stroke="#000" stroke-width="1.6"/>
<text x="1293.4" y="1286" font-size="26.9" text-anchor="end">150</text>
<line x1="1295.4" y1="1360.2" x2="1304.1" y2="1360.2" stroke="#000" stroke-width="1.6"/>
<text x="1293.4" y="1369.9" font-size="26.9" text-anchor="end">100</text>
<line x1="1295.4" y1="1444.2" x2="1304.1" y2="1444.2" stroke="#000" stroke-width="1.6"/>
<text x="1293.4" y="1453.9" font-size="26.9" text-anchor="end">50</text>
<line x1="1295.4" y1="1528.2" x2="1304.1" y2="1528.2" stroke="#000" stroke-width="1.6"/>
<text x="1293.4" y="1537.9" font-size="26.9" text-anchor="end">0</text>
<line x1="1329.6" y1="1528.2" x2="1329.6" y2="1534.2" stroke="#000" stroke-width="1.6"/>
<line x1="1380.2" y1="1528.2" x2="1380.2" y2="1534.2" stroke="#000" stroke-width="1.6"/>
<line x1="1430.8" y1="1528.2" x2="1430.8" y2="1534.2" stroke="#000" stroke-width="1.6"/>
<line x1="1330.3" y1="1330.7" x2="1330.3" y2="1390.4" stroke="#000" stroke-width="1.5"/>
<line x1="1325.8" y1="1330.7" x2="1334.8" y2="1330.7" stroke="#000" stroke-width="1.5"/>
<line x1="1325.8" y1="1390.4" x2="1334.8" y2="1390.4" stroke="#000" stroke-width="1.5"/>
<line x1="1380.6" y1="1439.6" x2="1380.6" y2="1476.1" stroke="#000" stroke-width="1.5"/>
<line x1="1376.1" y1="1439.6" x2="1385.1" y2="1439.6" stroke="#000" stroke-width="1.5"/>
<line x1="1376.1" y1="1476.1" x2="1385.1" y2="1476.1" stroke="#000" stroke-width="1.5"/>
<line x1="1431.3" y1="1307.5" x2="1431.3" y2="1387" stroke="#000" stroke-width="1.5"/>
<line x1="1426.8" y1="1307.5" x2="1435.8" y2="1307.5" stroke="#000" stroke-width="1.5"/>
<line x1="1332.9" y1="1319.1" x2="1371.7" y2="1319.1" stroke="#000" stroke-width="1.6"/>
<text x="1352.85" y="1320.7" font-size="23.5" text-anchor="middle" letter-spacing="1.7">***</text>
<line x1="1394.3" y1="1301.7" x2="1433.1" y2="1301.7" stroke="#000" stroke-width="1.6"/>
<text x="1411.35" y="1303.3" font-size="23.5" text-anchor="middle" letter-spacing="1.7">***</text>
<text transform="translate(1206 1402) rotate(-90)" font-size="26.9" text-anchor="middle">Relative colony area</text>
<text transform="translate(1238.3 1397.5) rotate(-90)" font-size="26.9" text-anchor="middle">(%)</text>
<rect x="1621.5" y="1353.9" width="31.8" height="171.7" fill="#a6a6a6" stroke="#000" stroke-width="1.5"/>
<rect x="1668.2" y="1481.9" width="31.9" height="43.7" fill="#fff" stroke="#000" stroke-width="1.5"/>
<rect x="1715.7" y="1400.2" width="31.9" height="125.4" fill="url(#chk)" stroke="#000" stroke-width="1.5"/>
<line x1="1613.4" y1="1267.4" x2="1613.4" y2="1525.6" stroke="#000" stroke-width="1.6"/>
<line x1="1604.7" y1="1525.6" x2="1755.1" y2="1525.6" stroke="#000" stroke-width="1.6"/>
<line x1="1604.7" y1="1268.2" x2="1613.4" y2="1268.2" stroke="#000" stroke-width="1.6"/>
<text x="1604.8" y="1278.5" font-size="26.9" text-anchor="end">150</text>
<line x1="1604.7" y1="1353.9" x2="1613.4" y2="1353.9" stroke="#000" stroke-width="1.6"/>
<text x="1604.8" y="1364.2" font-size="26.9" text-anchor="end">100</text>
<line x1="1604.7" y1="1439.6" x2="1613.4" y2="1439.6" stroke="#000" stroke-width="1.6"/>
<text x="1604.8" y="1449.9" font-size="26.9" text-anchor="end">50</text>
<line x1="1604.7" y1="1525.6" x2="1613.4" y2="1525.6" stroke="#000" stroke-width="1.6"/>
<text x="1604.8" y="1535.9" font-size="26.9" text-anchor="end">0</text>
<line x1="1637" y1="1525.6" x2="1637" y2="1531.6" stroke="#000" stroke-width="1.6"/>
<line x1="1684.4" y1="1525.6" x2="1684.4" y2="1531.6" stroke="#000" stroke-width="1.6"/>
<line x1="1731.4" y1="1525.6" x2="1731.4" y2="1531.6" stroke="#000" stroke-width="1.6"/>
<line x1="1637.8" y1="1323.8" x2="1637.8" y2="1383.4" stroke="#000" stroke-width="1.5"/>
<line x1="1633.3" y1="1323.8" x2="1642.3" y2="1323.8" stroke="#000" stroke-width="1.5"/>
<line x1="1633.3" y1="1383.4" x2="1642.3" y2="1383.4" stroke="#000" stroke-width="1.5"/>
<line x1="1684.2" y1="1472" x2="1684.2" y2="1492.3" stroke="#000" stroke-width="1.5"/>
<line x1="1679.7" y1="1472" x2="1688.7" y2="1472" stroke="#000" stroke-width="1.5"/>
<line x1="1679.7" y1="1492.3" x2="1688.7" y2="1492.3" stroke="#000" stroke-width="1.5"/>
<line x1="1731.6" y1="1381.7" x2="1731.6" y2="1419.3" stroke="#000" stroke-width="1.5"/>
<line x1="1727.1" y1="1381.7" x2="1736.1" y2="1381.7" stroke="#000" stroke-width="1.5"/>
<line x1="1636.4" y1="1309.4" x2="1674" y2="1309.4" stroke="#000" stroke-width="1.6"/>
<text x="1655.75" y="1311" font-size="23.5" text-anchor="middle" letter-spacing="1.7">**</text>
<line x1="1694.3" y1="1366.6" x2="1733.1" y2="1366.6" stroke="#000" stroke-width="1.6"/>
<text x="1714.25" y="1368.2" font-size="23.5" text-anchor="middle" letter-spacing="1.7">**</text>
<text transform="translate(1517.6 1406.8) rotate(-90)" font-size="26.9" text-anchor="middle">Relative colony</text>
<text transform="translate(1549.5 1403.5) rotate(-90)" font-size="26.9" text-anchor="middle">formation (%)</text>
<rect x="1761.2" y="1264.9" width="26" height="23.8" fill="#a6a6a6" stroke="#000" stroke-width="2.3"/>
<rect x="1761.2" y="1306.6" width="26" height="23.8" fill="#fff" stroke="#000" stroke-width="2.3"/>
<rect x="1761.2" y="1350" width="26" height="23.8" fill="url(#chks)" stroke="#000" stroke-width="2.3"/>
<text x="1798.2" y="1285" font-size="27.2">shControl</text>
<text x="1798.2" y="1325.5" font-size="27.2">shPAK2_Control</text>
<text x="1798.2" y="1367.8" font-size="27.2">shPAK2_Myc</text>
</svg>
</body></html>
